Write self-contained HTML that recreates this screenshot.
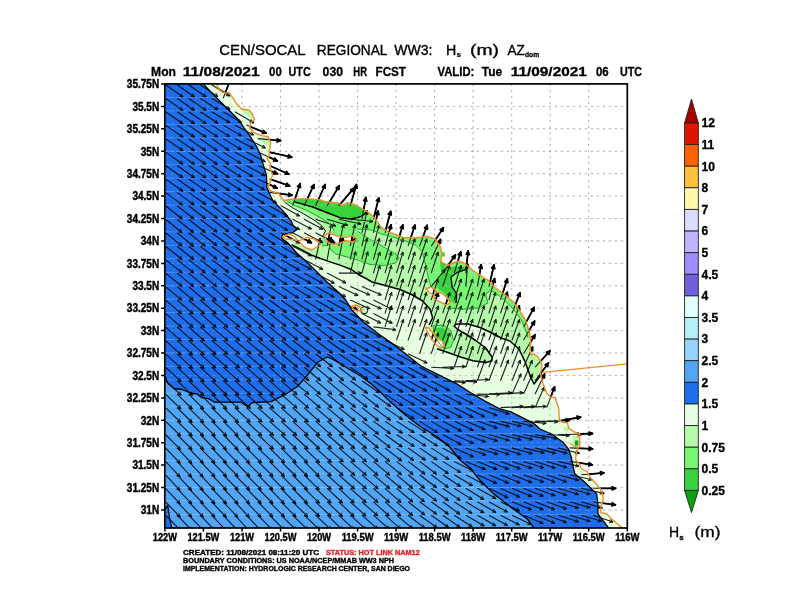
<!DOCTYPE html>
<html><head><meta charset="utf-8"><title>CEN/SOCAL REGIONAL WW3</title>
<style>html,body{margin:0;padding:0;background:#fff}svg{display:block}text{font-family:"Liberation Sans",sans-serif;font-weight:bold;fill:#000}</style></head><body>
<svg width="792" height="612" viewBox="0 0 792 612">
<rect x="0" y="0" width="792" height="612" fill="#fff"/>
<defs><clipPath id="fr"><rect x="164.8" y="83.9" width="462.5" height="444.1"/></clipPath>
<clipPath id="landclip"><path d="M217.0 82.0 L217.0 84.4 L219.0 89.5 L223.4 92.6 L229.0 92.6 L232.8 97.7 L236.6 104.0 L241.7 109.0 L249.2 110.3 L252.4 114.0 L254.3 119.8 L250.5 123.0 L249.9 128.0 L254.3 133.0 L261.9 135.6 L268.2 136.8 L270.7 143.0 L269.4 150.7 L269.0 156.3 L267.0 158.8 L270.8 163.9 L270.2 169.0 L272.7 175.3 L270.2 181.6 L268.3 187.9 L270.8 191.0 L279.0 193.6 L283.5 200.5 L291.7 199.2 L306.8 198.6 L320.7 199.9 L325.8 201.8 L338.4 203.0 L342.2 205.6 L347.6 202.7 L355.0 204.6 L362.7 209.0 L369.0 212.8 L375.4 219.0 L380.4 226.7 L388.0 231.8 L395.6 234.3 L403.0 237.4 L415.8 238.0 L427.6 236.4 L435.0 239.0 L440.2 246.5 L442.0 254.0 L440.8 261.7 L447.8 265.5 L452.8 263.0 L459.0 261.0 L465.5 264.0 L473.0 270.5 L480.6 275.6 L487.6 280.0 L495.0 287.7 L505.3 295.0 L514.0 302.8 L520.4 311.7 L525.5 320.5 L529.0 330.6 L530.5 338.0 L530.3 347.7 L531.0 355.0 L534.0 354.0 L538.0 357.0 L541.0 362.0 L542.0 368.0 L540.4 373.0 L541.7 379.0 L543.6 385.6 L546.7 393.0 L550.5 397.0 L555.0 397.6 L555.9 400.0 L558.8 409.0 L559.3 419.3 L561.6 422.0 L567.3 422.7 L569.0 428.4 L574.0 431.8 L579.8 434.0 L579.8 445.5 L577.5 448.9 L575.8 456.8 L575.8 460.0 L579.5 464.0 L581.3 468.5 L587.5 472.0 L590.5 478.0 L596.7 484.4 L601.6 490.5 L603.4 498.0 L601.6 505.0 L600.3 512.6 L606.5 513.8 L612.6 520.0 L621.0 526.7 L623.0 530.0 L632.0 530.0 L632.0 80.0ZM282.6 237.0 L289.0 233.8 L295.3 237.0 L297.0 240.0 L291.5 239.5 L285.0 239.0ZM299.0 240.8 L306.6 237.6 L314.2 238.9 L320.5 244.0 L316.7 247.0 L311.7 250.0 L305.4 247.7 L301.0 244.0ZM324.3 235.0 L329.3 233.2 L338.2 236.4 L345.8 237.6 L352.0 235.7 L357.0 238.9 L353.3 242.0 L345.8 240.8 L338.2 243.3 L333.0 244.6 L326.8 241.4ZM352.0 306.0 L356.0 305.0 L361.0 307.5 L362.0 310.5 L357.0 311.0 L353.0 309.0ZM426.0 288.5 L431.0 287.3 L435.5 289.5 L434.8 292.3 L441.0 292.7 L446.5 297.0 L450.3 302.5 L446.5 305.0 L440.0 301.8 L434.6 299.0 L433.0 294.5 L428.5 292.0ZM425.5 327.3 L429.0 328.0 L433.0 333.0 L437.5 338.5 L442.0 341.0 L444.5 346.0 L440.0 347.5 L435.5 344.0 L431.0 338.0 L427.5 332.0Z"/></clipPath></defs>
<g clip-path="url(#fr)">
<rect x="164.8" y="83.9" width="462.5" height="444.1" fill="rgb(230,255,225)"/>
<path d="M203.8 82.0 L203.8 84.4 L212.6 93.9 L225.3 106.5 L237.9 119.0 L244.2 128.0 L250.5 136.8 L256.8 147.0 L260.6 155.0 L262.6 162.6 L266.4 175.3 L267.0 187.9 L272.7 200.5 L282.8 210.6 L291.6 221.7 L292.7 225.0 L297.0 229.4 L292.7 232.6 L282.6 234.5 L282.0 238.9 L287.7 242.7 L296.5 252.8 L307.9 262.9 L318.0 273.0 L326.8 281.8 L338.2 292.0 L345.8 300.0 L351.4 309.4 L362.7 321.5 L377.9 333.6 L393.0 344.0 L406.7 354.8 L421.0 366.0 L429.0 370.0 L441.7 376.3 L456.8 383.9 L470.7 392.7 L485.9 401.6 L500.0 409.0 L510.4 411.7 L533.8 423.4 L540.0 429.0 L551.4 434.0 L562.7 442.0 L568.4 448.9 L571.2 456.8 L572.8 464.8 L574.6 473.4 L585.6 483.0 L596.7 494.0 L597.9 504.0 L597.9 513.8 L607.7 526.7 L609.0 530.0 L160.0 530.0 L160.0 82.0Z" fill="rgb(30,110,235)"/>
<path d="M165.0 376.4 L168.0 383.4 L174.0 388.5 L182.0 389.5 L190.3 393.0 L197.4 394.0 L201.4 397.6 L208.5 398.6 L214.5 402.2 L240.8 402.2 L247.9 406.7 L252.0 402.6 L271.0 401.6 L277.0 398.6 L285.3 394.5 L291.3 390.5 L297.4 386.5 L305.5 377.4 L318.0 362.0 L327.3 357.0 L332.3 359.0 L342.4 365.0 L350.5 370.0 L360.6 376.0 L370.7 383.4 L378.8 390.5 L389.0 400.6 L405.0 414.7 L421.0 427.0 L437.4 437.0 L449.5 447.0 L460.0 460.0 L470.0 468.0 L480.6 481.0 L493.4 493.6 L512.5 508.5 L527.4 519.0 L533.8 527.6 L535.0 530.0 L160.0 530.0 L160.0 376.4Z" fill="rgb(80,165,245)"/>
<path d="M164.0 510.5 L167.8 505.4 L169.3 516.5 L171.8 528.5 L160.0 528.5 L160.0 510.5Z" fill="rgb(30,110,235)"/>
<path d="M284.5 202.0 L292.0 207.5 L303.0 213.5 L314.0 220.0 L322.0 226.0 L325.5 231.0 L322.0 237.0 L318.0 241.0 L300.0 240.0 L297.0 240.0 L291.5 244.6 L301.6 249.6 L311.7 255.3 L320.5 258.5 L329.3 261.6 L340.7 265.4 L350.8 269.2 L358.4 274.5 L366.0 278.5 L372.0 282.0 L385.5 285.5 L400.6 289.7 L412.5 295.0 L422.6 301.0 L430.0 309.0 L432.7 317.7 L429.0 325.0 L428.0 332.0 L432.0 339.0 L438.0 346.0 L437.0 348.7 L448.0 352.5 L460.5 357.0 L473.0 360.7 L485.8 362.5 L492.0 360.7 L492.0 357.0 L485.8 348.0 L475.7 340.5 L465.6 334.0 L458.0 329.7 L454.0 326.0 L456.7 324.0 L468.0 324.0 L480.7 327.8 L492.0 333.0 L501.0 338.0 L510.0 341.0 L519.0 349.0 L525.0 361.6 L530.0 375.5 L534.0 384.0 L541.7 374.0 L541.0 362.0 L560.0 350.0 L560.0 190.0 L284.0 190.0Z" fill="rgb(180,250,170)"/>
<path d="M225.0 92.5 L230.0 92.8 L233.0 97.5 L231.0 99.5 L227.0 96.0Z" fill="rgb(180,250,170)"/>
<path d="M241.0 109.0 L249.0 110.5 L252.0 114.0 L253.5 118.5 L249.0 117.0 L244.0 113.0Z" fill="rgb(180,250,170)"/>
<path d="M259.0 137.0 L268.0 137.0 L270.5 143.0 L269.5 147.0 L265.0 144.5 L260.5 140.0Z" fill="rgb(180,250,170)"/>
<path d="M287.0 201.5 L296.0 206.0 L308.0 211.0 L320.0 217.5 L330.0 224.0 L334.0 231.0 L324.0 236.0 L322.0 240.0 L318.0 243.0 L322.0 246.0 L329.0 245.0 L331.0 250.0 L336.0 254.0 L346.0 256.6 L358.4 260.4 L370.0 264.5 L384.0 265.5 L395.6 263.0 L399.3 258.0 L395.6 254.0 L383.0 246.6 L371.6 240.0 L357.7 231.4 L357.7 229.0 L371.6 230.0 L381.7 234.0 L390.5 236.5 L403.0 240.0 L415.8 245.3 L422.0 251.6 L425.9 265.5 L428.4 278.0 L431.0 287.0 L426.0 288.0 L435.0 297.0 L444.0 304.0 L449.0 303.5 L447.7 308.0 L463.0 309.3 L478.0 308.0 L488.0 303.0 L485.6 294.0 L490.7 290.4 L495.7 293.0 L503.3 299.0 L513.4 309.0 L521.0 319.4 L526.7 333.0 L528.0 338.0 L530.0 337.0 L560.0 336.0 L560.0 190.0 L287.0 190.0Z" fill="rgb(120,245,115)"/>
<path d="M433.0 326.0 L444.0 325.0 L451.0 331.0 L453.5 340.0 L451.0 347.0 L444.0 349.0 L439.0 343.0 L434.0 334.0Z" fill="rgb(120,245,115)"/>
<path d="M294.5 201.8 L312.7 207.0 L327.9 213.0 L340.0 217.7 L350.6 219.0 L359.7 217.0 L365.0 214.0 L367.0 211.0 L372.0 195.0 L291.0 195.0Z" fill="rgb(55,210,60)"/>
<path d="M445.0 269.0 L454.0 266.4 L466.7 266.4 L464.0 270.0 L454.0 272.7 L450.0 277.8 L452.0 288.0 L456.6 296.7 L455.3 304.0 L450.0 300.5 L444.0 293.0 L437.6 287.9 L436.4 284.0 L441.4 275.0 L440.0 262.0 L446.0 258.0Z" fill="rgb(55,210,60)"/>
<path d="M436.0 328.0 L443.0 327.5 L448.0 333.0 L449.5 341.0 L446.0 346.0 L441.0 342.0 L437.0 336.0Z" fill="rgb(55,210,60)"/>
<path d="M573.0 436.0 L579.5 436.0 L579.5 447.5 L576.0 448.0 L573.0 444.0Z" fill="rgb(180,250,170)"/>
<path d="M564.0 426.5 L568.5 427.0 L568.0 432.0 L564.5 431.0Z" fill="rgb(180,250,170)"/>
<path d="M338.0 203.0 L342.0 203.0 L342.0 206.0 L338.0 206.0Z" fill="rgb(15,160,15)"/>
<path d="M387.0 225.5 L390.5 225.5 L390.5 229.0 L387.0 229.0Z" fill="rgb(15,160,15)"/>
<path d="M575.0 440.5 L578.3 440.5 L578.3 445.5 L575.0 445.5Z" fill="rgb(15,160,15)"/>
<path d="M164.8 97.5H627.2M164.8 110.9H627.2M164.8 124.3H627.2M164.8 137.8H627.2M164.8 151.2H627.2M164.8 164.7H627.2M164.8 178.1H627.2M164.8 191.6H627.2M164.8 205.0H627.2M164.8 218.5H627.2M164.8 231.9H627.2M164.8 245.4H627.2M164.8 258.8H627.2M164.8 272.3H627.2M164.8 285.8H627.2M164.8 299.2H627.2M164.8 312.6H627.2M164.8 326.1H627.2M164.8 339.5H627.2M164.8 353.0H627.2M164.8 366.4H627.2M164.8 379.9H627.2M164.8 393.3H627.2M164.8 406.8H627.2M164.8 420.2H627.2M164.8 433.7H627.2M164.8 447.1H627.2M164.8 460.6H627.2M164.8 474.0H627.2M164.8 487.5H627.2M164.8 500.9H627.2M164.8 514.4H627.2" stroke="rgba(225,240,255,0.34)" stroke-width="0.8" stroke-dasharray="10 1.5" fill="none"/>
<path d="M217.0 82.0 L217.0 84.4 L219.0 89.5 L223.4 92.6 L229.0 92.6 L232.8 97.7 L236.6 104.0 L241.7 109.0 L249.2 110.3 L252.4 114.0 L254.3 119.8 L250.5 123.0 L249.9 128.0 L254.3 133.0 L261.9 135.6 L268.2 136.8 L270.7 143.0 L269.4 150.7 L269.0 156.3 L267.0 158.8 L270.8 163.9 L270.2 169.0 L272.7 175.3 L270.2 181.6 L268.3 187.9 L270.8 191.0 L279.0 193.6 L283.5 200.5 L291.7 199.2 L306.8 198.6 L320.7 199.9 L325.8 201.8 L338.4 203.0 L342.2 205.6 L347.6 202.7 L355.0 204.6 L362.7 209.0 L369.0 212.8 L375.4 219.0 L380.4 226.7 L388.0 231.8 L395.6 234.3 L403.0 237.4 L415.8 238.0 L427.6 236.4 L435.0 239.0 L440.2 246.5 L442.0 254.0 L440.8 261.7 L447.8 265.5 L452.8 263.0 L459.0 261.0 L465.5 264.0 L473.0 270.5 L480.6 275.6 L487.6 280.0 L495.0 287.7 L505.3 295.0 L514.0 302.8 L520.4 311.7 L525.5 320.5 L529.0 330.6 L530.5 338.0 L530.3 347.7 L531.0 355.0 L534.0 354.0 L538.0 357.0 L541.0 362.0 L542.0 368.0 L540.4 373.0 L541.7 379.0 L543.6 385.6 L546.7 393.0 L550.5 397.0 L555.0 397.6 L555.9 400.0 L558.8 409.0 L559.3 419.3 L561.6 422.0 L567.3 422.7 L569.0 428.4 L574.0 431.8 L579.8 434.0 L579.8 445.5 L577.5 448.9 L575.8 456.8 L575.8 460.0 L579.5 464.0 L581.3 468.5 L587.5 472.0 L590.5 478.0 L596.7 484.4 L601.6 490.5 L603.4 498.0 L601.6 505.0 L600.3 512.6 L606.5 513.8 L612.6 520.0 L621.0 526.7 L623.0 530.0 L632.0 530.0 L632.0 80.0ZM282.6 237.0 L289.0 233.8 L295.3 237.0 L297.0 240.0 L291.5 239.5 L285.0 239.0ZM299.0 240.8 L306.6 237.6 L314.2 238.9 L320.5 244.0 L316.7 247.0 L311.7 250.0 L305.4 247.7 L301.0 244.0ZM324.3 235.0 L329.3 233.2 L338.2 236.4 L345.8 237.6 L352.0 235.7 L357.0 238.9 L353.3 242.0 L345.8 240.8 L338.2 243.3 L333.0 244.6 L326.8 241.4ZM352.0 306.0 L356.0 305.0 L361.0 307.5 L362.0 310.5 L357.0 311.0 L353.0 309.0ZM426.0 288.5 L431.0 287.3 L435.5 289.5 L434.8 292.3 L441.0 292.7 L446.5 297.0 L450.3 302.5 L446.5 305.0 L440.0 301.8 L434.6 299.0 L433.0 294.5 L428.5 292.0ZM425.5 327.3 L429.0 328.0 L433.0 333.0 L437.5 338.5 L442.0 341.0 L444.5 346.0 L440.0 347.5 L435.5 344.0 L431.0 338.0 L427.5 332.0Z" fill="#fff"/>
<path d="M457.5 319.0 L463.5 318.3 L464.0 325.5 L461.0 328.0 L458.0 325.0Z" fill="#fff"/>
<path d="M441.6 252.3 L444.8 252.3 L444.8 256.6 L441.6 256.6Z" fill="rgb(55,210,60)"/>
</g>
<defs><clipPath id="blueclip"><path d="M203.8 82.0 L203.8 84.4 L212.6 93.9 L225.3 106.5 L237.9 119.0 L244.2 128.0 L250.5 136.8 L256.8 147.0 L260.6 155.0 L262.6 162.6 L266.4 175.3 L267.0 187.9 L272.7 200.5 L282.8 210.6 L291.6 221.7 L292.7 225.0 L297.0 229.4 L292.7 232.6 L282.6 234.5 L282.0 238.9 L287.7 242.7 L296.5 252.8 L307.9 262.9 L318.0 273.0 L326.8 281.8 L338.2 292.0 L345.8 300.0 L351.4 309.4 L362.7 321.5 L377.9 333.6 L393.0 344.0 L406.7 354.8 L421.0 366.0 L429.0 370.0 L441.7 376.3 L456.8 383.9 L470.7 392.7 L485.9 401.6 L500.0 409.0 L510.4 411.7 L533.8 423.4 L540.0 429.0 L551.4 434.0 L562.7 442.0 L568.4 448.9 L571.2 456.8 L572.8 464.8 L574.6 473.4 L585.6 483.0 L596.7 494.0 L597.9 504.0 L597.9 513.8 L607.7 526.7 L609.0 530.0 L160.0 530.0 L160.0 82.0Z"/></clipPath>
<clipPath id="nbclip"><path clip-rule="evenodd" d="M0 0H792V612H0ZM203.8 82.0 L203.8 84.4 L212.6 93.9 L225.3 106.5 L237.9 119.0 L244.2 128.0 L250.5 136.8 L256.8 147.0 L260.6 155.0 L262.6 162.6 L266.4 175.3 L267.0 187.9 L272.7 200.5 L282.8 210.6 L291.6 221.7 L292.7 225.0 L297.0 229.4 L292.7 232.6 L282.6 234.5 L282.0 238.9 L287.7 242.7 L296.5 252.8 L307.9 262.9 L318.0 273.0 L326.8 281.8 L338.2 292.0 L345.8 300.0 L351.4 309.4 L362.7 321.5 L377.9 333.6 L393.0 344.0 L406.7 354.8 L421.0 366.0 L429.0 370.0 L441.7 376.3 L456.8 383.9 L470.7 392.7 L485.9 401.6 L500.0 409.0 L510.4 411.7 L533.8 423.4 L540.0 429.0 L551.4 434.0 L562.7 442.0 L568.4 448.9 L571.2 456.8 L572.8 464.8 L574.6 473.4 L585.6 483.0 L596.7 494.0 L597.9 504.0 L597.9 513.8 L607.7 526.7 L609.0 530.0 L160.0 530.0 L160.0 82.0Z"/></clipPath></defs>
<g clip-path="url(#nbclip)"><path d="M203.4 83.9V528.0M242.0 83.9V528.0M280.5 83.9V528.0M319.0 83.9V528.0M357.6 83.9V528.0M396.1 83.9V528.0M434.6 83.9V528.0M473.1 83.9V528.0M511.7 83.9V528.0M550.2 83.9V528.0M588.7 83.9V528.0M164.8 106.4H627.2M164.8 128.8H627.2M164.8 151.3H627.2M164.8 173.7H627.2M164.8 196.1H627.2M164.8 218.5H627.2M164.8 240.9H627.2M164.8 263.4H627.2M164.8 285.8H627.2M164.8 308.2H627.2M164.8 330.6H627.2M164.8 353.0H627.2M164.8 375.5H627.2M164.8 397.9H627.2M164.8 420.3H627.2M164.8 442.7H627.2M164.8 465.1H627.2M164.8 487.6H627.2M164.8 510.0H627.2" stroke="#8a8a8a" stroke-width="0.9" stroke-dasharray="2.3 3.7" fill="none" opacity="0.5"/></g>
<g clip-path="url(#landclip)"><path d="M203.4 83.9V528.0M242.0 83.9V528.0M280.5 83.9V528.0M319.0 83.9V528.0M357.6 83.9V528.0M396.1 83.9V528.0M434.6 83.9V528.0M473.1 83.9V528.0M511.7 83.9V528.0M550.2 83.9V528.0M588.7 83.9V528.0M164.8 106.4H627.2M164.8 128.8H627.2M164.8 151.3H627.2M164.8 173.7H627.2M164.8 196.1H627.2M164.8 218.5H627.2M164.8 240.9H627.2M164.8 263.4H627.2M164.8 285.8H627.2M164.8 308.2H627.2M164.8 330.6H627.2M164.8 353.0H627.2M164.8 375.5H627.2M164.8 397.9H627.2M164.8 420.3H627.2M164.8 442.7H627.2M164.8 465.1H627.2M164.8 487.6H627.2M164.8 510.0H627.2" stroke="#8a8a8a" stroke-width="0.9" stroke-dasharray="2.3 3.7" fill="none" opacity="0.35"/></g>
<g clip-path="url(#blueclip)"><path d="M203.4 83.9V528.0M242.0 83.9V528.0M280.5 83.9V528.0M319.0 83.9V528.0M357.6 83.9V528.0M396.1 83.9V528.0M434.6 83.9V528.0M473.1 83.9V528.0M511.7 83.9V528.0M550.2 83.9V528.0M588.7 83.9V528.0M164.8 106.4H627.2M164.8 128.8H627.2M164.8 151.3H627.2M164.8 173.7H627.2M164.8 196.1H627.2M164.8 218.5H627.2M164.8 240.9H627.2M164.8 263.4H627.2M164.8 285.8H627.2M164.8 308.2H627.2M164.8 330.6H627.2M164.8 353.0H627.2M164.8 375.5H627.2M164.8 397.9H627.2M164.8 420.3H627.2M164.8 442.7H627.2M164.8 465.1H627.2M164.8 487.6H627.2M164.8 510.0H627.2" stroke="#cfe2ff" stroke-width="0.9" stroke-dasharray="2.3 3.7" fill="none" opacity="0.28"/></g>
<g clip-path="url(#fr)">
<g clip-path="url(#landclip)"><path d="M165.5 84.8L183.0 97.0M177.1 84.8L194.5 97.0M188.6 84.8L206.1 97.0M200.2 84.8L217.9 96.6M211.7 84.8L229.8 96.0M165.5 98.2L183.0 110.4M177.1 98.2L194.5 110.5M188.6 98.2L206.1 110.4M200.2 98.2L218.0 109.9M211.7 98.2L229.9 109.3M223.2 98.2L231.2 77.5M165.5 111.7L183.0 123.8M177.1 111.7L194.6 123.8M188.6 111.7L206.2 123.6M200.2 111.7L218.0 123.3M211.7 111.7L229.9 122.8M223.2 111.7L241.5 122.6M234.8 111.7L253.2 122.5M165.5 125.1L183.1 137.2M177.1 125.1L194.6 137.2M188.6 125.1L206.2 137.2M200.2 125.1L217.8 137.1M211.7 125.1L229.6 136.6M223.2 125.1L241.6 135.9M234.8 125.1L253.7 135.0M246.4 125.1L266.1 133.1M165.5 138.6L183.0 150.7M177.1 138.6L194.5 150.8M188.6 138.6L205.9 151.0M200.2 138.6L217.4 151.0M211.7 138.6L229.2 150.8M223.2 138.6L241.4 149.7M234.8 138.6L253.7 148.5M246.4 138.6L265.5 148.0M257.9 138.6L280.6 140.7M165.5 152.1L183.0 164.2M177.1 152.1L194.4 164.4M188.6 152.1L205.9 164.5M200.2 152.1L217.4 164.6M211.7 152.1L229.0 164.4M223.2 152.1L241.1 163.6M234.8 152.1L253.3 162.6M246.4 152.1L265.3 161.7M257.9 152.1L277.3 160.9M269.4 152.1L291.7 157.2M165.5 165.5L182.9 177.7M177.1 165.5L194.5 177.8M188.6 165.5L206.0 177.9M200.2 165.5L217.5 177.9M211.7 165.5L229.3 177.5M223.2 165.5L241.1 177.1M234.8 165.5L252.8 176.8M246.4 165.5L265.0 175.7M257.9 165.5L277.5 173.8M269.4 165.5L288.9 174.2M165.5 178.9L182.9 191.3M177.1 178.9L194.5 191.2M188.6 178.9L206.1 191.1M200.2 178.9L217.8 190.9M211.7 178.9L229.5 190.7M223.2 178.9L241.1 190.5M234.8 178.9L252.7 190.5M246.4 178.9L264.6 190.0M257.9 178.9L277.1 188.1M269.4 178.9L289.6 185.9M165.5 192.4L182.6 205.1M177.1 192.4L194.2 205.0M188.6 192.4L206.0 204.7M200.2 192.4L217.7 204.5M211.7 192.4L229.4 204.2M223.2 192.4L241.1 204.0M234.8 192.4L252.7 204.0M246.4 192.4L264.4 203.7M257.9 192.4L276.5 202.8M269.4 192.4L292.1 195.2M165.5 205.8L182.3 219.0M177.1 205.8L193.9 218.9M188.6 205.8L205.6 218.7M200.2 205.8L217.4 218.3M211.7 205.8L229.1 218.1M223.2 205.8L240.7 218.0M234.8 205.8L252.4 217.9M246.4 205.8L264.1 217.6M257.9 205.8L276.0 217.1M269.4 205.8L287.9 216.5M281.0 205.8L299.7 216.1M292.6 205.8L300.2 183.7M304.1 205.8L314.0 184.6M315.6 205.8L325.2 184.5M327.2 205.8L339.3 185.8M338.8 205.8L353.9 188.1M350.3 205.8L356.5 184.5M165.5 219.3L182.1 232.7M177.1 219.3L193.6 232.7M188.6 219.3L205.3 232.5M200.2 219.3L217.1 232.1M211.7 219.3L228.8 231.9M223.2 219.3L240.3 232.0M234.8 219.3L251.9 232.0M246.4 219.3L263.7 231.7M257.9 219.3L275.6 231.1M269.4 219.3L287.7 230.4M281.0 219.3L299.6 229.6M292.6 219.3L311.5 229.0M304.1 219.3L322.9 229.3M315.6 219.3L335.9 225.9M327.2 219.3L347.7 225.2M338.8 219.3L361.1 224.0M350.3 219.3L373.0 221.5M361.9 219.3L365.9 197.5M373.4 219.3L378.8 197.8M165.5 232.8L182.1 246.1M177.1 232.8L193.6 246.2M188.6 232.8L205.2 246.1M200.2 232.8L217.0 245.7M211.7 232.8L228.8 245.5M223.2 232.8L240.3 245.6M234.8 232.8L251.8 245.6M246.4 232.8L263.5 245.3M257.9 232.8L275.3 245.0M269.4 232.8L287.4 244.2M281.0 232.8L299.6 243.2M292.6 232.8L311.4 242.8M304.1 232.8L322.9 242.7M315.6 232.8L334.5 242.7M361.9 232.8L367.1 211.2M373.4 232.8L378.0 211.0M385.0 232.8L390.7 211.3M165.5 246.2L182.1 259.5M177.1 246.2L193.7 259.5M188.6 246.2L205.3 259.4M200.2 246.2L217.0 259.2M211.7 246.2L228.8 259.0M223.2 246.2L240.3 258.9M234.8 246.2L252.0 258.8M246.4 246.2L263.6 258.7M257.9 246.2L275.2 258.7M269.4 246.2L287.2 258.0M281.0 246.2L299.6 256.6M292.6 246.2L311.5 255.9M327.2 246.2L331.4 224.4M338.8 246.2L343.4 224.5M350.3 246.2L354.9 224.5M361.9 246.2L366.9 224.6M373.4 246.2L379.2 224.8M385.0 246.2L391.1 224.9M396.5 246.2L402.8 224.9M408.1 246.2L414.9 225.1M419.6 246.2L427.2 225.3M431.2 246.2L443.4 227.7M165.5 259.6L182.2 272.9M177.1 259.6L193.7 272.9M188.6 259.6L205.3 272.9M200.2 259.6L217.0 272.7M211.7 259.6L228.7 272.5M223.2 259.6L240.4 272.3M234.8 259.6L252.0 272.2M246.4 259.6L263.6 272.2M257.9 259.6L275.2 272.1M269.4 259.6L287.2 271.5M281.0 259.6L299.5 270.2M292.6 259.6L311.4 269.5M304.1 259.6L323.0 269.4M315.6 259.6L320.2 237.9M327.2 259.6L331.1 237.8M338.8 259.6L343.0 237.9M350.3 259.6L355.0 238.0M361.9 259.6L367.1 238.1M373.4 259.6L379.4 238.3M385.0 259.6L391.3 238.4M396.5 259.6L403.0 238.4M408.1 259.6L414.9 238.5M419.6 259.6L426.8 238.7M431.2 259.6L440.5 239.5M165.5 273.1L182.1 286.5M177.1 273.1L193.6 286.6M188.6 273.1L205.1 286.6M200.2 273.1L216.6 286.6M211.7 273.1L228.3 286.4M223.2 273.1L240.2 286.1M234.8 273.1L251.9 285.8M246.4 273.1L263.6 285.6M257.9 273.1L275.3 285.4M269.4 273.1L287.2 284.9M281.0 273.1L299.2 284.2M292.6 273.1L311.1 283.6M304.1 273.1L322.8 283.4M315.6 273.1L334.3 283.3M327.2 273.1L346.0 283.1M338.8 273.1L361.6 273.1M350.3 273.1L355.6 251.6M361.9 273.1L367.8 251.7M373.4 273.1L379.8 251.9M385.0 273.1L391.4 251.9M396.5 273.1L403.0 251.9M408.1 273.1L414.8 251.9M419.6 273.1L426.5 252.0M431.2 273.1L438.1 252.0M442.7 273.1L455.4 254.9M454.2 273.1L460.7 251.9M465.8 273.1L468.1 251.0M165.5 286.6L181.9 300.1M177.1 286.6L193.3 300.3M188.6 286.6L204.8 300.4M200.2 286.6L216.3 300.5M211.7 286.6L227.9 300.3M223.2 286.6L239.8 300.0M234.8 286.6L251.7 299.6M246.4 286.6L263.4 299.3M257.9 286.6L275.2 299.0M269.4 286.6L287.0 298.7M281.0 286.6L298.8 298.2M292.6 286.6L310.6 297.8M304.1 286.6L322.4 297.4M315.6 286.6L334.1 297.1M327.2 286.6L345.8 296.9M338.8 286.6L358.0 295.6M350.3 286.6L369.9 294.9M361.9 286.6L381.4 295.1M373.4 286.6L379.9 265.3M385.0 286.6L391.4 265.3M396.5 286.6L403.1 265.3M408.1 286.6L414.8 265.4M419.6 286.6L426.4 265.4M431.2 286.6L445.2 269.4M442.7 286.6L449.6 265.4M454.2 286.6L461.2 265.5M465.8 286.6L467.7 264.4M477.4 286.6L481.2 264.7M488.9 286.6L494.0 265.0M165.5 300.0L181.7 313.8M177.1 300.0L193.2 313.9M188.6 300.0L204.7 314.0M200.2 300.0L216.2 314.0M211.7 300.0L227.8 313.9M223.2 300.0L239.6 313.7M234.8 300.0L251.4 313.4M246.4 300.0L263.1 313.2M257.9 300.0L274.8 313.0M269.4 300.0L286.6 312.7M281.0 300.0L298.4 312.3M292.6 300.0L310.2 312.0M304.1 300.0L322.1 311.4M315.6 300.0L334.0 310.8M327.2 300.0L345.6 310.6M338.8 300.0L357.4 310.3M350.3 300.0L369.8 308.7M361.9 300.0L381.2 308.8M373.4 300.0L392.5 309.4M385.0 300.0L391.5 278.8M396.5 300.0L403.2 278.8M408.1 300.0L414.9 278.9M419.6 300.0L426.5 278.9M431.2 300.0L438.0 278.9M454.2 300.0L461.2 278.9M465.8 300.0L472.7 278.9M477.4 300.0L484.0 278.8M488.9 300.0L494.6 278.6M500.5 300.0L507.3 278.9M165.5 313.4L181.6 327.4M177.1 313.4L193.1 327.4M188.6 313.4L204.7 327.4M200.2 313.4L216.2 327.4M211.7 313.4L227.9 327.3M223.2 313.4L239.6 327.1M234.8 313.4L251.2 327.0M246.4 313.4L262.8 327.0M257.9 313.4L274.4 326.9M269.4 313.4L286.2 326.6M281.0 313.4L298.0 326.3M292.6 313.4L309.6 326.2M304.1 313.4L321.3 326.0M315.6 313.4L333.6 325.0M327.2 313.4L345.6 324.2M338.8 313.4L357.3 323.9M350.3 313.4L369.2 323.3M361.9 313.4L380.8 323.1M373.4 313.4L392.3 323.2M385.0 313.4L391.6 292.3M396.5 313.4L403.3 292.3M408.1 313.4L414.9 292.3M419.6 313.4L426.5 292.3M431.2 313.4L438.2 292.4M442.7 313.4L449.8 292.4M454.2 313.4L461.3 292.4M465.8 313.4L472.7 292.4M477.4 313.4L484.2 292.3M488.9 313.4L495.5 292.3M500.5 313.4L507.3 292.3M512.0 313.4L520.0 292.7M165.5 326.9L181.3 341.2M177.1 326.9L192.9 341.2M188.6 326.9L204.5 341.0M200.2 326.9L216.2 340.9M211.7 326.9L227.9 340.7M223.2 326.9L239.6 340.6M234.8 326.9L251.1 340.6M246.4 326.9L262.7 340.6M257.9 326.9L274.2 340.6M269.4 326.9L286.0 340.3M281.0 326.9L297.8 340.0M292.6 326.9L309.4 340.0M304.1 326.9L320.9 340.0M315.6 326.9L332.8 339.6M327.2 326.9L345.1 338.5M338.8 326.9L357.0 337.8M350.3 326.9L368.8 337.4M361.9 326.9L380.6 336.9M373.4 326.9L396.0 329.7M385.0 326.9L391.7 305.7M396.5 326.9L403.3 305.8M408.1 326.9L415.0 305.8M419.6 326.9L426.7 305.9M431.2 326.9L438.4 305.9M442.7 326.9L449.9 305.9M454.2 326.9L461.4 305.9M465.8 326.9L472.7 305.8M477.4 326.9L484.2 305.8M488.9 326.9L495.8 305.8M500.5 326.9L507.4 305.8M512.0 326.9L519.3 305.9M523.5 326.9L534.2 307.4M165.5 340.3L181.1 354.8M177.1 340.3L192.6 354.9M188.6 340.3L204.3 354.8M200.2 340.3L216.0 354.5M211.7 340.3L227.8 354.3M223.2 340.3L239.5 354.1M234.8 340.3L251.1 354.0M246.4 340.3L262.7 354.0M257.9 340.3L274.2 354.0M269.4 340.3L286.0 353.8M281.0 340.3L297.8 353.5M292.6 340.3L309.4 353.4M304.1 340.3L320.9 353.4M315.6 340.3L332.7 353.1M327.2 340.3L344.7 352.5M338.8 340.3L356.7 351.9M350.3 340.3L368.6 351.2M361.9 340.3L380.6 350.5M373.4 340.3L392.4 349.9M385.0 340.3L404.3 349.4M396.5 340.3L403.4 319.3M408.1 340.3L415.1 319.3M419.6 340.3L426.7 319.3M431.2 340.3L438.3 319.3M442.7 340.3L449.9 319.4M454.2 340.3L461.3 319.3M465.8 340.3L472.7 319.2M477.4 340.3L484.2 319.2M488.9 340.3L496.0 319.3M500.5 340.3L507.8 319.4M512.0 340.3L519.5 319.4M523.5 340.3L534.6 321.1M165.5 353.8L181.1 368.3M177.1 353.8L192.6 368.3M188.6 353.8L204.2 368.3M200.2 353.8L215.9 368.1M211.7 353.8L227.7 367.9M223.2 353.8L239.4 367.7M234.8 353.8L251.0 367.6M246.4 353.8L262.6 367.6M257.9 353.8L274.1 367.6M269.4 353.8L285.8 367.5M281.0 353.8L297.6 367.2M292.6 353.8L309.3 367.0M304.1 353.8L320.9 366.9M315.6 353.8L332.5 366.8M327.2 353.8L344.3 366.5M338.8 353.8L356.3 365.9M350.3 353.8L368.3 365.1M361.9 353.8L380.3 364.4M373.4 353.8L392.1 364.0M385.0 353.8L403.6 364.1M396.5 353.8L415.4 363.6M408.1 353.8L427.2 363.1M419.6 353.8L426.7 332.8M431.2 353.8L438.3 332.8M442.7 353.8L449.8 332.8M454.2 353.8L461.3 332.7M465.8 353.8L472.7 332.7M477.4 353.8L484.4 332.7M488.9 353.8L496.3 332.9M500.5 353.8L508.0 332.9M512.0 353.8L519.6 332.9M523.5 353.8L535.0 334.8M165.5 367.2L181.1 381.7M177.1 367.2L192.6 381.8M188.6 367.2L204.2 381.8M200.2 367.2L215.8 381.7M211.7 367.2L227.4 381.6M223.2 367.2L239.2 381.4M234.8 367.2L250.8 381.3M246.4 367.2L262.3 381.4M257.9 367.2L273.8 381.4M269.4 367.2L285.4 381.3M281.0 367.2L297.2 381.0M292.6 367.2L309.0 380.7M304.1 367.2L320.6 380.7M315.6 367.2L332.1 380.8M327.2 367.2L343.7 380.7M338.8 367.2L355.7 380.1M350.3 367.2L367.9 379.2M361.9 367.2L379.9 378.6M373.4 367.2L391.5 378.4M385.0 367.2L403.2 378.2M396.5 367.2L415.2 377.5M408.1 367.2L426.8 377.4M419.6 367.2L438.3 377.4M431.2 367.2L453.9 368.4M442.7 367.2L465.5 366.5M454.2 367.2L461.4 346.2M465.8 367.2L473.0 346.2M477.4 367.2L484.7 346.3M488.9 367.2L496.5 346.4M500.5 367.2L508.1 346.4M512.0 367.2L519.6 346.4M523.5 367.2L532.6 347.0M535.1 367.2L550.0 350.8M165.5 380.7L181.1 395.2M177.1 380.7L192.5 395.4M188.6 380.7L203.9 395.5M200.2 380.7L215.4 395.6M211.7 380.7L227.1 395.5M223.2 380.7L238.9 395.2M234.8 380.7L250.6 394.9M246.4 380.7L262.2 394.9M257.9 380.7L273.7 395.0M269.4 380.7L285.3 394.9M281.0 380.7L297.1 394.7M292.6 380.7L308.9 394.4M304.1 380.7L320.5 394.3M315.6 380.7L332.0 394.4M327.2 380.7L343.5 394.4M338.8 380.7L355.5 393.9M350.3 380.7L367.5 393.3M361.9 380.7L379.4 392.8M373.4 380.7L391.3 392.3M385.0 380.7L402.8 392.3M396.5 380.7L414.9 391.5M408.1 380.7L426.7 391.0M419.6 380.7L438.2 391.0M431.2 380.7L449.9 390.8M442.7 380.7L465.4 382.7M454.2 380.7L477.0 381.9M465.8 380.7L488.6 379.5M477.4 380.7L485.0 359.8M488.9 380.7L496.7 359.9M500.5 380.7L508.4 360.0M512.0 380.7L520.3 360.1M523.5 380.7L532.2 360.3M535.1 380.7L548.5 363.0M165.5 394.1L180.9 408.8M177.1 394.1L192.3 409.0M188.6 394.1L203.7 409.2M200.2 394.1L215.2 409.2M211.7 394.1L226.8 409.2M223.2 394.1L238.6 408.9M234.8 394.1L250.5 408.5M246.4 394.1L262.2 408.4M257.9 394.1L273.8 408.4M269.4 394.1L285.3 408.3M281.0 394.1L297.0 408.2M292.6 394.1L308.6 408.1M304.1 394.1L320.3 408.0M315.6 394.1L332.0 407.8M327.2 394.1L343.6 407.7M338.8 394.1L355.5 407.3M350.3 394.1L367.1 407.2M361.9 394.1L378.7 407.2M373.4 394.1L390.8 406.5M385.0 394.1L402.8 405.8M396.5 394.1L414.7 405.3M408.1 394.1L426.5 404.8M419.6 394.1L438.2 404.5M431.2 394.1L449.9 404.2M442.7 394.1L461.5 404.1M454.2 394.1L473.2 403.9M465.8 394.1L488.5 396.5M477.4 394.1L500.1 394.5M488.9 394.1L511.6 392.6M500.5 394.1L523.2 392.6M512.0 394.1L521.0 373.8M523.5 394.1L532.6 373.9M535.1 394.1L544.6 374.1M165.5 407.6L180.8 422.4M177.1 407.6L192.2 422.5M188.6 407.6L203.7 422.6M200.2 407.6L215.2 422.7M211.7 407.6L226.8 422.6M223.2 407.6L238.5 422.5M234.8 407.6L250.3 422.2M246.4 407.6L262.1 422.0M257.9 407.6L273.7 421.9M269.4 407.6L285.3 421.8M281.0 407.6L296.8 421.9M292.6 407.6L308.3 422.0M304.1 407.6L319.8 422.0M315.6 407.6L331.7 421.6M327.2 407.6L343.5 421.3M338.8 407.6L355.3 421.0M350.3 407.6L367.1 420.7M361.9 407.6L378.7 420.7M373.4 407.6L390.5 420.3M385.0 407.6L402.6 419.6M396.5 407.6L414.4 419.1M408.1 407.6L426.1 418.9M419.6 407.6L437.8 418.6M431.2 407.6L449.8 417.9M442.7 407.6L461.6 417.4M454.2 407.6L473.2 417.3M465.8 407.6L484.9 416.9M477.4 407.6L497.1 415.6M488.9 407.6L509.2 414.1M500.5 407.6L523.2 406.4M512.0 407.6L534.8 406.4M523.5 407.6L546.3 406.4M535.1 407.6L544.1 387.3M546.7 407.6L554.6 386.9M165.5 421.1L180.7 435.9M177.1 421.1L192.2 436.0M188.6 421.1L203.7 436.1M200.2 421.1L215.2 436.1M211.7 421.1L226.7 436.2M223.2 421.1L238.2 436.2M234.8 421.1L250.0 436.0M246.4 421.1L261.8 435.7M257.9 421.1L273.6 435.5M269.4 421.1L285.2 435.4M281.0 421.1L296.7 435.5M292.6 421.1L308.1 435.6M304.1 421.1L319.7 435.6M315.6 421.1L331.5 435.3M327.2 421.1L343.3 435.0M338.8 421.1L354.9 435.0M350.3 421.1L366.6 434.8M361.9 421.1L378.6 434.2M373.4 421.1L390.5 433.8M385.0 421.1L402.4 433.2M396.5 421.1L414.3 432.7M408.1 421.1L425.9 432.6M419.6 421.1L437.5 432.6M431.2 421.1L449.4 432.1M442.7 421.1L461.4 431.2M454.2 421.1L473.3 430.5M465.8 421.1L485.3 429.6M477.4 421.1L497.4 428.1M488.9 421.1L509.5 426.6M500.5 421.1L521.1 426.2M512.0 421.1L532.7 426.3M523.5 421.1L546.2 423.4M535.1 421.1L557.9 421.8M546.7 421.1L569.4 420.3M558.2 421.1L580.7 417.1M165.5 434.5L180.5 449.6M177.1 434.5L192.1 449.6M188.6 434.5L203.6 449.6M200.2 434.5L215.1 449.7M211.7 434.5L226.5 449.8M223.2 434.5L238.1 449.8M234.8 434.5L249.7 449.7M246.4 434.5L261.6 449.4M257.9 434.5L273.4 449.2M269.4 434.5L285.0 449.1M281.0 434.5L296.5 449.1M292.6 434.5L308.1 449.0M304.1 434.5L319.7 449.0M315.6 434.5L331.5 448.7M327.2 434.5L343.3 448.5M338.8 434.5L354.8 448.5M350.3 434.5L366.5 448.4M361.9 434.5L378.3 448.0M373.4 434.5L390.2 447.6M385.0 434.5L402.2 447.0M396.5 434.5L414.2 446.4M408.1 434.5L425.9 446.1M419.6 434.5L437.5 446.1M431.2 434.5L449.2 445.7M442.7 434.5L461.4 444.8M454.2 434.5L473.6 443.5M465.8 434.5L485.7 442.0M477.4 434.5L497.6 441.1M488.9 434.5L509.3 440.5M500.5 434.5L521.1 439.9M512.0 434.5L532.7 439.6M523.5 434.5L546.0 438.6M535.1 434.5L557.5 438.6M546.7 434.5L569.4 435.7M558.2 434.5L581.0 434.5M569.8 434.5L592.5 433.5M165.5 447.9L180.2 463.3M177.1 447.9L191.8 463.4M188.6 447.9L203.4 463.3M200.2 447.9L215.0 463.2M211.7 447.9L226.5 463.2M223.2 447.9L238.1 463.3M234.8 447.9L249.7 463.2M246.4 447.9L261.5 462.9M257.9 447.9L273.2 462.8M269.4 447.9L284.7 462.8M281.0 447.9L296.2 462.9M292.6 447.9L307.7 462.9M304.1 447.9L319.5 462.7M315.6 447.9L331.4 462.3M327.2 447.9L343.3 461.9M338.8 447.9L354.9 461.8M350.3 447.9L366.5 461.8M361.9 447.9L378.0 461.8M373.4 447.9L389.8 461.5M385.0 447.9L401.8 461.0M396.5 447.9L413.7 460.5M408.1 447.9L425.5 460.2M419.6 447.9L437.2 460.0M431.2 447.9L449.0 459.6M442.7 447.9L461.2 458.5M454.2 447.9L473.6 456.8M465.8 447.9L485.9 455.1M477.4 447.9L497.7 454.2M488.9 447.9L509.2 454.5M500.5 447.9L520.7 454.5M512.0 447.9L532.5 453.7M523.5 447.9L544.3 452.9M535.1 447.9L555.7 453.4M546.7 447.9L567.2 453.4M558.2 447.9L578.8 453.2M569.8 447.9L592.5 448.9M165.5 461.4L180.1 476.9M177.1 461.4L191.6 477.0M188.6 461.4L203.2 476.9M200.2 461.4L215.0 476.7M211.7 461.4L226.6 476.6M223.2 461.4L238.2 476.6M234.8 461.4L249.8 476.5M246.4 461.4L261.5 476.4M257.9 461.4L273.0 476.4M269.4 461.4L284.5 476.5M281.0 461.4L296.1 476.5M292.6 461.4L307.6 476.5M304.1 461.4L319.3 476.3M315.6 461.4L331.2 475.9M327.2 461.4L343.1 475.5M338.8 461.4L354.9 475.3M350.3 461.4L366.4 475.3M361.9 461.4L377.9 475.4M373.4 461.4L389.6 475.2M385.0 461.4L401.5 474.8M396.5 461.4L413.2 474.6M408.1 461.4L425.0 474.3M419.6 461.4L436.6 474.2M431.2 461.4L448.4 473.8M442.7 461.4L460.8 472.6M454.2 461.4L473.3 471.0M465.8 461.4L485.5 469.5M477.4 461.4L497.1 469.4M488.9 461.4L508.7 469.2M500.5 461.4L520.4 468.8M512.0 461.4L532.2 468.2M523.5 461.4L543.9 467.8M535.1 461.4L555.3 468.1M546.7 461.4L567.0 467.6M558.2 461.4L579.0 466.2M569.8 461.4L592.3 464.8M165.5 474.8L180.0 490.4M177.1 474.8L191.6 490.4M188.6 474.8L203.2 490.4M200.2 474.8L214.9 490.2M211.7 474.8L226.6 490.1M223.2 474.8L238.2 490.0M234.8 474.8L249.8 490.0M246.4 474.8L261.4 489.9M257.9 474.8L272.9 490.0M269.4 474.8L284.3 490.1M281.0 474.8L295.8 490.2M292.6 474.8L307.5 490.0M304.1 474.8L319.3 489.8M315.6 474.8L331.2 489.4M327.2 474.8L342.9 489.2M338.8 474.8L354.7 489.0M350.3 474.8L366.4 488.8M361.9 474.8L378.0 488.7M373.4 474.8L389.7 488.6M385.0 474.8L401.3 488.5M396.5 474.8L412.8 488.5M408.1 474.8L424.6 488.2M419.6 474.8L436.6 487.7M431.2 474.8L448.3 487.4M442.7 474.8L460.5 486.5M454.2 474.8L472.6 485.7M465.8 474.8L484.6 484.8M477.4 474.8L496.9 483.4M488.9 474.8L508.5 483.1M500.5 474.8L520.2 482.9M512.0 474.8L531.9 482.4M523.5 474.8L543.6 482.0M535.1 474.8L555.1 482.1M546.7 474.8L566.7 481.9M558.2 474.8L578.8 480.4M569.8 474.8L592.0 479.8M581.3 474.8L604.0 472.9M165.5 488.3L180.1 503.8M177.1 488.3L191.7 503.8M188.6 488.3L203.3 503.7M200.2 488.3L214.9 503.6M211.7 488.3L226.5 503.6M223.2 488.3L238.0 503.7M234.8 488.3L249.5 503.7M246.4 488.3L261.2 503.5M257.9 488.3L272.9 503.5M269.4 488.3L284.3 503.6M281.0 488.3L295.8 503.6M292.6 488.3L307.5 503.5M304.1 488.3L319.4 503.2M315.6 488.3L331.1 503.0M327.2 488.3L342.6 503.0M338.8 488.3L354.2 502.9M350.3 488.3L366.2 502.5M361.9 488.3L377.9 502.3M373.4 488.3L389.4 502.4M385.0 488.3L401.0 502.3M396.5 488.3L412.8 502.0M408.1 488.3L424.5 501.8M419.6 488.3L436.6 501.1M431.2 488.3L448.5 500.7M442.7 488.3L460.2 500.4M454.2 488.3L472.3 499.6M465.8 488.3L483.9 499.5M477.4 488.3L496.0 498.6M488.9 488.3L508.0 497.8M500.5 488.3L519.9 497.0M512.0 488.3L531.7 496.4M523.5 488.3L543.3 496.2M535.1 488.3L555.1 495.7M546.7 488.3L566.8 495.2M558.2 488.3L578.6 494.5M569.8 488.3L590.2 494.2M581.3 488.3L603.5 493.4M592.9 488.3L615.6 488.3M165.5 501.8L180.3 517.1M177.1 501.8L191.8 517.1M188.6 501.8L203.4 517.1M200.2 501.8L214.9 517.1M211.7 501.8L226.3 517.2M223.2 501.8L237.8 517.3M234.8 501.8L249.3 517.3M246.4 501.8L261.0 517.2M257.9 501.8L272.8 516.9M269.4 501.8L284.5 516.9M281.0 501.8L296.0 516.8M292.6 501.8L307.7 516.7M304.1 501.8L319.5 516.5M315.6 501.8L331.0 516.5M327.2 501.8L342.5 516.5M338.8 501.8L354.1 516.5M350.3 501.8L366.0 516.1M361.9 501.8L377.8 515.9M373.4 501.8L389.2 516.0M385.0 501.8L400.8 516.0M396.5 501.8L412.7 515.6M408.1 501.8L424.8 514.9M419.6 501.8L436.8 514.3M431.2 501.8L448.4 514.2M442.7 501.8L459.9 514.3M454.2 501.8L472.1 513.4M465.8 501.8L484.0 512.8M477.4 501.8L495.8 512.4M488.9 501.8L507.5 512.1M500.5 501.8L519.6 511.0M512.0 501.8L531.7 509.8M523.5 501.8L543.3 509.7M535.1 501.8L554.9 509.6M546.7 501.8L566.7 508.9M558.2 501.8L578.6 508.0M569.8 501.8L590.2 507.6M581.3 501.8L601.7 507.9M592.9 501.8L615.4 504.9M165.5 515.2L180.5 530.3M177.1 515.2L192.0 530.4M188.6 515.2L203.5 530.4M200.2 515.2L214.9 530.5M211.7 515.2L226.3 530.7M223.2 515.2L237.8 530.8M234.8 515.2L249.3 530.8M246.4 515.2L261.0 530.7M257.9 515.2L272.8 530.4M269.4 515.2L284.6 530.2M281.0 515.2L296.3 530.0M292.6 515.2L308.0 529.9M304.1 515.2L319.6 529.8M315.6 515.2L331.1 529.8M327.2 515.2L342.6 529.9M338.8 515.2L354.3 529.8M350.3 515.2L366.1 529.5M361.9 515.2L377.9 529.2M373.4 515.2L389.4 529.3M385.0 515.2L401.0 529.2M396.5 515.2L412.9 528.8M408.1 515.2L424.9 528.2M419.6 515.2L436.9 527.6M431.2 515.2L448.6 527.5M442.7 515.2L460.2 527.4M454.2 515.2L472.2 526.7M465.8 515.2L484.2 526.0M477.4 515.2L495.8 525.8M488.9 515.2L507.6 525.4M500.5 515.2L519.4 524.9M512.0 515.2L531.2 524.4M523.5 515.2L543.1 523.5M535.1 515.2L554.8 523.3M546.7 515.2L566.6 522.6M558.2 515.2L578.5 521.8M569.8 515.2L590.2 521.3M581.3 515.2L601.7 521.2M592.9 515.2L613.0 522.1" stroke="#000" stroke-width="1.8" fill="none" stroke-linecap="round"/><path d="M183.0 97.0L179.1 96.4L181.1 93.6ZM194.5 97.0L190.6 96.4L192.6 93.6ZM206.1 97.0L202.2 96.4L204.2 93.5ZM217.9 96.6L214.0 96.0L215.9 93.2ZM229.8 96.0L225.9 95.6L227.7 92.7ZM183.0 110.4L179.1 109.8L181.1 107.0ZM194.5 110.5L190.7 109.9L192.6 107.0ZM206.1 110.4L202.3 109.8L204.2 107.0ZM218.0 109.9L214.1 109.4L216.0 106.5ZM229.9 109.3L226.0 109.0L227.8 106.0ZM231.2 77.5L231.5 81.4L228.4 80.2ZM183.0 123.8L179.2 123.2L181.1 120.4ZM194.6 123.8L190.7 123.2L192.7 120.4ZM206.2 123.6L202.4 123.1L204.3 120.3ZM218.0 123.3L214.2 122.8L216.0 119.9ZM229.9 122.8L226.0 122.4L227.8 119.5ZM241.5 122.6L237.7 122.3L239.4 119.4ZM253.2 122.5L249.3 122.2L251.0 119.2ZM183.1 137.2L179.2 136.6L181.1 133.8ZM194.6 137.2L190.7 136.6L192.7 133.8ZM206.2 137.2L202.3 136.6L204.2 133.8ZM217.8 137.1L213.9 136.5L215.8 133.7ZM229.6 136.6L225.8 136.2L227.6 133.3ZM241.6 135.9L237.8 135.6L239.5 132.6ZM253.7 135.0L249.8 134.9L251.4 131.8ZM266.1 133.1L262.2 133.4L263.5 130.2ZM183.0 150.7L179.2 150.1L181.1 147.3ZM194.5 150.8L190.6 150.2L192.6 147.4ZM205.9 151.0L202.1 150.3L204.1 147.6ZM217.4 151.0L213.6 150.4L215.6 147.6ZM229.2 150.8L225.3 150.2L227.3 147.4ZM241.4 149.7L237.5 149.3L239.3 146.4ZM253.7 148.5L249.8 148.4L251.4 145.3ZM265.5 148.0L261.6 148.0L263.1 144.9ZM280.6 140.7L276.9 142.1L277.3 138.7ZM183.0 164.2L179.1 163.6L181.1 160.8ZM194.4 164.4L190.6 163.7L192.6 161.0ZM205.9 164.5L202.0 163.9L204.0 161.1ZM217.4 164.6L213.5 163.9L215.6 161.1ZM229.0 164.4L225.2 163.8L227.2 161.0ZM241.1 163.6L237.3 163.1L239.1 160.3ZM253.3 162.6L249.4 162.4L251.1 159.4ZM265.3 161.7L261.4 161.7L263.0 158.6ZM277.3 160.9L273.4 161.0L274.8 157.9ZM291.7 157.2L287.9 158.1L288.6 154.7ZM182.9 177.7L179.1 177.1L181.1 174.3ZM194.5 177.8L190.6 177.2L192.6 174.4ZM206.0 177.9L202.1 177.2L204.1 174.4ZM217.5 177.9L213.7 177.2L215.6 174.4ZM229.3 177.5L225.4 177.0L227.4 174.1ZM241.1 177.1L237.3 176.6L239.1 173.7ZM252.8 176.8L249.0 176.4L250.8 173.5ZM265.0 175.7L261.1 175.5L262.8 172.5ZM277.5 173.8L273.6 174.0L274.9 170.9ZM288.9 174.2L285.0 174.3L286.4 171.2ZM182.9 191.3L179.0 190.7L181.0 187.9ZM194.5 191.2L190.6 190.6L192.6 187.8ZM206.1 191.1L202.2 190.5L204.2 187.7ZM217.8 190.9L213.9 190.4L215.8 187.6ZM229.5 190.7L225.6 190.2L227.5 187.3ZM241.1 190.5L237.2 190.1L239.1 187.2ZM252.7 190.5L248.8 190.1L250.7 187.2ZM264.6 190.0L260.7 189.6L262.5 186.7ZM277.1 188.1L273.2 188.1L274.7 185.1ZM289.6 185.9L285.7 186.4L286.8 183.1ZM182.6 205.1L178.8 204.4L180.8 201.6ZM194.2 205.0L190.4 204.3L192.4 201.5ZM206.0 204.7L202.1 204.1L204.1 201.3ZM217.7 204.5L213.9 203.9L215.8 201.1ZM229.4 204.2L225.6 203.7L227.5 200.8ZM241.1 204.0L237.2 203.5L239.1 200.7ZM252.7 204.0L248.8 203.5L250.7 200.6ZM264.4 203.7L260.5 203.3L262.4 200.4ZM276.5 202.8L272.6 202.6L274.3 199.6ZM292.1 195.2L288.4 196.4L288.8 193.1ZM182.3 219.0L178.5 218.1L180.6 215.5ZM193.9 218.9L190.0 218.1L192.1 215.4ZM205.6 218.7L201.8 217.9L203.8 215.2ZM217.4 218.3L213.6 217.7L215.6 214.9ZM229.1 218.1L225.3 217.5L227.2 214.7ZM240.7 218.0L236.9 217.4L238.8 214.6ZM252.4 217.9L248.5 217.3L250.4 214.5ZM264.1 217.6L260.2 217.1L262.1 214.3ZM276.0 217.1L272.1 216.7L273.9 213.8ZM287.9 216.5L284.0 216.2L285.7 213.3ZM299.7 216.1L295.8 215.9L297.4 212.9ZM300.2 183.7L300.6 187.6L297.4 186.5ZM314.0 184.6L314.1 188.5L311.0 187.1ZM325.2 184.5L325.3 188.4L322.2 187.0ZM339.3 185.8L338.9 189.7L336.0 187.9ZM353.9 188.1L353.0 191.8L350.4 189.6ZM356.5 184.5L357.2 188.4L353.9 187.4ZM182.1 232.7L178.3 231.8L180.4 229.1ZM193.6 232.7L189.8 231.8L192.0 229.1ZM205.3 232.5L201.5 231.7L203.6 229.0ZM217.1 232.1L213.3 231.4L215.4 228.7ZM228.8 231.9L225.0 231.2L227.0 228.5ZM240.3 232.0L236.5 231.3L238.5 228.6ZM251.9 232.0L248.0 231.3L250.1 228.6ZM263.7 231.7L259.8 231.1L261.8 228.3ZM275.6 231.1L271.7 230.6L273.6 227.8ZM287.7 230.4L283.8 230.0L285.5 227.1ZM299.6 229.6L295.8 229.4L297.4 226.4ZM311.5 229.0L307.6 228.9L309.2 225.9ZM322.9 229.3L319.0 229.2L320.6 226.1ZM335.9 225.9L332.0 226.4L333.1 223.2ZM347.7 225.2L343.8 225.8L344.8 222.6ZM361.1 224.0L357.3 225.0L358.0 221.6ZM373.0 221.5L369.3 222.9L369.7 219.5ZM365.9 197.5L366.9 201.2L363.6 200.6ZM378.8 197.8L379.6 201.6L376.3 200.7ZM182.1 246.1L178.3 245.3L180.4 242.6ZM193.6 246.2L189.8 245.3L192.0 242.6ZM205.2 246.1L201.4 245.2L203.5 242.6ZM217.0 245.7L213.2 244.9L215.3 242.2ZM228.8 245.5L224.9 244.8L227.0 242.0ZM240.3 245.6L236.4 244.8L238.5 242.1ZM251.8 245.6L248.0 244.8L250.0 242.1ZM263.5 245.3L259.7 244.6L261.7 241.9ZM275.3 245.0L271.5 244.4L273.4 241.6ZM287.4 244.2L283.5 243.8L285.4 240.9ZM299.6 243.2L295.7 242.9L297.4 240.0ZM311.4 242.8L307.5 242.6L309.1 239.6ZM322.9 242.7L319.0 242.6L320.6 239.6ZM334.5 242.7L330.6 242.6L332.2 239.6ZM367.1 211.2L367.9 215.0L364.6 214.2ZM378.0 211.0L379.0 214.8L375.6 214.1ZM390.7 211.3L391.4 215.1L388.1 214.2ZM182.1 259.5L178.3 258.7L180.4 256.0ZM193.7 259.5L189.9 258.7L192.0 256.0ZM205.3 259.4L201.5 258.6L203.6 255.9ZM217.0 259.2L213.2 258.4L215.3 255.7ZM228.8 259.0L224.9 258.2L227.0 255.5ZM240.3 258.9L236.5 258.2L238.5 255.4ZM252.0 258.8L248.1 258.1L250.2 255.4ZM263.6 258.7L259.7 258.0L261.8 255.3ZM275.2 258.7L271.3 258.0L273.3 255.2ZM287.2 258.0L283.3 257.5L285.2 254.7ZM299.6 256.6L295.7 256.4L297.4 253.4ZM311.5 255.9L307.6 255.8L309.2 252.8ZM331.4 224.4L332.4 228.2L329.1 227.5ZM343.4 224.5L344.3 228.3L341.0 227.6ZM354.9 224.5L355.9 228.3L352.5 227.6ZM366.9 224.6L367.8 228.4L364.5 227.6ZM379.2 224.8L380.0 228.6L376.7 227.7ZM391.1 224.9L391.8 228.7L388.5 227.8ZM402.8 224.9L403.4 228.8L400.2 227.8ZM414.9 225.1L415.5 228.9L412.2 227.9ZM427.2 225.3L427.6 229.2L424.4 228.0ZM443.4 227.7L442.9 231.5L440.0 229.7ZM182.2 272.9L178.4 272.1L180.5 269.4ZM193.7 272.9L189.9 272.1L192.0 269.4ZM205.3 272.9L201.5 272.0L203.6 269.3ZM217.0 272.7L213.1 271.9L215.2 269.2ZM228.7 272.5L224.8 271.8L226.9 269.0ZM240.4 272.3L236.5 271.6L238.6 268.9ZM252.0 272.2L248.2 271.5L250.2 268.7ZM263.6 272.2L259.8 271.5L261.8 268.7ZM275.2 272.1L271.3 271.4L273.3 268.7ZM287.2 271.5L283.3 271.0L285.2 268.1ZM299.5 270.2L295.6 270.0L297.3 267.0ZM311.4 269.5L307.5 269.4L309.1 266.3ZM323.0 269.4L319.1 269.3L320.7 266.3ZM320.2 237.9L321.1 241.7L317.8 241.0ZM331.1 237.8L332.2 241.5L328.8 240.9ZM343.0 237.9L344.0 241.6L340.6 241.0ZM355.0 238.0L356.0 241.7L352.6 241.0ZM367.1 238.1L367.9 241.9L364.6 241.1ZM379.4 238.3L380.1 242.1L376.8 241.2ZM391.3 238.4L391.9 242.2L388.6 241.2ZM403.0 238.4L403.6 242.3L400.3 241.3ZM414.9 238.5L415.4 242.4L412.2 241.3ZM426.8 238.7L427.3 242.5L424.1 241.4ZM440.5 239.5L440.6 243.4L437.5 242.0ZM182.1 286.5L178.3 285.6L180.4 282.9ZM193.6 286.6L189.8 285.7L191.9 283.0ZM205.1 286.6L201.3 285.7L203.4 283.1ZM216.6 286.6L212.8 285.7L215.0 283.1ZM228.3 286.4L224.5 285.5L226.7 282.9ZM240.2 286.1L236.3 285.3L238.4 282.6ZM251.9 285.8L248.1 285.0L250.1 282.3ZM263.6 285.6L259.8 284.9L261.8 282.1ZM275.3 285.4L271.5 284.8L273.4 282.0ZM287.2 284.9L283.3 284.4L285.2 281.5ZM299.2 284.2L295.3 283.8L297.1 280.9ZM311.1 283.6L307.2 283.3L308.9 280.4ZM322.8 283.4L318.9 283.2L320.5 280.2ZM334.3 283.3L330.4 283.2L332.1 280.2ZM346.0 283.1L342.1 282.9L343.7 279.9ZM361.6 273.1L358.0 274.8L358.0 271.4ZM355.6 251.6L356.5 255.4L353.1 254.5ZM367.8 251.7L368.5 255.6L365.3 254.6ZM379.8 251.9L380.5 255.7L377.2 254.7ZM391.4 251.9L392.0 255.7L388.8 254.7ZM403.0 251.9L403.6 255.7L400.4 254.7ZM414.8 251.9L415.4 255.8L412.1 254.8ZM426.5 252.0L427.0 255.9L423.8 254.8ZM438.1 252.0L438.6 255.9L435.4 254.8ZM455.4 254.9L454.8 258.8L452.0 256.8ZM460.7 251.9L461.4 255.7L458.1 254.7ZM468.1 251.0L469.5 254.7L466.1 254.3ZM181.9 300.1L178.1 299.2L180.3 296.6ZM193.3 300.3L189.5 299.3L191.8 296.7ZM204.8 300.4L201.0 299.4L203.2 296.8ZM216.3 300.5L212.5 299.5L214.7 296.9ZM227.9 300.3L224.2 299.4L226.4 296.8ZM239.8 300.0L236.0 299.1L238.1 296.4ZM251.7 299.6L247.8 298.8L249.9 296.1ZM263.4 299.3L259.6 298.6L261.6 295.8ZM275.2 299.0L271.3 298.3L273.3 295.6ZM287.0 298.7L283.1 298.1L285.1 295.3ZM298.8 298.2L295.0 297.7L296.8 294.9ZM310.6 297.8L306.8 297.4L308.6 294.5ZM322.4 297.4L318.5 297.1L320.3 294.2ZM334.1 297.1L330.3 296.9L331.9 293.9ZM345.8 296.9L341.9 296.7L343.6 293.7ZM358.0 295.6L354.1 295.7L355.6 292.6ZM369.9 294.9L366.0 295.1L367.3 291.9ZM381.4 295.1L377.5 295.3L378.8 292.1ZM379.9 265.3L380.5 269.2L377.2 268.2ZM391.4 265.3L392.1 269.2L388.8 268.2ZM403.1 265.3L403.7 269.2L400.4 268.2ZM414.8 265.4L415.4 269.3L412.1 268.2ZM426.4 265.4L427.0 269.3L423.7 268.2ZM445.2 269.4L444.3 273.2L441.7 271.0ZM449.6 265.4L450.1 269.3L446.9 268.2ZM461.2 265.5L461.7 269.3L458.4 268.3ZM467.7 264.4L469.1 268.1L465.7 267.8ZM481.2 264.7L482.3 268.4L478.9 267.8ZM494.0 265.0L494.9 268.8L491.6 268.0ZM181.7 313.8L178.0 312.8L180.2 310.2ZM193.2 313.9L189.4 312.9L191.7 310.3ZM204.7 314.0L200.9 312.9L203.2 310.4ZM216.2 314.0L212.5 313.0L214.7 310.4ZM227.8 313.9L224.0 312.9L226.3 310.3ZM239.6 313.7L235.8 312.7L238.0 310.1ZM251.4 313.4L247.6 312.5L249.7 309.8ZM263.1 313.2L259.3 312.4L261.4 309.7ZM274.8 313.0L271.0 312.2L273.1 309.5ZM286.6 312.7L282.7 311.9L284.8 309.2ZM298.4 312.3L294.5 311.7L296.5 308.9ZM310.2 312.0L306.3 311.4L308.2 308.6ZM322.1 311.4L318.2 311.0L320.0 308.1ZM334.0 310.8L330.1 310.5L331.9 307.5ZM345.6 310.6L341.8 310.4L343.5 307.4ZM357.4 310.3L353.5 310.1L355.2 307.1ZM369.8 308.7L365.9 308.8L367.3 305.7ZM381.2 308.8L377.3 308.9L378.8 305.8ZM392.5 309.4L388.6 309.4L390.1 306.3ZM391.5 278.8L392.1 282.6L388.8 281.6ZM403.2 278.8L403.8 282.7L400.5 281.7ZM414.9 278.9L415.4 282.7L412.2 281.7ZM426.5 278.9L427.0 282.7L423.8 281.7ZM438.0 278.9L438.6 282.8L435.3 281.7ZM461.2 278.9L461.7 282.8L458.5 281.7ZM472.7 278.9L473.2 282.8L470.0 281.7ZM484.0 278.8L484.6 282.7L481.3 281.7ZM494.6 278.6L495.4 282.4L492.1 281.5ZM507.3 278.9L507.9 282.7L504.6 281.7ZM181.6 327.4L177.8 326.4L180.0 323.8ZM193.1 327.4L189.4 326.4L191.6 323.8ZM204.7 327.4L200.9 326.4L203.2 323.8ZM216.2 327.4L212.5 326.4L214.7 323.8ZM227.9 327.3L224.1 326.3L226.3 323.7ZM239.6 327.1L235.8 326.2L238.0 323.6ZM251.2 327.0L247.4 326.1L249.6 323.5ZM262.8 327.0L259.0 326.1L261.2 323.5ZM274.4 326.9L270.6 326.0L272.8 323.4ZM286.2 326.6L282.4 325.8L284.5 323.1ZM298.0 326.3L294.2 325.5L296.2 322.8ZM309.6 326.2L305.8 325.5L307.8 322.8ZM321.3 326.0L317.5 325.3L319.5 322.6ZM333.6 325.0L329.7 324.5L331.5 321.6ZM345.6 324.2L341.7 323.9L343.4 321.0ZM357.3 323.9L353.4 323.7L355.1 320.7ZM369.2 323.3L365.3 323.2L366.9 320.2ZM380.8 323.1L376.9 323.1L378.5 320.0ZM392.3 323.2L388.4 323.1L390.0 320.1ZM391.6 292.3L392.2 296.1L388.9 295.1ZM403.3 292.3L403.8 296.2L400.6 295.1ZM414.9 292.3L415.5 296.2L412.2 295.1ZM426.5 292.3L427.0 296.2L423.8 295.1ZM438.2 292.4L438.7 296.3L435.4 295.2ZM449.8 292.4L450.3 296.3L447.1 295.2ZM461.3 292.4L461.8 296.3L458.6 295.2ZM472.7 292.4L473.3 296.2L470.0 295.2ZM484.2 292.3L484.7 296.2L481.5 295.1ZM495.5 292.3L496.1 296.1L492.9 295.1ZM507.3 292.3L507.9 296.2L504.6 295.1ZM520.0 292.7L520.3 296.6L517.1 295.4ZM181.3 341.2L177.5 340.1L179.8 337.6ZM192.9 341.2L189.1 340.1L191.4 337.6ZM204.5 341.0L200.8 340.0L203.0 337.4ZM216.2 340.9L212.5 339.9L214.7 337.3ZM227.9 340.7L224.1 339.7L226.3 337.1ZM239.6 340.6L235.8 339.6L238.0 337.0ZM251.1 340.6L247.4 339.6L249.6 337.0ZM262.7 340.6L258.9 339.6L261.1 337.0ZM274.2 340.6L270.4 339.6L272.6 337.0ZM286.0 340.3L282.2 339.4L284.3 336.8ZM297.8 340.0L294.0 339.2L296.1 336.5ZM309.4 340.0L305.5 339.2L307.6 336.5ZM320.9 340.0L317.1 339.2L319.2 336.5ZM332.8 339.6L328.9 338.9L331.0 336.1ZM345.1 338.5L341.2 338.0L343.0 335.2ZM357.0 337.8L353.1 337.5L354.9 334.6ZM368.8 337.4L365.0 337.1L366.6 334.2ZM380.6 336.9L376.7 336.8L378.4 333.8ZM396.0 329.7L392.3 330.9L392.8 327.6ZM391.7 305.7L392.3 309.6L389.0 308.6ZM403.3 305.8L403.9 309.6L400.6 308.6ZM415.0 305.8L415.5 309.7L412.3 308.6ZM426.7 305.9L427.2 309.7L423.9 308.6ZM438.4 305.9L438.8 309.8L435.6 308.7ZM449.9 305.9L450.4 309.8L447.2 308.7ZM461.4 305.9L461.9 309.7L458.6 308.6ZM472.7 305.8L473.2 309.7L470.0 308.6ZM484.2 305.8L484.8 309.7L481.5 308.6ZM495.8 305.8L496.4 309.7L493.1 308.6ZM507.4 305.8L507.9 309.7L504.7 308.6ZM519.3 305.9L519.8 309.8L516.6 308.7ZM534.2 307.4L534.0 311.3L531.0 309.7ZM181.1 354.8L177.4 353.7L179.7 351.2ZM192.6 354.9L188.9 353.7L191.2 351.2ZM204.3 354.8L200.5 353.7L202.8 351.1ZM216.0 354.5L212.3 353.5L214.6 350.9ZM227.8 354.3L224.0 353.3L226.3 350.7ZM239.5 354.1L235.7 353.1L237.9 350.5ZM251.1 354.0L247.3 353.1L249.5 350.5ZM262.7 354.0L258.9 353.1L261.1 350.5ZM274.2 354.0L270.5 353.1L272.7 350.4ZM286.0 353.8L282.2 352.9L284.3 350.3ZM297.8 353.5L293.9 352.7L296.1 350.0ZM309.4 353.4L305.5 352.6L307.6 349.9ZM320.9 353.4L317.1 352.6L319.2 349.9ZM332.7 353.1L328.9 352.4L330.9 349.7ZM344.7 352.5L340.8 351.9L342.8 349.1ZM356.7 351.9L352.8 351.4L354.6 348.5ZM368.6 351.2L364.8 350.9L366.5 347.9ZM380.6 350.5L376.7 350.3L378.3 347.3ZM392.4 349.9L388.5 349.8L390.1 346.8ZM404.3 349.4L400.4 349.4L401.8 346.3ZM403.4 319.3L403.9 323.1L400.7 322.1ZM415.1 319.3L415.6 323.2L412.3 322.1ZM426.7 319.3L427.2 323.2L424.0 322.1ZM438.3 319.3L438.8 323.2L435.6 322.1ZM449.9 319.4L450.4 323.2L447.1 322.1ZM461.3 319.3L461.8 323.2L458.5 322.1ZM472.7 319.2L473.2 323.1L470.0 322.0ZM484.2 319.2L484.8 323.1L481.5 322.0ZM496.0 319.3L496.5 323.2L493.2 322.1ZM507.8 319.4L508.3 323.3L505.1 322.2ZM519.5 319.4L519.9 323.3L516.7 322.2ZM534.6 321.1L534.4 325.0L531.4 323.3ZM181.1 368.3L177.4 367.2L179.7 364.7ZM192.6 368.3L188.9 367.2L191.2 364.7ZM204.2 368.3L200.5 367.2L202.8 364.7ZM215.9 368.1L212.2 367.0L214.5 364.5ZM227.7 367.9L223.9 366.9L226.2 364.3ZM239.4 367.7L235.6 366.7L237.8 364.1ZM251.0 367.6L247.2 366.6L249.5 364.0ZM262.6 367.6L258.8 366.6L261.0 364.0ZM274.1 367.6L270.4 366.6L272.6 364.0ZM285.8 367.5L282.0 366.5L284.2 363.9ZM297.6 367.2L293.8 366.3L295.9 363.7ZM309.3 367.0L305.5 366.1L307.6 363.5ZM320.9 366.9L317.1 366.1L319.2 363.4ZM332.5 366.8L328.7 366.0L330.8 363.3ZM344.3 366.5L340.5 365.8L342.5 363.1ZM356.3 365.9L352.4 365.3L354.4 362.5ZM368.3 365.1L364.5 364.7L366.3 361.8ZM380.3 364.4L376.4 364.1L378.1 361.2ZM392.1 364.0L388.2 363.8L389.8 360.8ZM403.6 364.1L399.7 363.9L401.4 360.9ZM415.4 363.6L411.5 363.5L413.1 360.5ZM427.2 363.1L423.3 363.1L424.8 360.1ZM426.7 332.8L427.2 336.6L424.0 335.5ZM438.3 332.8L438.8 336.6L435.5 335.5ZM449.8 332.8L450.3 336.6L447.1 335.5ZM461.3 332.7L461.8 336.6L458.5 335.5ZM472.7 332.7L473.3 336.6L470.0 335.5ZM484.4 332.7L484.9 336.6L481.6 335.5ZM496.3 332.9L496.7 336.7L493.5 335.6ZM508.0 332.9L508.4 336.8L505.2 335.6ZM519.6 332.9L520.0 336.8L516.8 335.6ZM535.0 334.8L534.6 338.7L531.7 336.9ZM181.1 381.7L177.4 380.6L179.7 378.1ZM192.6 381.8L188.9 380.6L191.2 378.1ZM204.2 381.8L200.5 380.6L202.8 378.1ZM215.8 381.7L212.0 380.6L214.4 378.1ZM227.4 381.6L223.7 380.5L226.0 378.0ZM239.2 381.4L235.4 380.4L237.7 377.8ZM250.8 381.3L247.0 380.3L249.3 377.7ZM262.3 381.4L258.5 380.3L260.8 377.8ZM273.8 381.4L270.0 380.4L272.3 377.8ZM285.4 381.3L281.7 380.3L283.9 377.7ZM297.2 381.0L293.5 380.1L295.7 377.5ZM309.0 380.7L305.3 379.8L307.4 377.2ZM320.6 380.7L316.8 379.8L319.0 377.2ZM332.1 380.8L328.3 379.9L330.5 377.3ZM343.7 380.7L339.9 379.8L342.1 377.2ZM355.7 380.1L351.9 379.3L354.0 376.6ZM367.9 379.2L364.0 378.7L366.0 375.8ZM379.9 378.6L376.0 378.2L377.8 375.3ZM391.5 378.4L387.7 378.0L389.4 375.1ZM403.2 378.2L399.3 377.8L401.1 374.9ZM415.2 377.5L411.3 377.3L412.9 374.3ZM426.8 377.4L422.9 377.3L424.5 374.3ZM438.3 377.4L434.4 377.2L436.1 374.2ZM453.9 368.4L450.3 370.0L450.5 366.6ZM465.5 366.5L462.0 368.3L461.9 364.9ZM461.4 346.2L461.9 350.1L458.6 349.0ZM473.0 346.2L473.4 350.1L470.2 349.0ZM484.7 346.3L485.1 350.2L481.9 349.0ZM496.5 346.4L496.9 350.3L493.7 349.1ZM508.1 346.4L508.5 350.3L505.2 349.1ZM519.6 346.4L520.0 350.3L516.8 349.1ZM532.6 347.0L532.7 350.9L529.6 349.5ZM550.0 350.8L548.9 354.5L546.3 352.2ZM181.1 395.2L177.3 394.1L179.7 391.6ZM192.5 395.4L188.8 394.2L191.1 391.7ZM203.9 395.5L200.2 394.3L202.6 391.8ZM215.4 395.6L211.7 394.3L214.1 391.9ZM227.1 395.5L223.3 394.3L225.7 391.8ZM238.9 395.2L235.1 394.0L237.5 391.5ZM250.6 394.9L246.9 393.9L249.2 391.3ZM262.2 394.9L258.5 393.9L260.7 391.3ZM273.7 395.0L270.0 393.9L272.3 391.3ZM285.3 394.9L281.6 393.9L283.8 391.3ZM297.1 394.7L293.3 393.7L295.5 391.1ZM308.9 394.4L305.1 393.5L307.3 390.8ZM320.5 394.3L316.7 393.4L318.9 390.8ZM332.0 394.4L328.2 393.4L330.4 390.8ZM343.5 394.4L339.8 393.4L341.9 390.8ZM355.5 393.9L351.7 393.1L353.8 390.4ZM367.5 393.3L363.6 392.6L365.7 389.8ZM379.4 392.8L375.5 392.2L377.5 389.4ZM391.3 392.3L387.4 391.8L389.3 389.0ZM402.8 392.3L399.0 391.8L400.8 388.9ZM414.9 391.5L411.0 391.2L412.7 388.2ZM426.7 391.0L422.8 390.8L424.4 387.8ZM438.2 391.0L434.4 390.8L436.0 387.8ZM449.9 390.8L446.0 390.6L447.6 387.6ZM465.4 382.7L461.8 384.1L462.1 380.7ZM477.0 381.9L473.4 383.4L473.6 380.0ZM488.6 379.5L485.2 381.4L485.0 378.0ZM485.0 359.8L485.4 363.7L482.2 362.6ZM496.7 359.9L497.1 363.8L493.9 362.6ZM508.4 360.0L508.8 363.9L505.6 362.6ZM520.3 360.1L520.6 364.0L517.4 362.7ZM532.2 360.3L532.4 364.1L529.3 362.8ZM548.5 363.0L547.7 366.8L545.0 364.7ZM180.9 408.8L177.2 407.7L179.6 405.2ZM192.3 409.0L188.6 407.8L191.0 405.3ZM203.7 409.2L200.0 407.9L202.4 405.5ZM215.2 409.2L211.5 407.9L213.9 405.5ZM226.8 409.2L223.1 407.9L225.5 405.5ZM238.6 408.9L234.9 407.7L237.3 405.2ZM250.5 408.5L246.8 407.4L249.1 404.9ZM262.2 408.4L258.4 407.3L260.7 404.8ZM273.8 408.4L270.0 407.3L272.3 404.8ZM285.3 408.3L281.6 407.3L283.9 404.7ZM297.0 408.2L293.2 407.2L295.5 404.6ZM308.6 408.1L304.9 407.1L307.1 404.5ZM320.3 408.0L316.5 407.0L318.8 404.4ZM332.0 407.8L328.2 406.9L330.4 404.3ZM343.6 407.7L339.8 406.8L342.0 404.1ZM355.5 407.3L351.7 406.5L353.8 403.8ZM367.1 407.2L363.3 406.4L365.4 403.7ZM378.7 407.2L374.9 406.4L377.0 403.7ZM390.8 406.5L386.9 405.8L388.9 403.0ZM402.8 405.8L398.9 405.3L400.8 402.4ZM414.7 405.3L410.8 404.9L412.6 402.0ZM426.5 404.8L422.6 404.5L424.3 401.6ZM438.2 404.5L434.3 404.3L436.0 401.3ZM449.9 404.2L446.0 404.0L447.7 401.0ZM461.5 404.1L457.6 404.0L459.2 401.0ZM473.2 403.9L469.3 403.8L470.9 400.7ZM488.5 396.5L484.8 397.9L485.2 394.5ZM500.1 394.5L496.6 396.2L496.7 392.8ZM511.6 392.6L508.3 394.5L508.0 391.1ZM523.2 392.6L519.8 394.5L519.6 391.1ZM521.0 373.8L521.1 377.7L518.0 376.4ZM532.6 373.9L532.7 377.8L529.6 376.4ZM544.6 374.1L544.6 378.0L541.5 376.5ZM180.8 422.4L177.1 421.2L179.5 418.7ZM192.2 422.5L188.5 421.3L190.9 418.8ZM203.7 422.6L200.0 421.4L202.4 418.9ZM215.2 422.7L211.5 421.4L213.9 419.0ZM226.8 422.6L223.1 421.4L225.5 418.9ZM238.5 422.5L234.8 421.3L237.2 418.8ZM250.3 422.2L246.6 421.1L248.9 418.6ZM262.1 422.0L258.3 420.9L260.6 418.4ZM273.7 421.9L270.0 420.8L272.3 418.2ZM285.3 421.8L281.6 420.7L283.9 418.2ZM296.8 421.9L293.1 420.8L295.4 418.2ZM308.3 422.0L304.5 420.9L306.8 418.4ZM319.8 422.0L316.1 420.9L318.4 418.3ZM331.7 421.6L327.9 420.6L330.2 418.0ZM343.5 421.3L339.8 420.3L342.0 417.7ZM355.3 421.0L351.5 420.1L353.7 417.5ZM367.1 420.7L363.3 419.9L365.4 417.2ZM378.7 420.7L374.8 419.9L376.9 417.2ZM390.5 420.3L386.6 419.6L388.7 416.9ZM402.6 419.6L398.7 419.0L400.6 416.2ZM414.4 419.1L410.6 418.6L412.4 415.7ZM426.1 418.9L422.3 418.5L424.1 415.6ZM437.8 418.6L434.0 418.3L435.7 415.3ZM449.8 417.9L445.9 417.7L447.6 414.7ZM461.6 417.4L457.7 417.3L459.3 414.3ZM473.2 417.3L469.3 417.2L470.9 414.2ZM484.9 416.9L481.0 416.9L482.5 413.9ZM497.1 415.6L493.2 415.9L494.5 412.7ZM509.2 414.1L505.3 414.6L506.4 411.4ZM523.2 406.4L519.8 408.3L519.6 404.9ZM534.8 406.4L531.4 408.3L531.2 404.9ZM546.3 406.4L542.9 408.3L542.7 404.9ZM544.1 387.3L544.2 391.2L541.1 389.8ZM554.6 386.9L554.9 390.8L551.8 389.5ZM180.7 435.9L177.0 434.7L179.4 432.3ZM192.2 436.0L188.5 434.8L190.9 432.3ZM203.7 436.1L200.0 434.8L202.4 432.4ZM215.2 436.1L211.5 434.8L214.0 432.4ZM226.7 436.2L223.0 434.9L225.5 432.5ZM238.2 436.2L234.6 434.9L237.0 432.5ZM250.0 436.0L246.3 434.8L248.7 432.3ZM261.8 435.7L258.1 434.5L260.4 432.1ZM273.6 435.5L269.8 434.4L272.1 431.9ZM285.2 435.4L281.4 434.3L283.7 431.8ZM296.7 435.5L292.9 434.4L295.3 431.8ZM308.1 435.6L304.4 434.4L306.7 431.9ZM319.7 435.6L316.0 434.4L318.3 431.9ZM331.5 435.3L327.7 434.2L330.0 431.7ZM343.3 435.0L339.6 434.0L341.8 431.4ZM354.9 435.0L351.1 434.0L353.3 431.4ZM366.6 434.8L362.8 433.8L365.0 431.2ZM378.6 434.2L374.8 433.4L376.9 430.7ZM390.5 433.8L386.6 433.1L388.7 430.3ZM402.4 433.2L398.6 432.6L400.5 429.8ZM414.3 432.7L410.4 432.2L412.3 429.4ZM425.9 432.6L422.1 432.2L423.9 429.3ZM437.5 432.6L433.6 432.2L435.5 429.3ZM449.4 432.1L445.5 431.7L447.2 428.8ZM461.4 431.2L457.5 431.0L459.2 428.0ZM473.3 430.5L469.4 430.5L470.9 427.4ZM485.3 429.6L481.4 429.7L482.8 426.6ZM497.4 428.1L493.6 428.6L494.7 425.3ZM509.5 426.6L505.6 427.3L506.5 424.0ZM521.1 426.2L517.3 427.0L518.1 423.7ZM532.7 426.3L528.8 427.1L529.7 423.8ZM546.2 423.4L542.6 424.8L542.9 421.4ZM557.9 421.8L554.3 423.4L554.4 420.0ZM569.4 420.3L566.0 422.1L565.9 418.7ZM580.7 417.1L577.5 419.4L576.9 416.0ZM180.5 449.6L176.8 448.3L179.3 445.9ZM192.1 449.6L188.4 448.3L190.8 445.9ZM203.6 449.6L199.9 448.3L202.4 445.9ZM215.1 449.7L211.4 448.4L213.8 446.0ZM226.5 449.8L222.9 448.5L225.3 446.1ZM238.1 449.8L234.4 448.5L236.8 446.1ZM249.7 449.7L246.0 448.4L248.5 446.0ZM261.6 449.4L257.9 448.2L260.3 445.7ZM273.4 449.2L269.6 448.0L272.0 445.5ZM285.0 449.1L281.3 447.9L283.6 445.4ZM296.5 449.1L292.8 447.9L295.1 445.4ZM308.1 449.0L304.4 447.9L306.7 445.4ZM319.7 449.0L316.0 447.8L318.3 445.3ZM331.5 448.7L327.8 447.6L330.1 445.1ZM343.3 448.5L339.5 447.5L341.8 444.9ZM354.8 448.5L351.1 447.5L353.3 444.9ZM366.5 448.4L362.7 447.4L364.9 444.8ZM378.3 448.0L374.5 447.1L376.7 444.5ZM390.2 447.6L386.4 446.8L388.5 444.1ZM402.2 447.0L398.4 446.3L400.4 443.6ZM414.2 446.4L410.3 445.9L412.2 443.0ZM425.9 446.1L422.0 445.7L423.9 442.8ZM437.5 446.1L433.6 445.6L435.5 442.7ZM449.2 445.7L445.4 445.3L447.2 442.4ZM461.4 444.8L457.5 444.6L459.1 441.6ZM473.6 443.5L469.7 443.6L471.1 440.5ZM485.7 442.0L481.8 442.4L483.1 439.2ZM497.6 441.1L493.7 441.7L494.8 438.4ZM509.3 440.5L505.5 441.2L506.5 437.9ZM521.1 439.9L517.2 440.6L518.1 437.3ZM532.7 439.6L528.9 440.4L529.7 437.1ZM546.0 438.6L542.2 439.7L542.8 436.3ZM557.5 438.6L553.8 439.6L554.4 436.3ZM569.4 435.7L565.8 437.2L566.0 433.8ZM581.0 434.5L577.5 436.2L577.5 432.8ZM592.5 433.5L589.1 435.4L589.0 432.0ZM180.2 463.3L176.6 462.0L179.0 459.6ZM191.8 463.4L188.1 462.0L190.6 459.6ZM203.4 463.3L199.7 461.9L202.2 459.6ZM215.0 463.2L211.4 461.9L213.8 459.5ZM226.5 463.2L222.9 461.9L225.3 459.5ZM238.1 463.3L234.4 461.9L236.9 459.6ZM249.7 463.2L246.0 461.9L248.5 459.5ZM261.5 462.9L257.8 461.7L260.2 459.2ZM273.2 462.8L269.5 461.6L271.9 459.1ZM284.7 462.8L281.0 461.6L283.4 459.1ZM296.2 462.9L292.5 461.7L294.9 459.2ZM307.7 462.9L304.0 461.7L306.4 459.2ZM319.5 462.7L315.8 461.5L318.1 459.0ZM331.4 462.3L327.7 461.2L330.0 458.6ZM343.3 461.9L339.5 460.9L341.7 458.3ZM354.9 461.8L351.1 460.9L353.4 458.3ZM366.5 461.8L362.7 460.8L364.9 458.2ZM378.0 461.8L374.2 460.8L376.5 458.2ZM389.8 461.5L386.0 460.6L388.2 458.0ZM401.8 461.0L398.0 460.2L400.1 457.5ZM413.7 460.5L409.9 459.8L411.9 457.0ZM425.5 460.2L421.6 459.6L423.6 456.8ZM437.2 460.0L433.3 459.4L435.2 456.6ZM449.0 459.6L445.1 459.1L447.0 456.2ZM461.2 458.5L457.3 458.2L459.0 455.2ZM473.6 456.8L469.7 456.9L471.1 453.8ZM485.9 455.1L482.0 455.6L483.1 452.3ZM497.7 454.2L493.9 454.8L494.9 451.5ZM509.2 454.5L505.3 455.0L506.4 451.8ZM520.7 454.5L516.9 455.0L517.9 451.8ZM532.5 453.7L528.7 454.4L529.6 451.1ZM544.3 452.9L540.5 453.8L541.3 450.4ZM555.7 453.4L551.9 454.2L552.7 450.9ZM567.2 453.4L563.4 454.2L564.3 450.9ZM578.8 453.2L575.0 454.0L575.9 450.7ZM592.5 448.9L589.0 450.5L589.1 447.0ZM180.1 476.9L176.4 475.6L178.9 473.2ZM191.6 477.0L187.9 475.6L190.4 473.2ZM203.2 476.9L199.6 475.5L202.1 473.2ZM215.0 476.7L211.3 475.4L213.7 473.0ZM226.6 476.6L222.9 475.3L225.4 472.9ZM238.2 476.6L234.5 475.3L236.9 472.9ZM249.8 476.5L246.1 475.2L248.6 472.8ZM261.5 476.4L257.8 475.1L260.2 472.7ZM273.0 476.4L269.4 475.1L271.8 472.7ZM284.5 476.5L280.8 475.2L283.2 472.8ZM296.1 476.5L292.4 475.2L294.8 472.8ZM307.6 476.5L303.9 475.2L306.3 472.8ZM319.3 476.3L315.6 475.1L318.0 472.7ZM331.2 475.9L327.5 474.8L329.8 472.3ZM343.1 475.5L339.4 474.5L341.7 471.9ZM354.9 475.3L351.1 474.3L353.3 471.8ZM366.4 475.3L362.6 474.3L364.9 471.8ZM377.9 475.4L374.2 474.4L376.4 471.8ZM389.6 475.2L385.8 474.2L388.1 471.6ZM401.5 474.8L397.7 473.9L399.9 471.3ZM413.2 474.6L409.4 473.8L411.5 471.1ZM425.0 474.3L421.2 473.5L423.3 470.8ZM436.6 474.2L432.8 473.4L434.9 470.7ZM448.4 473.8L444.6 473.2L446.6 470.4ZM460.8 472.6L456.9 472.2L458.7 469.3ZM473.3 471.0L469.4 470.9L470.9 467.9ZM485.5 469.5L481.6 469.7L482.9 466.6ZM497.1 469.4L493.2 469.6L494.5 466.5ZM508.7 469.2L504.8 469.5L506.1 466.3ZM520.4 468.8L516.6 469.2L517.7 465.9ZM532.2 468.2L528.3 468.7L529.4 465.4ZM543.9 467.8L540.0 468.4L541.0 465.1ZM555.3 468.1L551.5 468.6L552.5 465.4ZM567.0 467.6L563.2 468.2L564.2 465.0ZM579.0 466.2L575.2 467.1L575.9 463.7ZM592.3 464.8L588.6 466.0L589.1 462.6ZM180.0 490.4L176.4 489.0L178.9 486.7ZM191.6 490.4L187.9 489.0L190.4 486.7ZM203.2 490.4L199.5 489.0L202.0 486.7ZM214.9 490.2L211.2 488.9L213.7 486.5ZM226.6 490.1L222.9 488.8L225.4 486.4ZM238.2 490.0L234.5 488.7L237.0 486.3ZM249.8 490.0L246.1 488.7L248.5 486.3ZM261.4 489.9L257.7 488.6L260.1 486.2ZM272.9 490.0L269.2 488.7L271.7 486.3ZM284.3 490.1L280.6 488.8L283.1 486.4ZM295.8 490.2L292.1 488.8L294.6 486.5ZM307.5 490.0L303.8 488.7L306.3 486.3ZM319.3 489.8L315.6 488.5L318.0 486.1ZM331.2 489.4L327.4 488.3L329.8 485.8ZM342.9 489.2L339.2 488.1L341.5 485.6ZM354.7 489.0L350.9 487.9L353.2 485.4ZM366.4 488.8L362.6 487.8L364.9 485.2ZM378.0 488.7L374.2 487.8L376.5 485.2ZM389.7 488.6L385.9 487.7L388.1 485.0ZM401.3 488.5L397.5 487.5L399.7 484.9ZM412.8 488.5L409.1 487.6L411.2 485.0ZM424.6 488.2L420.8 487.4L423.0 484.7ZM436.6 487.7L432.8 486.9L434.8 484.2ZM448.3 487.4L444.5 486.8L446.5 484.0ZM460.5 486.5L456.7 486.0L458.5 483.1ZM472.6 485.7L468.7 485.4L470.4 482.4ZM484.6 484.8L480.7 484.7L482.3 481.6ZM496.9 483.4L493.0 483.5L494.3 480.4ZM508.5 483.1L504.6 483.3L506.0 480.2ZM520.2 482.9L516.3 483.1L517.6 480.0ZM531.9 482.4L528.0 482.8L529.2 479.6ZM543.6 482.0L539.7 482.5L540.9 479.2ZM555.1 482.1L551.3 482.5L552.4 479.3ZM566.7 481.9L562.9 482.4L564.0 479.1ZM578.8 480.4L574.9 481.1L575.8 477.8ZM592.0 479.8L588.2 480.7L589.0 477.4ZM604.0 472.9L600.7 474.9L600.4 471.5ZM180.1 503.8L176.5 502.4L179.0 500.1ZM191.7 503.8L188.0 502.4L190.5 500.1ZM203.3 503.7L199.6 502.4L202.1 500.0ZM214.9 503.6L211.3 502.3L213.7 499.9ZM226.5 503.6L222.8 502.3L225.3 499.9ZM238.0 503.7L234.3 502.3L236.8 500.0ZM249.5 503.7L245.9 502.3L248.4 500.0ZM261.2 503.5L257.6 502.2L260.0 499.8ZM272.9 503.5L269.2 502.2L271.6 499.8ZM284.3 503.6L280.6 502.2L283.1 499.9ZM295.8 503.6L292.2 502.3L294.6 499.9ZM307.5 503.5L303.8 502.2L306.3 499.8ZM319.4 503.2L315.7 501.9L318.0 499.5ZM331.1 503.0L327.4 501.8L329.7 499.3ZM342.6 503.0L338.9 501.8L341.2 499.4ZM354.2 502.9L350.5 501.8L352.9 499.3ZM366.2 502.5L362.4 501.4L364.7 498.9ZM377.9 502.3L374.1 501.3L376.4 498.7ZM389.4 502.4L385.6 501.3L387.9 498.8ZM401.0 502.3L397.3 501.3L399.5 498.7ZM412.8 502.0L409.1 501.0L411.2 498.4ZM424.5 501.8L420.7 500.9L422.9 498.2ZM436.6 501.1L432.8 500.4L434.8 497.6ZM448.5 500.7L444.6 500.0L446.6 497.3ZM460.2 500.4L456.4 499.8L458.3 497.0ZM472.3 499.6L468.4 499.2L470.2 496.3ZM483.9 499.5L480.0 499.1L481.8 496.2ZM496.0 498.6L492.1 498.4L493.7 495.4ZM508.0 497.8L504.1 497.8L505.6 494.7ZM519.9 497.0L516.0 497.1L517.4 494.0ZM531.7 496.4L527.8 496.6L529.1 493.5ZM543.3 496.2L539.4 496.5L540.7 493.3ZM555.1 495.7L551.2 496.1L552.4 492.9ZM566.8 495.2L562.9 495.7L564.0 492.4ZM578.6 494.5L574.7 495.1L575.7 491.9ZM590.2 494.2L586.4 494.9L587.3 491.6ZM603.5 493.4L599.7 494.2L600.5 490.9ZM615.6 488.3L612.1 490.0L612.1 486.6ZM180.3 517.1L176.6 515.7L179.1 513.4ZM191.8 517.1L188.2 515.7L190.6 513.4ZM203.4 517.1L199.7 515.7L202.2 513.4ZM214.9 517.1L211.3 515.8L213.7 513.4ZM226.3 517.2L222.7 515.8L225.2 513.5ZM237.8 517.3L234.2 515.9L236.7 513.6ZM249.3 517.3L245.7 515.9L248.2 513.6ZM261.0 517.2L257.4 515.8L259.8 513.5ZM272.8 516.9L269.1 515.6L271.6 513.2ZM284.5 516.9L280.8 515.6L283.2 513.2ZM296.0 516.8L292.3 515.6L294.8 513.2ZM307.7 516.7L304.0 515.5L306.4 513.0ZM319.5 516.5L315.8 515.3L318.1 512.8ZM331.0 516.5L327.3 515.3L329.7 512.8ZM342.5 516.5L338.8 515.3L341.2 512.9ZM354.1 516.5L350.4 515.3L352.8 512.8ZM366.0 516.1L362.3 515.0L364.6 512.5ZM377.8 515.9L374.0 514.8L376.3 512.3ZM389.2 516.0L385.5 514.9L387.8 512.4ZM400.8 516.0L397.0 514.9L399.3 512.4ZM412.7 515.6L408.9 514.6L411.2 512.0ZM424.8 514.9L421.0 514.1L423.1 511.4ZM436.8 514.3L432.9 513.6L435.0 510.9ZM448.4 514.2L444.6 513.6L446.6 510.8ZM459.9 514.3L456.1 513.6L458.1 510.8ZM472.1 513.4L468.2 512.9L470.1 510.1ZM484.0 512.8L480.1 512.4L481.9 509.5ZM495.8 512.4L491.9 512.1L493.6 509.1ZM507.5 512.1L503.6 511.9L505.3 508.9ZM519.6 511.0L515.7 511.0L517.2 508.0ZM531.7 509.8L527.8 510.1L529.1 506.9ZM543.3 509.7L539.4 510.0L540.7 506.8ZM554.9 509.6L551.0 509.9L552.3 506.7ZM566.7 508.9L562.8 509.3L564.0 506.1ZM578.6 508.0L574.7 508.6L575.7 505.3ZM590.2 507.6L586.4 508.3L587.3 505.0ZM601.7 507.9L597.8 508.5L598.8 505.3ZM615.4 504.9L611.7 506.1L612.2 502.7ZM180.5 530.3L176.8 529.0L179.2 526.6ZM192.0 530.4L188.3 529.1L190.8 526.7ZM203.5 530.4L199.8 529.1L202.3 526.7ZM214.9 530.5L211.3 529.2L213.7 526.8ZM226.3 530.7L222.7 529.3L225.2 527.0ZM237.8 530.8L234.1 529.4L236.6 527.0ZM249.3 530.8L245.7 529.4L248.2 527.0ZM261.0 530.7L257.3 529.3L259.8 527.0ZM272.8 530.4L269.1 529.1L271.6 526.7ZM284.6 530.2L280.9 528.9L283.3 526.5ZM296.3 530.0L292.6 528.8L295.0 526.4ZM308.0 529.9L304.2 528.7L306.6 526.3ZM319.6 529.8L315.9 528.6L318.2 526.2ZM331.1 529.8L327.4 528.7L329.8 526.2ZM342.6 529.9L338.9 528.7L341.3 526.2ZM354.3 529.8L350.5 528.6L352.9 526.2ZM366.1 529.5L362.4 528.4L364.6 525.9ZM377.9 529.2L374.1 528.2L376.4 525.6ZM389.4 529.3L385.6 528.2L387.9 525.7ZM401.0 529.2L397.2 528.2L399.5 525.6ZM412.9 528.8L409.1 527.9L411.3 525.3ZM424.9 528.2L421.1 527.4L423.2 524.7ZM436.9 527.6L433.0 527.0L435.0 524.2ZM448.6 527.5L444.7 526.9L446.7 524.1ZM460.2 527.4L456.3 526.8L458.3 523.9ZM472.2 526.7L468.3 526.2L470.2 523.4ZM484.2 526.0L480.3 525.7L482.0 522.7ZM495.8 525.8L491.9 525.6L493.6 522.6ZM507.6 525.4L503.7 525.2L505.3 522.3ZM519.4 524.9L515.5 524.8L517.1 521.8ZM531.2 524.4L527.3 524.4L528.8 521.3ZM543.1 523.5L539.3 523.7L540.6 520.6ZM554.8 523.3L550.9 523.5L552.2 520.4ZM566.6 522.6L562.7 523.0L563.9 519.8ZM578.5 521.8L574.6 522.3L575.7 519.1ZM590.2 521.3L586.3 521.9L587.3 518.6ZM601.7 521.2L597.9 521.9L598.9 518.6ZM613.0 522.1L609.1 522.6L610.2 519.4Z" fill="#000" stroke="#000" stroke-width="1.5" stroke-linejoin="round"/></g>
<path d="M165.5 84.8L183.0 97.0M177.1 84.8L194.5 97.0M188.6 84.8L206.1 97.0M200.2 84.8L217.9 96.6M211.7 84.8L229.8 96.0M165.5 98.2L183.0 110.4M177.1 98.2L194.5 110.5M188.6 98.2L206.1 110.4M200.2 98.2L218.0 109.9M211.7 98.2L229.9 109.3M223.2 98.2L231.2 77.5M165.5 111.7L183.0 123.8M177.1 111.7L194.6 123.8M188.6 111.7L206.2 123.6M200.2 111.7L218.0 123.3M211.7 111.7L229.9 122.8M223.2 111.7L241.5 122.6M234.8 111.7L253.2 122.5M165.5 125.1L183.1 137.2M177.1 125.1L194.6 137.2M188.6 125.1L206.2 137.2M200.2 125.1L217.8 137.1M211.7 125.1L229.6 136.6M223.2 125.1L241.6 135.9M234.8 125.1L253.7 135.0M246.4 125.1L266.1 133.1M165.5 138.6L183.0 150.7M177.1 138.6L194.5 150.8M188.6 138.6L205.9 151.0M200.2 138.6L217.4 151.0M211.7 138.6L229.2 150.8M223.2 138.6L241.4 149.7M234.8 138.6L253.7 148.5M246.4 138.6L265.5 148.0M257.9 138.6L280.6 140.7M165.5 152.1L183.0 164.2M177.1 152.1L194.4 164.4M188.6 152.1L205.9 164.5M200.2 152.1L217.4 164.6M211.7 152.1L229.0 164.4M223.2 152.1L241.1 163.6M234.8 152.1L253.3 162.6M246.4 152.1L265.3 161.7M257.9 152.1L277.3 160.9M269.4 152.1L291.7 157.2M165.5 165.5L182.9 177.7M177.1 165.5L194.5 177.8M188.6 165.5L206.0 177.9M200.2 165.5L217.5 177.9M211.7 165.5L229.3 177.5M223.2 165.5L241.1 177.1M234.8 165.5L252.8 176.8M246.4 165.5L265.0 175.7M257.9 165.5L277.5 173.8M269.4 165.5L288.9 174.2M165.5 178.9L182.9 191.3M177.1 178.9L194.5 191.2M188.6 178.9L206.1 191.1M200.2 178.9L217.8 190.9M211.7 178.9L229.5 190.7M223.2 178.9L241.1 190.5M234.8 178.9L252.7 190.5M246.4 178.9L264.6 190.0M257.9 178.9L277.1 188.1M269.4 178.9L289.6 185.9M165.5 192.4L182.6 205.1M177.1 192.4L194.2 205.0M188.6 192.4L206.0 204.7M200.2 192.4L217.7 204.5M211.7 192.4L229.4 204.2M223.2 192.4L241.1 204.0M234.8 192.4L252.7 204.0M246.4 192.4L264.4 203.7M257.9 192.4L276.5 202.8M269.4 192.4L292.1 195.2M165.5 205.8L182.3 219.0M177.1 205.8L193.9 218.9M188.6 205.8L205.6 218.7M200.2 205.8L217.4 218.3M211.7 205.8L229.1 218.1M223.2 205.8L240.7 218.0M234.8 205.8L252.4 217.9M246.4 205.8L264.1 217.6M257.9 205.8L276.0 217.1M269.4 205.8L287.9 216.5M281.0 205.8L299.7 216.1M292.6 205.8L300.2 183.7M304.1 205.8L314.0 184.6M315.6 205.8L325.2 184.5M327.2 205.8L339.3 185.8M338.8 205.8L353.9 188.1M350.3 205.8L356.5 184.5M165.5 219.3L182.1 232.7M177.1 219.3L193.6 232.7M188.6 219.3L205.3 232.5M200.2 219.3L217.1 232.1M211.7 219.3L228.8 231.9M223.2 219.3L240.3 232.0M234.8 219.3L251.9 232.0M246.4 219.3L263.7 231.7M257.9 219.3L275.6 231.1M269.4 219.3L287.7 230.4M281.0 219.3L299.6 229.6M292.6 219.3L311.5 229.0M304.1 219.3L322.9 229.3M315.6 219.3L335.9 225.9M327.2 219.3L347.7 225.2M338.8 219.3L361.1 224.0M350.3 219.3L373.0 221.5M361.9 219.3L365.9 197.5M373.4 219.3L378.8 197.8M165.5 232.8L182.1 246.1M177.1 232.8L193.6 246.2M188.6 232.8L205.2 246.1M200.2 232.8L217.0 245.7M211.7 232.8L228.8 245.5M223.2 232.8L240.3 245.6M234.8 232.8L251.8 245.6M246.4 232.8L263.5 245.3M257.9 232.8L275.3 245.0M269.4 232.8L287.4 244.2M281.0 232.8L299.6 243.2M292.6 232.8L311.4 242.8M304.1 232.8L322.9 242.7M315.6 232.8L334.5 242.7M361.9 232.8L367.1 211.2M373.4 232.8L378.0 211.0M385.0 232.8L390.7 211.3M165.5 246.2L182.1 259.5M177.1 246.2L193.7 259.5M188.6 246.2L205.3 259.4M200.2 246.2L217.0 259.2M211.7 246.2L228.8 259.0M223.2 246.2L240.3 258.9M234.8 246.2L252.0 258.8M246.4 246.2L263.6 258.7M257.9 246.2L275.2 258.7M269.4 246.2L287.2 258.0M281.0 246.2L299.6 256.6M292.6 246.2L311.5 255.9M327.2 246.2L331.4 224.4M338.8 246.2L343.4 224.5M350.3 246.2L354.9 224.5M361.9 246.2L366.9 224.6M373.4 246.2L379.2 224.8M385.0 246.2L391.1 224.9M396.5 246.2L402.8 224.9M408.1 246.2L414.9 225.1M419.6 246.2L427.2 225.3M431.2 246.2L443.4 227.7M165.5 259.6L182.2 272.9M177.1 259.6L193.7 272.9M188.6 259.6L205.3 272.9M200.2 259.6L217.0 272.7M211.7 259.6L228.7 272.5M223.2 259.6L240.4 272.3M234.8 259.6L252.0 272.2M246.4 259.6L263.6 272.2M257.9 259.6L275.2 272.1M269.4 259.6L287.2 271.5M281.0 259.6L299.5 270.2M292.6 259.6L311.4 269.5M304.1 259.6L323.0 269.4M315.6 259.6L320.2 237.9M327.2 259.6L331.1 237.8M338.8 259.6L343.0 237.9M350.3 259.6L355.0 238.0M361.9 259.6L367.1 238.1M373.4 259.6L379.4 238.3M385.0 259.6L391.3 238.4M396.5 259.6L403.0 238.4M408.1 259.6L414.9 238.5M419.6 259.6L426.8 238.7M431.2 259.6L440.5 239.5M165.5 273.1L182.1 286.5M177.1 273.1L193.6 286.6M188.6 273.1L205.1 286.6M200.2 273.1L216.6 286.6M211.7 273.1L228.3 286.4M223.2 273.1L240.2 286.1M234.8 273.1L251.9 285.8M246.4 273.1L263.6 285.6M257.9 273.1L275.3 285.4M269.4 273.1L287.2 284.9M281.0 273.1L299.2 284.2M292.6 273.1L311.1 283.6M304.1 273.1L322.8 283.4M315.6 273.1L334.3 283.3M327.2 273.1L346.0 283.1M338.8 273.1L361.6 273.1M350.3 273.1L355.6 251.6M361.9 273.1L367.8 251.7M373.4 273.1L379.8 251.9M385.0 273.1L391.4 251.9M396.5 273.1L403.0 251.9M408.1 273.1L414.8 251.9M419.6 273.1L426.5 252.0M431.2 273.1L438.1 252.0M442.7 273.1L455.4 254.9M454.2 273.1L460.7 251.9M465.8 273.1L468.1 251.0M165.5 286.6L181.9 300.1M177.1 286.6L193.3 300.3M188.6 286.6L204.8 300.4M200.2 286.6L216.3 300.5M211.7 286.6L227.9 300.3M223.2 286.6L239.8 300.0M234.8 286.6L251.7 299.6M246.4 286.6L263.4 299.3M257.9 286.6L275.2 299.0M269.4 286.6L287.0 298.7M281.0 286.6L298.8 298.2M292.6 286.6L310.6 297.8M304.1 286.6L322.4 297.4M315.6 286.6L334.1 297.1M327.2 286.6L345.8 296.9M338.8 286.6L358.0 295.6M350.3 286.6L369.9 294.9M361.9 286.6L381.4 295.1M373.4 286.6L379.9 265.3M385.0 286.6L391.4 265.3M396.5 286.6L403.1 265.3M408.1 286.6L414.8 265.4M419.6 286.6L426.4 265.4M431.2 286.6L445.2 269.4M442.7 286.6L449.6 265.4M454.2 286.6L461.2 265.5M465.8 286.6L467.7 264.4M477.4 286.6L481.2 264.7M488.9 286.6L494.0 265.0M165.5 300.0L181.7 313.8M177.1 300.0L193.2 313.9M188.6 300.0L204.7 314.0M200.2 300.0L216.2 314.0M211.7 300.0L227.8 313.9M223.2 300.0L239.6 313.7M234.8 300.0L251.4 313.4M246.4 300.0L263.1 313.2M257.9 300.0L274.8 313.0M269.4 300.0L286.6 312.7M281.0 300.0L298.4 312.3M292.6 300.0L310.2 312.0M304.1 300.0L322.1 311.4M315.6 300.0L334.0 310.8M327.2 300.0L345.6 310.6M338.8 300.0L357.4 310.3M350.3 300.0L369.8 308.7M361.9 300.0L381.2 308.8M373.4 300.0L392.5 309.4M385.0 300.0L391.5 278.8M396.5 300.0L403.2 278.8M408.1 300.0L414.9 278.9M419.6 300.0L426.5 278.9M431.2 300.0L438.0 278.9M454.2 300.0L461.2 278.9M465.8 300.0L472.7 278.9M477.4 300.0L484.0 278.8M488.9 300.0L494.6 278.6M500.5 300.0L507.3 278.9M165.5 313.4L181.6 327.4M177.1 313.4L193.1 327.4M188.6 313.4L204.7 327.4M200.2 313.4L216.2 327.4M211.7 313.4L227.9 327.3M223.2 313.4L239.6 327.1M234.8 313.4L251.2 327.0M246.4 313.4L262.8 327.0M257.9 313.4L274.4 326.9M269.4 313.4L286.2 326.6M281.0 313.4L298.0 326.3M292.6 313.4L309.6 326.2M304.1 313.4L321.3 326.0M315.6 313.4L333.6 325.0M327.2 313.4L345.6 324.2M338.8 313.4L357.3 323.9M350.3 313.4L369.2 323.3M361.9 313.4L380.8 323.1M373.4 313.4L392.3 323.2M385.0 313.4L391.6 292.3M396.5 313.4L403.3 292.3M408.1 313.4L414.9 292.3M419.6 313.4L426.5 292.3M431.2 313.4L438.2 292.4M442.7 313.4L449.8 292.4M454.2 313.4L461.3 292.4M465.8 313.4L472.7 292.4M477.4 313.4L484.2 292.3M488.9 313.4L495.5 292.3M500.5 313.4L507.3 292.3M512.0 313.4L520.0 292.7M165.5 326.9L181.3 341.2M177.1 326.9L192.9 341.2M188.6 326.9L204.5 341.0M200.2 326.9L216.2 340.9M211.7 326.9L227.9 340.7M223.2 326.9L239.6 340.6M234.8 326.9L251.1 340.6M246.4 326.9L262.7 340.6M257.9 326.9L274.2 340.6M269.4 326.9L286.0 340.3M281.0 326.9L297.8 340.0M292.6 326.9L309.4 340.0M304.1 326.9L320.9 340.0M315.6 326.9L332.8 339.6M327.2 326.9L345.1 338.5M338.8 326.9L357.0 337.8M350.3 326.9L368.8 337.4M361.9 326.9L380.6 336.9M373.4 326.9L396.0 329.7M385.0 326.9L391.7 305.7M396.5 326.9L403.3 305.8M408.1 326.9L415.0 305.8M419.6 326.9L426.7 305.9M431.2 326.9L438.4 305.9M442.7 326.9L449.9 305.9M454.2 326.9L461.4 305.9M465.8 326.9L472.7 305.8M477.4 326.9L484.2 305.8M488.9 326.9L495.8 305.8M500.5 326.9L507.4 305.8M512.0 326.9L519.3 305.9M523.5 326.9L534.2 307.4M165.5 340.3L181.1 354.8M177.1 340.3L192.6 354.9M188.6 340.3L204.3 354.8M200.2 340.3L216.0 354.5M211.7 340.3L227.8 354.3M223.2 340.3L239.5 354.1M234.8 340.3L251.1 354.0M246.4 340.3L262.7 354.0M257.9 340.3L274.2 354.0M269.4 340.3L286.0 353.8M281.0 340.3L297.8 353.5M292.6 340.3L309.4 353.4M304.1 340.3L320.9 353.4M315.6 340.3L332.7 353.1M327.2 340.3L344.7 352.5M338.8 340.3L356.7 351.9M350.3 340.3L368.6 351.2M361.9 340.3L380.6 350.5M373.4 340.3L392.4 349.9M385.0 340.3L404.3 349.4M396.5 340.3L403.4 319.3M408.1 340.3L415.1 319.3M419.6 340.3L426.7 319.3M431.2 340.3L438.3 319.3M442.7 340.3L449.9 319.4M454.2 340.3L461.3 319.3M465.8 340.3L472.7 319.2M477.4 340.3L484.2 319.2M488.9 340.3L496.0 319.3M500.5 340.3L507.8 319.4M512.0 340.3L519.5 319.4M523.5 340.3L534.6 321.1M165.5 353.8L181.1 368.3M177.1 353.8L192.6 368.3M188.6 353.8L204.2 368.3M200.2 353.8L215.9 368.1M211.7 353.8L227.7 367.9M223.2 353.8L239.4 367.7M234.8 353.8L251.0 367.6M246.4 353.8L262.6 367.6M257.9 353.8L274.1 367.6M269.4 353.8L285.8 367.5M281.0 353.8L297.6 367.2M292.6 353.8L309.3 367.0M304.1 353.8L320.9 366.9M315.6 353.8L332.5 366.8M327.2 353.8L344.3 366.5M338.8 353.8L356.3 365.9M350.3 353.8L368.3 365.1M361.9 353.8L380.3 364.4M373.4 353.8L392.1 364.0M385.0 353.8L403.6 364.1M396.5 353.8L415.4 363.6M408.1 353.8L427.2 363.1M419.6 353.8L426.7 332.8M431.2 353.8L438.3 332.8M442.7 353.8L449.8 332.8M454.2 353.8L461.3 332.7M465.8 353.8L472.7 332.7M477.4 353.8L484.4 332.7M488.9 353.8L496.3 332.9M500.5 353.8L508.0 332.9M512.0 353.8L519.6 332.9M523.5 353.8L535.0 334.8M165.5 367.2L181.1 381.7M177.1 367.2L192.6 381.8M188.6 367.2L204.2 381.8M200.2 367.2L215.8 381.7M211.7 367.2L227.4 381.6M223.2 367.2L239.2 381.4M234.8 367.2L250.8 381.3M246.4 367.2L262.3 381.4M257.9 367.2L273.8 381.4M269.4 367.2L285.4 381.3M281.0 367.2L297.2 381.0M292.6 367.2L309.0 380.7M304.1 367.2L320.6 380.7M315.6 367.2L332.1 380.8M327.2 367.2L343.7 380.7M338.8 367.2L355.7 380.1M350.3 367.2L367.9 379.2M361.9 367.2L379.9 378.6M373.4 367.2L391.5 378.4M385.0 367.2L403.2 378.2M396.5 367.2L415.2 377.5M408.1 367.2L426.8 377.4M419.6 367.2L438.3 377.4M431.2 367.2L453.9 368.4M442.7 367.2L465.5 366.5M454.2 367.2L461.4 346.2M465.8 367.2L473.0 346.2M477.4 367.2L484.7 346.3M488.9 367.2L496.5 346.4M500.5 367.2L508.1 346.4M512.0 367.2L519.6 346.4M523.5 367.2L532.6 347.0M535.1 367.2L550.0 350.8M165.5 380.7L181.1 395.2M177.1 380.7L192.5 395.4M188.6 380.7L203.9 395.5M200.2 380.7L215.4 395.6M211.7 380.7L227.1 395.5M223.2 380.7L238.9 395.2M234.8 380.7L250.6 394.9M246.4 380.7L262.2 394.9M257.9 380.7L273.7 395.0M269.4 380.7L285.3 394.9M281.0 380.7L297.1 394.7M292.6 380.7L308.9 394.4M304.1 380.7L320.5 394.3M315.6 380.7L332.0 394.4M327.2 380.7L343.5 394.4M338.8 380.7L355.5 393.9M350.3 380.7L367.5 393.3M361.9 380.7L379.4 392.8M373.4 380.7L391.3 392.3M385.0 380.7L402.8 392.3M396.5 380.7L414.9 391.5M408.1 380.7L426.7 391.0M419.6 380.7L438.2 391.0M431.2 380.7L449.9 390.8M442.7 380.7L465.4 382.7M454.2 380.7L477.0 381.9M465.8 380.7L488.6 379.5M477.4 380.7L485.0 359.8M488.9 380.7L496.7 359.9M500.5 380.7L508.4 360.0M512.0 380.7L520.3 360.1M523.5 380.7L532.2 360.3M535.1 380.7L548.5 363.0M165.5 394.1L180.9 408.8M177.1 394.1L192.3 409.0M188.6 394.1L203.7 409.2M200.2 394.1L215.2 409.2M211.7 394.1L226.8 409.2M223.2 394.1L238.6 408.9M234.8 394.1L250.5 408.5M246.4 394.1L262.2 408.4M257.9 394.1L273.8 408.4M269.4 394.1L285.3 408.3M281.0 394.1L297.0 408.2M292.6 394.1L308.6 408.1M304.1 394.1L320.3 408.0M315.6 394.1L332.0 407.8M327.2 394.1L343.6 407.7M338.8 394.1L355.5 407.3M350.3 394.1L367.1 407.2M361.9 394.1L378.7 407.2M373.4 394.1L390.8 406.5M385.0 394.1L402.8 405.8M396.5 394.1L414.7 405.3M408.1 394.1L426.5 404.8M419.6 394.1L438.2 404.5M431.2 394.1L449.9 404.2M442.7 394.1L461.5 404.1M454.2 394.1L473.2 403.9M465.8 394.1L488.5 396.5M477.4 394.1L500.1 394.5M488.9 394.1L511.6 392.6M500.5 394.1L523.2 392.6M512.0 394.1L521.0 373.8M523.5 394.1L532.6 373.9M535.1 394.1L544.6 374.1M165.5 407.6L180.8 422.4M177.1 407.6L192.2 422.5M188.6 407.6L203.7 422.6M200.2 407.6L215.2 422.7M211.7 407.6L226.8 422.6M223.2 407.6L238.5 422.5M234.8 407.6L250.3 422.2M246.4 407.6L262.1 422.0M257.9 407.6L273.7 421.9M269.4 407.6L285.3 421.8M281.0 407.6L296.8 421.9M292.6 407.6L308.3 422.0M304.1 407.6L319.8 422.0M315.6 407.6L331.7 421.6M327.2 407.6L343.5 421.3M338.8 407.6L355.3 421.0M350.3 407.6L367.1 420.7M361.9 407.6L378.7 420.7M373.4 407.6L390.5 420.3M385.0 407.6L402.6 419.6M396.5 407.6L414.4 419.1M408.1 407.6L426.1 418.9M419.6 407.6L437.8 418.6M431.2 407.6L449.8 417.9M442.7 407.6L461.6 417.4M454.2 407.6L473.2 417.3M465.8 407.6L484.9 416.9M477.4 407.6L497.1 415.6M488.9 407.6L509.2 414.1M500.5 407.6L523.2 406.4M512.0 407.6L534.8 406.4M523.5 407.6L546.3 406.4M535.1 407.6L544.1 387.3M546.7 407.6L554.6 386.9M165.5 421.1L180.7 435.9M177.1 421.1L192.2 436.0M188.6 421.1L203.7 436.1M200.2 421.1L215.2 436.1M211.7 421.1L226.7 436.2M223.2 421.1L238.2 436.2M234.8 421.1L250.0 436.0M246.4 421.1L261.8 435.7M257.9 421.1L273.6 435.5M269.4 421.1L285.2 435.4M281.0 421.1L296.7 435.5M292.6 421.1L308.1 435.6M304.1 421.1L319.7 435.6M315.6 421.1L331.5 435.3M327.2 421.1L343.3 435.0M338.8 421.1L354.9 435.0M350.3 421.1L366.6 434.8M361.9 421.1L378.6 434.2M373.4 421.1L390.5 433.8M385.0 421.1L402.4 433.2M396.5 421.1L414.3 432.7M408.1 421.1L425.9 432.6M419.6 421.1L437.5 432.6M431.2 421.1L449.4 432.1M442.7 421.1L461.4 431.2M454.2 421.1L473.3 430.5M465.8 421.1L485.3 429.6M477.4 421.1L497.4 428.1M488.9 421.1L509.5 426.6M500.5 421.1L521.1 426.2M512.0 421.1L532.7 426.3M523.5 421.1L546.2 423.4M535.1 421.1L557.9 421.8M546.7 421.1L569.4 420.3M558.2 421.1L580.7 417.1M165.5 434.5L180.5 449.6M177.1 434.5L192.1 449.6M188.6 434.5L203.6 449.6M200.2 434.5L215.1 449.7M211.7 434.5L226.5 449.8M223.2 434.5L238.1 449.8M234.8 434.5L249.7 449.7M246.4 434.5L261.6 449.4M257.9 434.5L273.4 449.2M269.4 434.5L285.0 449.1M281.0 434.5L296.5 449.1M292.6 434.5L308.1 449.0M304.1 434.5L319.7 449.0M315.6 434.5L331.5 448.7M327.2 434.5L343.3 448.5M338.8 434.5L354.8 448.5M350.3 434.5L366.5 448.4M361.9 434.5L378.3 448.0M373.4 434.5L390.2 447.6M385.0 434.5L402.2 447.0M396.5 434.5L414.2 446.4M408.1 434.5L425.9 446.1M419.6 434.5L437.5 446.1M431.2 434.5L449.2 445.7M442.7 434.5L461.4 444.8M454.2 434.5L473.6 443.5M465.8 434.5L485.7 442.0M477.4 434.5L497.6 441.1M488.9 434.5L509.3 440.5M500.5 434.5L521.1 439.9M512.0 434.5L532.7 439.6M523.5 434.5L546.0 438.6M535.1 434.5L557.5 438.6M546.7 434.5L569.4 435.7M558.2 434.5L581.0 434.5M569.8 434.5L592.5 433.5M165.5 447.9L180.2 463.3M177.1 447.9L191.8 463.4M188.6 447.9L203.4 463.3M200.2 447.9L215.0 463.2M211.7 447.9L226.5 463.2M223.2 447.9L238.1 463.3M234.8 447.9L249.7 463.2M246.4 447.9L261.5 462.9M257.9 447.9L273.2 462.8M269.4 447.9L284.7 462.8M281.0 447.9L296.2 462.9M292.6 447.9L307.7 462.9M304.1 447.9L319.5 462.7M315.6 447.9L331.4 462.3M327.2 447.9L343.3 461.9M338.8 447.9L354.9 461.8M350.3 447.9L366.5 461.8M361.9 447.9L378.0 461.8M373.4 447.9L389.8 461.5M385.0 447.9L401.8 461.0M396.5 447.9L413.7 460.5M408.1 447.9L425.5 460.2M419.6 447.9L437.2 460.0M431.2 447.9L449.0 459.6M442.7 447.9L461.2 458.5M454.2 447.9L473.6 456.8M465.8 447.9L485.9 455.1M477.4 447.9L497.7 454.2M488.9 447.9L509.2 454.5M500.5 447.9L520.7 454.5M512.0 447.9L532.5 453.7M523.5 447.9L544.3 452.9M535.1 447.9L555.7 453.4M546.7 447.9L567.2 453.4M558.2 447.9L578.8 453.2M569.8 447.9L592.5 448.9M165.5 461.4L180.1 476.9M177.1 461.4L191.6 477.0M188.6 461.4L203.2 476.9M200.2 461.4L215.0 476.7M211.7 461.4L226.6 476.6M223.2 461.4L238.2 476.6M234.8 461.4L249.8 476.5M246.4 461.4L261.5 476.4M257.9 461.4L273.0 476.4M269.4 461.4L284.5 476.5M281.0 461.4L296.1 476.5M292.6 461.4L307.6 476.5M304.1 461.4L319.3 476.3M315.6 461.4L331.2 475.9M327.2 461.4L343.1 475.5M338.8 461.4L354.9 475.3M350.3 461.4L366.4 475.3M361.9 461.4L377.9 475.4M373.4 461.4L389.6 475.2M385.0 461.4L401.5 474.8M396.5 461.4L413.2 474.6M408.1 461.4L425.0 474.3M419.6 461.4L436.6 474.2M431.2 461.4L448.4 473.8M442.7 461.4L460.8 472.6M454.2 461.4L473.3 471.0M465.8 461.4L485.5 469.5M477.4 461.4L497.1 469.4M488.9 461.4L508.7 469.2M500.5 461.4L520.4 468.8M512.0 461.4L532.2 468.2M523.5 461.4L543.9 467.8M535.1 461.4L555.3 468.1M546.7 461.4L567.0 467.6M558.2 461.4L579.0 466.2M569.8 461.4L592.3 464.8M165.5 474.8L180.0 490.4M177.1 474.8L191.6 490.4M188.6 474.8L203.2 490.4M200.2 474.8L214.9 490.2M211.7 474.8L226.6 490.1M223.2 474.8L238.2 490.0M234.8 474.8L249.8 490.0M246.4 474.8L261.4 489.9M257.9 474.8L272.9 490.0M269.4 474.8L284.3 490.1M281.0 474.8L295.8 490.2M292.6 474.8L307.5 490.0M304.1 474.8L319.3 489.8M315.6 474.8L331.2 489.4M327.2 474.8L342.9 489.2M338.8 474.8L354.7 489.0M350.3 474.8L366.4 488.8M361.9 474.8L378.0 488.7M373.4 474.8L389.7 488.6M385.0 474.8L401.3 488.5M396.5 474.8L412.8 488.5M408.1 474.8L424.6 488.2M419.6 474.8L436.6 487.7M431.2 474.8L448.3 487.4M442.7 474.8L460.5 486.5M454.2 474.8L472.6 485.7M465.8 474.8L484.6 484.8M477.4 474.8L496.9 483.4M488.9 474.8L508.5 483.1M500.5 474.8L520.2 482.9M512.0 474.8L531.9 482.4M523.5 474.8L543.6 482.0M535.1 474.8L555.1 482.1M546.7 474.8L566.7 481.9M558.2 474.8L578.8 480.4M569.8 474.8L592.0 479.8M581.3 474.8L604.0 472.9M165.5 488.3L180.1 503.8M177.1 488.3L191.7 503.8M188.6 488.3L203.3 503.7M200.2 488.3L214.9 503.6M211.7 488.3L226.5 503.6M223.2 488.3L238.0 503.7M234.8 488.3L249.5 503.7M246.4 488.3L261.2 503.5M257.9 488.3L272.9 503.5M269.4 488.3L284.3 503.6M281.0 488.3L295.8 503.6M292.6 488.3L307.5 503.5M304.1 488.3L319.4 503.2M315.6 488.3L331.1 503.0M327.2 488.3L342.6 503.0M338.8 488.3L354.2 502.9M350.3 488.3L366.2 502.5M361.9 488.3L377.9 502.3M373.4 488.3L389.4 502.4M385.0 488.3L401.0 502.3M396.5 488.3L412.8 502.0M408.1 488.3L424.5 501.8M419.6 488.3L436.6 501.1M431.2 488.3L448.5 500.7M442.7 488.3L460.2 500.4M454.2 488.3L472.3 499.6M465.8 488.3L483.9 499.5M477.4 488.3L496.0 498.6M488.9 488.3L508.0 497.8M500.5 488.3L519.9 497.0M512.0 488.3L531.7 496.4M523.5 488.3L543.3 496.2M535.1 488.3L555.1 495.7M546.7 488.3L566.8 495.2M558.2 488.3L578.6 494.5M569.8 488.3L590.2 494.2M581.3 488.3L603.5 493.4M592.9 488.3L615.6 488.3M165.5 501.8L180.3 517.1M177.1 501.8L191.8 517.1M188.6 501.8L203.4 517.1M200.2 501.8L214.9 517.1M211.7 501.8L226.3 517.2M223.2 501.8L237.8 517.3M234.8 501.8L249.3 517.3M246.4 501.8L261.0 517.2M257.9 501.8L272.8 516.9M269.4 501.8L284.5 516.9M281.0 501.8L296.0 516.8M292.6 501.8L307.7 516.7M304.1 501.8L319.5 516.5M315.6 501.8L331.0 516.5M327.2 501.8L342.5 516.5M338.8 501.8L354.1 516.5M350.3 501.8L366.0 516.1M361.9 501.8L377.8 515.9M373.4 501.8L389.2 516.0M385.0 501.8L400.8 516.0M396.5 501.8L412.7 515.6M408.1 501.8L424.8 514.9M419.6 501.8L436.8 514.3M431.2 501.8L448.4 514.2M442.7 501.8L459.9 514.3M454.2 501.8L472.1 513.4M465.8 501.8L484.0 512.8M477.4 501.8L495.8 512.4M488.9 501.8L507.5 512.1M500.5 501.8L519.6 511.0M512.0 501.8L531.7 509.8M523.5 501.8L543.3 509.7M535.1 501.8L554.9 509.6M546.7 501.8L566.7 508.9M558.2 501.8L578.6 508.0M569.8 501.8L590.2 507.6M581.3 501.8L601.7 507.9M592.9 501.8L615.4 504.9M165.5 515.2L180.5 530.3M177.1 515.2L192.0 530.4M188.6 515.2L203.5 530.4M200.2 515.2L214.9 530.5M211.7 515.2L226.3 530.7M223.2 515.2L237.8 530.8M234.8 515.2L249.3 530.8M246.4 515.2L261.0 530.7M257.9 515.2L272.8 530.4M269.4 515.2L284.6 530.2M281.0 515.2L296.3 530.0M292.6 515.2L308.0 529.9M304.1 515.2L319.6 529.8M315.6 515.2L331.1 529.8M327.2 515.2L342.6 529.9M338.8 515.2L354.3 529.8M350.3 515.2L366.1 529.5M361.9 515.2L377.9 529.2M373.4 515.2L389.4 529.3M385.0 515.2L401.0 529.2M396.5 515.2L412.9 528.8M408.1 515.2L424.9 528.2M419.6 515.2L436.9 527.6M431.2 515.2L448.6 527.5M442.7 515.2L460.2 527.4M454.2 515.2L472.2 526.7M465.8 515.2L484.2 526.0M477.4 515.2L495.8 525.8M488.9 515.2L507.6 525.4M500.5 515.2L519.4 524.9M512.0 515.2L531.2 524.4M523.5 515.2L543.1 523.5M535.1 515.2L554.8 523.3M546.7 515.2L566.6 522.6M558.2 515.2L578.5 521.8M569.8 515.2L590.2 521.3M581.3 515.2L601.7 521.2M592.9 515.2L613.0 522.1" stroke="#000" stroke-width="1.1" fill="none" opacity="0.88"/>
<path d="M179.1 96.4L183.0 97.0L181.1 93.6M190.6 96.4L194.5 97.0L192.6 93.6M202.2 96.4L206.1 97.0L204.2 93.5M214.0 96.0L217.9 96.6L215.9 93.2M225.9 95.6L229.8 96.0L227.7 92.7M179.1 109.8L183.0 110.4L181.1 107.0M190.7 109.9L194.5 110.5L192.6 107.0M202.3 109.8L206.1 110.4L204.2 107.0M214.1 109.4L218.0 109.9L216.0 106.5M226.0 109.0L229.9 109.3L227.8 106.0M231.5 81.4L231.2 77.5L228.4 80.2M179.2 123.2L183.0 123.8L181.1 120.4M190.7 123.2L194.6 123.8L192.7 120.4M202.4 123.1L206.2 123.6L204.3 120.3M214.2 122.8L218.0 123.3L216.0 119.9M226.0 122.4L229.9 122.8L227.8 119.5M237.7 122.3L241.5 122.6L239.4 119.4M249.3 122.2L253.2 122.5L251.0 119.2M179.2 136.6L183.1 137.2L181.1 133.8M190.7 136.6L194.6 137.2L192.7 133.8M202.3 136.6L206.2 137.2L204.2 133.8M213.9 136.5L217.8 137.1L215.8 133.7M225.8 136.2L229.6 136.6L227.6 133.3M237.8 135.6L241.6 135.9L239.5 132.6M249.8 134.9L253.7 135.0L251.4 131.8M262.2 133.4L266.1 133.1L263.5 130.2M179.2 150.1L183.0 150.7L181.1 147.3M190.6 150.2L194.5 150.8L192.6 147.4M202.1 150.3L205.9 151.0L204.1 147.6M213.6 150.4L217.4 151.0L215.6 147.6M225.3 150.2L229.2 150.8L227.3 147.4M237.5 149.3L241.4 149.7L239.3 146.4M249.8 148.4L253.7 148.5L251.4 145.3M261.6 148.0L265.5 148.0L263.1 144.9M276.9 142.1L280.6 140.7L277.3 138.7M179.1 163.6L183.0 164.2L181.1 160.8M190.6 163.7L194.4 164.4L192.6 161.0M202.0 163.9L205.9 164.5L204.0 161.1M213.5 163.9L217.4 164.6L215.6 161.1M225.2 163.8L229.0 164.4L227.2 161.0M237.3 163.1L241.1 163.6L239.1 160.3M249.4 162.4L253.3 162.6L251.1 159.4M261.4 161.7L265.3 161.7L263.0 158.6M273.4 161.0L277.3 160.9L274.8 157.9M287.9 158.1L291.7 157.2L288.6 154.7M179.1 177.1L182.9 177.7L181.1 174.3M190.6 177.2L194.5 177.8L192.6 174.4M202.1 177.2L206.0 177.9L204.1 174.4M213.7 177.2L217.5 177.9L215.6 174.4M225.4 177.0L229.3 177.5L227.4 174.1M237.3 176.6L241.1 177.1L239.1 173.7M249.0 176.4L252.8 176.8L250.8 173.5M261.1 175.5L265.0 175.7L262.8 172.5M273.6 174.0L277.5 173.8L274.9 170.9M285.0 174.3L288.9 174.2L286.4 171.2M179.0 190.7L182.9 191.3L181.0 187.9M190.6 190.6L194.5 191.2L192.6 187.8M202.2 190.5L206.1 191.1L204.2 187.7M213.9 190.4L217.8 190.9L215.8 187.6M225.6 190.2L229.5 190.7L227.5 187.3M237.2 190.1L241.1 190.5L239.1 187.2M248.8 190.1L252.7 190.5L250.7 187.2M260.7 189.6L264.6 190.0L262.5 186.7M273.2 188.1L277.1 188.1L274.7 185.1M285.7 186.4L289.6 185.9L286.8 183.1M178.8 204.4L182.6 205.1L180.8 201.6M190.4 204.3L194.2 205.0L192.4 201.5M202.1 204.1L206.0 204.7L204.1 201.3M213.9 203.9L217.7 204.5L215.8 201.1M225.6 203.7L229.4 204.2L227.5 200.8M237.2 203.5L241.1 204.0L239.1 200.7M248.8 203.5L252.7 204.0L250.7 200.6M260.5 203.3L264.4 203.7L262.4 200.4M272.6 202.6L276.5 202.8L274.3 199.6M288.4 196.4L292.1 195.2L288.8 193.1M178.5 218.1L182.3 219.0L180.6 215.5M190.0 218.1L193.9 218.9L192.1 215.4M201.8 217.9L205.6 218.7L203.8 215.2M213.6 217.7L217.4 218.3L215.6 214.9M225.3 217.5L229.1 218.1L227.2 214.7M236.9 217.4L240.7 218.0L238.8 214.6M248.5 217.3L252.4 217.9L250.4 214.5M260.2 217.1L264.1 217.6L262.1 214.3M272.1 216.7L276.0 217.1L273.9 213.8M284.0 216.2L287.9 216.5L285.7 213.3M295.8 215.9L299.7 216.1L297.4 212.9M300.6 187.6L300.2 183.7L297.4 186.5M314.1 188.5L314.0 184.6L311.0 187.1M325.3 188.4L325.2 184.5L322.2 187.0M338.9 189.7L339.3 185.8L336.0 187.9M353.0 191.8L353.9 188.1L350.4 189.6M357.2 188.4L356.5 184.5L353.9 187.4M178.3 231.8L182.1 232.7L180.4 229.1M189.8 231.8L193.6 232.7L192.0 229.1M201.5 231.7L205.3 232.5L203.6 229.0M213.3 231.4L217.1 232.1L215.4 228.7M225.0 231.2L228.8 231.9L227.0 228.5M236.5 231.3L240.3 232.0L238.5 228.6M248.0 231.3L251.9 232.0L250.1 228.6M259.8 231.1L263.7 231.7L261.8 228.3M271.7 230.6L275.6 231.1L273.6 227.8M283.8 230.0L287.7 230.4L285.5 227.1M295.8 229.4L299.6 229.6L297.4 226.4M307.6 228.9L311.5 229.0L309.2 225.9M319.0 229.2L322.9 229.3L320.6 226.1M332.0 226.4L335.9 225.9L333.1 223.2M343.8 225.8L347.7 225.2L344.8 222.6M357.3 225.0L361.1 224.0L358.0 221.6M369.3 222.9L373.0 221.5L369.7 219.5M366.9 201.2L365.9 197.5L363.6 200.6M379.6 201.6L378.8 197.8L376.3 200.7M178.3 245.3L182.1 246.1L180.4 242.6M189.8 245.3L193.6 246.2L192.0 242.6M201.4 245.2L205.2 246.1L203.5 242.6M213.2 244.9L217.0 245.7L215.3 242.2M224.9 244.8L228.8 245.5L227.0 242.0M236.4 244.8L240.3 245.6L238.5 242.1M248.0 244.8L251.8 245.6L250.0 242.1M259.7 244.6L263.5 245.3L261.7 241.9M271.5 244.4L275.3 245.0L273.4 241.6M283.5 243.8L287.4 244.2L285.4 240.9M295.7 242.9L299.6 243.2L297.4 240.0M307.5 242.6L311.4 242.8L309.1 239.6M319.0 242.6L322.9 242.7L320.6 239.6M330.6 242.6L334.5 242.7L332.2 239.6M367.9 215.0L367.1 211.2L364.6 214.2M379.0 214.8L378.0 211.0L375.6 214.1M391.4 215.1L390.7 211.3L388.1 214.2M178.3 258.7L182.1 259.5L180.4 256.0M189.9 258.7L193.7 259.5L192.0 256.0M201.5 258.6L205.3 259.4L203.6 255.9M213.2 258.4L217.0 259.2L215.3 255.7M224.9 258.2L228.8 259.0L227.0 255.5M236.5 258.2L240.3 258.9L238.5 255.4M248.1 258.1L252.0 258.8L250.2 255.4M259.7 258.0L263.6 258.7L261.8 255.3M271.3 258.0L275.2 258.7L273.3 255.2M283.3 257.5L287.2 258.0L285.2 254.7M295.7 256.4L299.6 256.6L297.4 253.4M307.6 255.8L311.5 255.9L309.2 252.8M332.4 228.2L331.4 224.4L329.1 227.5M344.3 228.3L343.4 224.5L341.0 227.6M355.9 228.3L354.9 224.5L352.5 227.6M367.8 228.4L366.9 224.6L364.5 227.6M380.0 228.6L379.2 224.8L376.7 227.7M391.8 228.7L391.1 224.9L388.5 227.8M403.4 228.8L402.8 224.9L400.2 227.8M415.5 228.9L414.9 225.1L412.2 227.9M427.6 229.2L427.2 225.3L424.4 228.0M442.9 231.5L443.4 227.7L440.0 229.7M178.4 272.1L182.2 272.9L180.5 269.4M189.9 272.1L193.7 272.9L192.0 269.4M201.5 272.0L205.3 272.9L203.6 269.3M213.1 271.9L217.0 272.7L215.2 269.2M224.8 271.8L228.7 272.5L226.9 269.0M236.5 271.6L240.4 272.3L238.6 268.9M248.2 271.5L252.0 272.2L250.2 268.7M259.8 271.5L263.6 272.2L261.8 268.7M271.3 271.4L275.2 272.1L273.3 268.7M283.3 271.0L287.2 271.5L285.2 268.1M295.6 270.0L299.5 270.2L297.3 267.0M307.5 269.4L311.4 269.5L309.1 266.3M319.1 269.3L323.0 269.4L320.7 266.3M321.1 241.7L320.2 237.9L317.8 241.0M332.2 241.5L331.1 237.8L328.8 240.9M344.0 241.6L343.0 237.9L340.6 241.0M356.0 241.7L355.0 238.0L352.6 241.0M367.9 241.9L367.1 238.1L364.6 241.1M380.1 242.1L379.4 238.3L376.8 241.2M391.9 242.2L391.3 238.4L388.6 241.2M403.6 242.3L403.0 238.4L400.3 241.3M415.4 242.4L414.9 238.5L412.2 241.3M427.3 242.5L426.8 238.7L424.1 241.4M440.6 243.4L440.5 239.5L437.5 242.0M178.3 285.6L182.1 286.5L180.4 282.9M189.8 285.7L193.6 286.6L191.9 283.0M201.3 285.7L205.1 286.6L203.4 283.1M212.8 285.7L216.6 286.6L215.0 283.1M224.5 285.5L228.3 286.4L226.7 282.9M236.3 285.3L240.2 286.1L238.4 282.6M248.1 285.0L251.9 285.8L250.1 282.3M259.8 284.9L263.6 285.6L261.8 282.1M271.5 284.8L275.3 285.4L273.4 282.0M283.3 284.4L287.2 284.9L285.2 281.5M295.3 283.8L299.2 284.2L297.1 280.9M307.2 283.3L311.1 283.6L308.9 280.4M318.9 283.2L322.8 283.4L320.5 280.2M330.4 283.2L334.3 283.3L332.1 280.2M342.1 282.9L346.0 283.1L343.7 279.9M358.0 274.8L361.6 273.1L358.0 271.4M356.5 255.4L355.6 251.6L353.1 254.5M368.5 255.6L367.8 251.7L365.3 254.6M380.5 255.7L379.8 251.9L377.2 254.7M392.0 255.7L391.4 251.9L388.8 254.7M403.6 255.7L403.0 251.9L400.4 254.7M415.4 255.8L414.8 251.9L412.1 254.8M427.0 255.9L426.5 252.0L423.8 254.8M438.6 255.9L438.1 252.0L435.4 254.8M454.8 258.8L455.4 254.9L452.0 256.8M461.4 255.7L460.7 251.9L458.1 254.7M469.5 254.7L468.1 251.0L466.1 254.3M178.1 299.2L181.9 300.1L180.3 296.6M189.5 299.3L193.3 300.3L191.8 296.7M201.0 299.4L204.8 300.4L203.2 296.8M212.5 299.5L216.3 300.5L214.7 296.9M224.2 299.4L227.9 300.3L226.4 296.8M236.0 299.1L239.8 300.0L238.1 296.4M247.8 298.8L251.7 299.6L249.9 296.1M259.6 298.6L263.4 299.3L261.6 295.8M271.3 298.3L275.2 299.0L273.3 295.6M283.1 298.1L287.0 298.7L285.1 295.3M295.0 297.7L298.8 298.2L296.8 294.9M306.8 297.4L310.6 297.8L308.6 294.5M318.5 297.1L322.4 297.4L320.3 294.2M330.3 296.9L334.1 297.1L331.9 293.9M341.9 296.7L345.8 296.9L343.6 293.7M354.1 295.7L358.0 295.6L355.6 292.6M366.0 295.1L369.9 294.9L367.3 291.9M377.5 295.3L381.4 295.1L378.8 292.1M380.5 269.2L379.9 265.3L377.2 268.2M392.1 269.2L391.4 265.3L388.8 268.2M403.7 269.2L403.1 265.3L400.4 268.2M415.4 269.3L414.8 265.4L412.1 268.2M427.0 269.3L426.4 265.4L423.7 268.2M444.3 273.2L445.2 269.4L441.7 271.0M450.1 269.3L449.6 265.4L446.9 268.2M461.7 269.3L461.2 265.5L458.4 268.3M469.1 268.1L467.7 264.4L465.7 267.8M482.3 268.4L481.2 264.7L478.9 267.8M494.9 268.8L494.0 265.0L491.6 268.0M178.0 312.8L181.7 313.8L180.2 310.2M189.4 312.9L193.2 313.9L191.7 310.3M200.9 312.9L204.7 314.0L203.2 310.4M212.5 313.0L216.2 314.0L214.7 310.4M224.0 312.9L227.8 313.9L226.3 310.3M235.8 312.7L239.6 313.7L238.0 310.1M247.6 312.5L251.4 313.4L249.7 309.8M259.3 312.4L263.1 313.2L261.4 309.7M271.0 312.2L274.8 313.0L273.1 309.5M282.7 311.9L286.6 312.7L284.8 309.2M294.5 311.7L298.4 312.3L296.5 308.9M306.3 311.4L310.2 312.0L308.2 308.6M318.2 311.0L322.1 311.4L320.0 308.1M330.1 310.5L334.0 310.8L331.9 307.5M341.8 310.4L345.6 310.6L343.5 307.4M353.5 310.1L357.4 310.3L355.2 307.1M365.9 308.8L369.8 308.7L367.3 305.7M377.3 308.9L381.2 308.8L378.8 305.8M388.6 309.4L392.5 309.4L390.1 306.3M392.1 282.6L391.5 278.8L388.8 281.6M403.8 282.7L403.2 278.8L400.5 281.7M415.4 282.7L414.9 278.9L412.2 281.7M427.0 282.7L426.5 278.9L423.8 281.7M438.6 282.8L438.0 278.9L435.3 281.7M461.7 282.8L461.2 278.9L458.5 281.7M473.2 282.8L472.7 278.9L470.0 281.7M484.6 282.7L484.0 278.8L481.3 281.7M495.4 282.4L494.6 278.6L492.1 281.5M507.9 282.7L507.3 278.9L504.6 281.7M177.8 326.4L181.6 327.4L180.0 323.8M189.4 326.4L193.1 327.4L191.6 323.8M200.9 326.4L204.7 327.4L203.2 323.8M212.5 326.4L216.2 327.4L214.7 323.8M224.1 326.3L227.9 327.3L226.3 323.7M235.8 326.2L239.6 327.1L238.0 323.6M247.4 326.1L251.2 327.0L249.6 323.5M259.0 326.1L262.8 327.0L261.2 323.5M270.6 326.0L274.4 326.9L272.8 323.4M282.4 325.8L286.2 326.6L284.5 323.1M294.2 325.5L298.0 326.3L296.2 322.8M305.8 325.5L309.6 326.2L307.8 322.8M317.5 325.3L321.3 326.0L319.5 322.6M329.7 324.5L333.6 325.0L331.5 321.6M341.7 323.9L345.6 324.2L343.4 321.0M353.4 323.7L357.3 323.9L355.1 320.7M365.3 323.2L369.2 323.3L366.9 320.2M376.9 323.1L380.8 323.1L378.5 320.0M388.4 323.1L392.3 323.2L390.0 320.1M392.2 296.1L391.6 292.3L388.9 295.1M403.8 296.2L403.3 292.3L400.6 295.1M415.5 296.2L414.9 292.3L412.2 295.1M427.0 296.2L426.5 292.3L423.8 295.1M438.7 296.3L438.2 292.4L435.4 295.2M450.3 296.3L449.8 292.4L447.1 295.2M461.8 296.3L461.3 292.4L458.6 295.2M473.3 296.2L472.7 292.4L470.0 295.2M484.7 296.2L484.2 292.3L481.5 295.1M496.1 296.1L495.5 292.3L492.9 295.1M507.9 296.2L507.3 292.3L504.6 295.1M520.3 296.6L520.0 292.7L517.1 295.4M177.5 340.1L181.3 341.2L179.8 337.6M189.1 340.1L192.9 341.2L191.4 337.6M200.8 340.0L204.5 341.0L203.0 337.4M212.5 339.9L216.2 340.9L214.7 337.3M224.1 339.7L227.9 340.7L226.3 337.1M235.8 339.6L239.6 340.6L238.0 337.0M247.4 339.6L251.1 340.6L249.6 337.0M258.9 339.6L262.7 340.6L261.1 337.0M270.4 339.6L274.2 340.6L272.6 337.0M282.2 339.4L286.0 340.3L284.3 336.8M294.0 339.2L297.8 340.0L296.1 336.5M305.5 339.2L309.4 340.0L307.6 336.5M317.1 339.2L320.9 340.0L319.2 336.5M328.9 338.9L332.8 339.6L331.0 336.1M341.2 338.0L345.1 338.5L343.0 335.2M353.1 337.5L357.0 337.8L354.9 334.6M365.0 337.1L368.8 337.4L366.6 334.2M376.7 336.8L380.6 336.9L378.4 333.8M392.3 330.9L396.0 329.7L392.8 327.6M392.3 309.6L391.7 305.7L389.0 308.6M403.9 309.6L403.3 305.8L400.6 308.6M415.5 309.7L415.0 305.8L412.3 308.6M427.2 309.7L426.7 305.9L423.9 308.6M438.8 309.8L438.4 305.9L435.6 308.7M450.4 309.8L449.9 305.9L447.2 308.7M461.9 309.7L461.4 305.9L458.6 308.6M473.2 309.7L472.7 305.8L470.0 308.6M484.8 309.7L484.2 305.8L481.5 308.6M496.4 309.7L495.8 305.8L493.1 308.6M507.9 309.7L507.4 305.8L504.7 308.6M519.8 309.8L519.3 305.9L516.6 308.7M534.0 311.3L534.2 307.4L531.0 309.7M177.4 353.7L181.1 354.8L179.7 351.2M188.9 353.7L192.6 354.9L191.2 351.2M200.5 353.7L204.3 354.8L202.8 351.1M212.3 353.5L216.0 354.5L214.6 350.9M224.0 353.3L227.8 354.3L226.3 350.7M235.7 353.1L239.5 354.1L237.9 350.5M247.3 353.1L251.1 354.0L249.5 350.5M258.9 353.1L262.7 354.0L261.1 350.5M270.5 353.1L274.2 354.0L272.7 350.4M282.2 352.9L286.0 353.8L284.3 350.3M293.9 352.7L297.8 353.5L296.1 350.0M305.5 352.6L309.4 353.4L307.6 349.9M317.1 352.6L320.9 353.4L319.2 349.9M328.9 352.4L332.7 353.1L330.9 349.7M340.8 351.9L344.7 352.5L342.8 349.1M352.8 351.4L356.7 351.9L354.6 348.5M364.8 350.9L368.6 351.2L366.5 347.9M376.7 350.3L380.6 350.5L378.3 347.3M388.5 349.8L392.4 349.9L390.1 346.8M400.4 349.4L404.3 349.4L401.8 346.3M403.9 323.1L403.4 319.3L400.7 322.1M415.6 323.2L415.1 319.3L412.3 322.1M427.2 323.2L426.7 319.3L424.0 322.1M438.8 323.2L438.3 319.3L435.6 322.1M450.4 323.2L449.9 319.4L447.1 322.1M461.8 323.2L461.3 319.3L458.5 322.1M473.2 323.1L472.7 319.2L470.0 322.0M484.8 323.1L484.2 319.2L481.5 322.0M496.5 323.2L496.0 319.3L493.2 322.1M508.3 323.3L507.8 319.4L505.1 322.2M519.9 323.3L519.5 319.4L516.7 322.2M534.4 325.0L534.6 321.1L531.4 323.3M177.4 367.2L181.1 368.3L179.7 364.7M188.9 367.2L192.6 368.3L191.2 364.7M200.5 367.2L204.2 368.3L202.8 364.7M212.2 367.0L215.9 368.1L214.5 364.5M223.9 366.9L227.7 367.9L226.2 364.3M235.6 366.7L239.4 367.7L237.8 364.1M247.2 366.6L251.0 367.6L249.5 364.0M258.8 366.6L262.6 367.6L261.0 364.0M270.4 366.6L274.1 367.6L272.6 364.0M282.0 366.5L285.8 367.5L284.2 363.9M293.8 366.3L297.6 367.2L295.9 363.7M305.5 366.1L309.3 367.0L307.6 363.5M317.1 366.1L320.9 366.9L319.2 363.4M328.7 366.0L332.5 366.8L330.8 363.3M340.5 365.8L344.3 366.5L342.5 363.1M352.4 365.3L356.3 365.9L354.4 362.5M364.5 364.7L368.3 365.1L366.3 361.8M376.4 364.1L380.3 364.4L378.1 361.2M388.2 363.8L392.1 364.0L389.8 360.8M399.7 363.9L403.6 364.1L401.4 360.9M411.5 363.5L415.4 363.6L413.1 360.5M423.3 363.1L427.2 363.1L424.8 360.1M427.2 336.6L426.7 332.8L424.0 335.5M438.8 336.6L438.3 332.8L435.5 335.5M450.3 336.6L449.8 332.8L447.1 335.5M461.8 336.6L461.3 332.7L458.5 335.5M473.3 336.6L472.7 332.7L470.0 335.5M484.9 336.6L484.4 332.7L481.6 335.5M496.7 336.7L496.3 332.9L493.5 335.6M508.4 336.8L508.0 332.9L505.2 335.6M520.0 336.8L519.6 332.9L516.8 335.6M534.6 338.7L535.0 334.8L531.7 336.9M177.4 380.6L181.1 381.7L179.7 378.1M188.9 380.6L192.6 381.8L191.2 378.1M200.5 380.6L204.2 381.8L202.8 378.1M212.0 380.6L215.8 381.7L214.4 378.1M223.7 380.5L227.4 381.6L226.0 378.0M235.4 380.4L239.2 381.4L237.7 377.8M247.0 380.3L250.8 381.3L249.3 377.7M258.5 380.3L262.3 381.4L260.8 377.8M270.0 380.4L273.8 381.4L272.3 377.8M281.7 380.3L285.4 381.3L283.9 377.7M293.5 380.1L297.2 381.0L295.7 377.5M305.3 379.8L309.0 380.7L307.4 377.2M316.8 379.8L320.6 380.7L319.0 377.2M328.3 379.9L332.1 380.8L330.5 377.3M339.9 379.8L343.7 380.7L342.1 377.2M351.9 379.3L355.7 380.1L354.0 376.6M364.0 378.7L367.9 379.2L366.0 375.8M376.0 378.2L379.9 378.6L377.8 375.3M387.7 378.0L391.5 378.4L389.4 375.1M399.3 377.8L403.2 378.2L401.1 374.9M411.3 377.3L415.2 377.5L412.9 374.3M422.9 377.3L426.8 377.4L424.5 374.3M434.4 377.2L438.3 377.4L436.1 374.2M450.3 370.0L453.9 368.4L450.5 366.6M462.0 368.3L465.5 366.5L461.9 364.9M461.9 350.1L461.4 346.2L458.6 349.0M473.4 350.1L473.0 346.2L470.2 349.0M485.1 350.2L484.7 346.3L481.9 349.0M496.9 350.3L496.5 346.4L493.7 349.1M508.5 350.3L508.1 346.4L505.2 349.1M520.0 350.3L519.6 346.4L516.8 349.1M532.7 350.9L532.6 347.0L529.6 349.5M548.9 354.5L550.0 350.8L546.3 352.2M177.3 394.1L181.1 395.2L179.7 391.6M188.8 394.2L192.5 395.4L191.1 391.7M200.2 394.3L203.9 395.5L202.6 391.8M211.7 394.3L215.4 395.6L214.1 391.9M223.3 394.3L227.1 395.5L225.7 391.8M235.1 394.0L238.9 395.2L237.5 391.5M246.9 393.9L250.6 394.9L249.2 391.3M258.5 393.9L262.2 394.9L260.7 391.3M270.0 393.9L273.7 395.0L272.3 391.3M281.6 393.9L285.3 394.9L283.8 391.3M293.3 393.7L297.1 394.7L295.5 391.1M305.1 393.5L308.9 394.4L307.3 390.8M316.7 393.4L320.5 394.3L318.9 390.8M328.2 393.4L332.0 394.4L330.4 390.8M339.8 393.4L343.5 394.4L341.9 390.8M351.7 393.1L355.5 393.9L353.8 390.4M363.6 392.6L367.5 393.3L365.7 389.8M375.5 392.2L379.4 392.8L377.5 389.4M387.4 391.8L391.3 392.3L389.3 389.0M399.0 391.8L402.8 392.3L400.8 388.9M411.0 391.2L414.9 391.5L412.7 388.2M422.8 390.8L426.7 391.0L424.4 387.8M434.4 390.8L438.2 391.0L436.0 387.8M446.0 390.6L449.9 390.8L447.6 387.6M461.8 384.1L465.4 382.7L462.1 380.7M473.4 383.4L477.0 381.9L473.6 380.0M485.2 381.4L488.6 379.5L485.0 378.0M485.4 363.7L485.0 359.8L482.2 362.6M497.1 363.8L496.7 359.9L493.9 362.6M508.8 363.9L508.4 360.0L505.6 362.6M520.6 364.0L520.3 360.1L517.4 362.7M532.4 364.1L532.2 360.3L529.3 362.8M547.7 366.8L548.5 363.0L545.0 364.7M177.2 407.7L180.9 408.8L179.6 405.2M188.6 407.8L192.3 409.0L191.0 405.3M200.0 407.9L203.7 409.2L202.4 405.5M211.5 407.9L215.2 409.2L213.9 405.5M223.1 407.9L226.8 409.2L225.5 405.5M234.9 407.7L238.6 408.9L237.3 405.2M246.8 407.4L250.5 408.5L249.1 404.9M258.4 407.3L262.2 408.4L260.7 404.8M270.0 407.3L273.8 408.4L272.3 404.8M281.6 407.3L285.3 408.3L283.9 404.7M293.2 407.2L297.0 408.2L295.5 404.6M304.9 407.1L308.6 408.1L307.1 404.5M316.5 407.0L320.3 408.0L318.8 404.4M328.2 406.9L332.0 407.8L330.4 404.3M339.8 406.8L343.6 407.7L342.0 404.1M351.7 406.5L355.5 407.3L353.8 403.8M363.3 406.4L367.1 407.2L365.4 403.7M374.9 406.4L378.7 407.2L377.0 403.7M386.9 405.8L390.8 406.5L388.9 403.0M398.9 405.3L402.8 405.8L400.8 402.4M410.8 404.9L414.7 405.3L412.6 402.0M422.6 404.5L426.5 404.8L424.3 401.6M434.3 404.3L438.2 404.5L436.0 401.3M446.0 404.0L449.9 404.2L447.7 401.0M457.6 404.0L461.5 404.1L459.2 401.0M469.3 403.8L473.2 403.9L470.9 400.7M484.8 397.9L488.5 396.5L485.2 394.5M496.6 396.2L500.1 394.5L496.7 392.8M508.3 394.5L511.6 392.6L508.0 391.1M519.8 394.5L523.2 392.6L519.6 391.1M521.1 377.7L521.0 373.8L518.0 376.4M532.7 377.8L532.6 373.9L529.6 376.4M544.6 378.0L544.6 374.1L541.5 376.5M177.1 421.2L180.8 422.4L179.5 418.7M188.5 421.3L192.2 422.5L190.9 418.8M200.0 421.4L203.7 422.6L202.4 418.9M211.5 421.4L215.2 422.7L213.9 419.0M223.1 421.4L226.8 422.6L225.5 418.9M234.8 421.3L238.5 422.5L237.2 418.8M246.6 421.1L250.3 422.2L248.9 418.6M258.3 420.9L262.1 422.0L260.6 418.4M270.0 420.8L273.7 421.9L272.3 418.2M281.6 420.7L285.3 421.8L283.9 418.2M293.1 420.8L296.8 421.9L295.4 418.2M304.5 420.9L308.3 422.0L306.8 418.4M316.1 420.9L319.8 422.0L318.4 418.3M327.9 420.6L331.7 421.6L330.2 418.0M339.8 420.3L343.5 421.3L342.0 417.7M351.5 420.1L355.3 421.0L353.7 417.5M363.3 419.9L367.1 420.7L365.4 417.2M374.8 419.9L378.7 420.7L376.9 417.2M386.6 419.6L390.5 420.3L388.7 416.9M398.7 419.0L402.6 419.6L400.6 416.2M410.6 418.6L414.4 419.1L412.4 415.7M422.3 418.5L426.1 418.9L424.1 415.6M434.0 418.3L437.8 418.6L435.7 415.3M445.9 417.7L449.8 417.9L447.6 414.7M457.7 417.3L461.6 417.4L459.3 414.3M469.3 417.2L473.2 417.3L470.9 414.2M481.0 416.9L484.9 416.9L482.5 413.9M493.2 415.9L497.1 415.6L494.5 412.7M505.3 414.6L509.2 414.1L506.4 411.4M519.8 408.3L523.2 406.4L519.6 404.9M531.4 408.3L534.8 406.4L531.2 404.9M542.9 408.3L546.3 406.4L542.7 404.9M544.2 391.2L544.1 387.3L541.1 389.8M554.9 390.8L554.6 386.9L551.8 389.5M177.0 434.7L180.7 435.9L179.4 432.3M188.5 434.8L192.2 436.0L190.9 432.3M200.0 434.8L203.7 436.1L202.4 432.4M211.5 434.8L215.2 436.1L214.0 432.4M223.0 434.9L226.7 436.2L225.5 432.5M234.6 434.9L238.2 436.2L237.0 432.5M246.3 434.8L250.0 436.0L248.7 432.3M258.1 434.5L261.8 435.7L260.4 432.1M269.8 434.4L273.6 435.5L272.1 431.9M281.4 434.3L285.2 435.4L283.7 431.8M292.9 434.4L296.7 435.5L295.3 431.8M304.4 434.4L308.1 435.6L306.7 431.9M316.0 434.4L319.7 435.6L318.3 431.9M327.7 434.2L331.5 435.3L330.0 431.7M339.6 434.0L343.3 435.0L341.8 431.4M351.1 434.0L354.9 435.0L353.3 431.4M362.8 433.8L366.6 434.8L365.0 431.2M374.8 433.4L378.6 434.2L376.9 430.7M386.6 433.1L390.5 433.8L388.7 430.3M398.6 432.6L402.4 433.2L400.5 429.8M410.4 432.2L414.3 432.7L412.3 429.4M422.1 432.2L425.9 432.6L423.9 429.3M433.6 432.2L437.5 432.6L435.5 429.3M445.5 431.7L449.4 432.1L447.2 428.8M457.5 431.0L461.4 431.2L459.2 428.0M469.4 430.5L473.3 430.5L470.9 427.4M481.4 429.7L485.3 429.6L482.8 426.6M493.6 428.6L497.4 428.1L494.7 425.3M505.6 427.3L509.5 426.6L506.5 424.0M517.3 427.0L521.1 426.2L518.1 423.7M528.8 427.1L532.7 426.3L529.7 423.8M542.6 424.8L546.2 423.4L542.9 421.4M554.3 423.4L557.9 421.8L554.4 420.0M566.0 422.1L569.4 420.3L565.9 418.7M577.5 419.4L580.7 417.1L576.9 416.0M176.8 448.3L180.5 449.6L179.3 445.9M188.4 448.3L192.1 449.6L190.8 445.9M199.9 448.3L203.6 449.6L202.4 445.9M211.4 448.4L215.1 449.7L213.8 446.0M222.9 448.5L226.5 449.8L225.3 446.1M234.4 448.5L238.1 449.8L236.8 446.1M246.0 448.4L249.7 449.7L248.5 446.0M257.9 448.2L261.6 449.4L260.3 445.7M269.6 448.0L273.4 449.2L272.0 445.5M281.3 447.9L285.0 449.1L283.6 445.4M292.8 447.9L296.5 449.1L295.1 445.4M304.4 447.9L308.1 449.0L306.7 445.4M316.0 447.8L319.7 449.0L318.3 445.3M327.8 447.6L331.5 448.7L330.1 445.1M339.5 447.5L343.3 448.5L341.8 444.9M351.1 447.5L354.8 448.5L353.3 444.9M362.7 447.4L366.5 448.4L364.9 444.8M374.5 447.1L378.3 448.0L376.7 444.5M386.4 446.8L390.2 447.6L388.5 444.1M398.4 446.3L402.2 447.0L400.4 443.6M410.3 445.9L414.2 446.4L412.2 443.0M422.0 445.7L425.9 446.1L423.9 442.8M433.6 445.6L437.5 446.1L435.5 442.7M445.4 445.3L449.2 445.7L447.2 442.4M457.5 444.6L461.4 444.8L459.1 441.6M469.7 443.6L473.6 443.5L471.1 440.5M481.8 442.4L485.7 442.0L483.1 439.2M493.7 441.7L497.6 441.1L494.8 438.4M505.5 441.2L509.3 440.5L506.5 437.9M517.2 440.6L521.1 439.9L518.1 437.3M528.9 440.4L532.7 439.6L529.7 437.1M542.2 439.7L546.0 438.6L542.8 436.3M553.8 439.6L557.5 438.6L554.4 436.3M565.8 437.2L569.4 435.7L566.0 433.8M577.5 436.2L581.0 434.5L577.5 432.8M589.1 435.4L592.5 433.5L589.0 432.0M176.6 462.0L180.2 463.3L179.0 459.6M188.1 462.0L191.8 463.4L190.6 459.6M199.7 461.9L203.4 463.3L202.2 459.6M211.4 461.9L215.0 463.2L213.8 459.5M222.9 461.9L226.5 463.2L225.3 459.5M234.4 461.9L238.1 463.3L236.9 459.6M246.0 461.9L249.7 463.2L248.5 459.5M257.8 461.7L261.5 462.9L260.2 459.2M269.5 461.6L273.2 462.8L271.9 459.1M281.0 461.6L284.7 462.8L283.4 459.1M292.5 461.7L296.2 462.9L294.9 459.2M304.0 461.7L307.7 462.9L306.4 459.2M315.8 461.5L319.5 462.7L318.1 459.0M327.7 461.2L331.4 462.3L330.0 458.6M339.5 460.9L343.3 461.9L341.7 458.3M351.1 460.9L354.9 461.8L353.4 458.3M362.7 460.8L366.5 461.8L364.9 458.2M374.2 460.8L378.0 461.8L376.5 458.2M386.0 460.6L389.8 461.5L388.2 458.0M398.0 460.2L401.8 461.0L400.1 457.5M409.9 459.8L413.7 460.5L411.9 457.0M421.6 459.6L425.5 460.2L423.6 456.8M433.3 459.4L437.2 460.0L435.2 456.6M445.1 459.1L449.0 459.6L447.0 456.2M457.3 458.2L461.2 458.5L459.0 455.2M469.7 456.9L473.6 456.8L471.1 453.8M482.0 455.6L485.9 455.1L483.1 452.3M493.9 454.8L497.7 454.2L494.9 451.5M505.3 455.0L509.2 454.5L506.4 451.8M516.9 455.0L520.7 454.5L517.9 451.8M528.7 454.4L532.5 453.7L529.6 451.1M540.5 453.8L544.3 452.9L541.3 450.4M551.9 454.2L555.7 453.4L552.7 450.9M563.4 454.2L567.2 453.4L564.3 450.9M575.0 454.0L578.8 453.2L575.9 450.7M589.0 450.5L592.5 448.9L589.1 447.0M176.4 475.6L180.1 476.9L178.9 473.2M187.9 475.6L191.6 477.0L190.4 473.2M199.6 475.5L203.2 476.9L202.1 473.2M211.3 475.4L215.0 476.7L213.7 473.0M222.9 475.3L226.6 476.6L225.4 472.9M234.5 475.3L238.2 476.6L236.9 472.9M246.1 475.2L249.8 476.5L248.6 472.8M257.8 475.1L261.5 476.4L260.2 472.7M269.4 475.1L273.0 476.4L271.8 472.7M280.8 475.2L284.5 476.5L283.2 472.8M292.4 475.2L296.1 476.5L294.8 472.8M303.9 475.2L307.6 476.5L306.3 472.8M315.6 475.1L319.3 476.3L318.0 472.7M327.5 474.8L331.2 475.9L329.8 472.3M339.4 474.5L343.1 475.5L341.7 471.9M351.1 474.3L354.9 475.3L353.3 471.8M362.6 474.3L366.4 475.3L364.9 471.8M374.2 474.4L377.9 475.4L376.4 471.8M385.8 474.2L389.6 475.2L388.1 471.6M397.7 473.9L401.5 474.8L399.9 471.3M409.4 473.8L413.2 474.6L411.5 471.1M421.2 473.5L425.0 474.3L423.3 470.8M432.8 473.4L436.6 474.2L434.9 470.7M444.6 473.2L448.4 473.8L446.6 470.4M456.9 472.2L460.8 472.6L458.7 469.3M469.4 470.9L473.3 471.0L470.9 467.9M481.6 469.7L485.5 469.5L482.9 466.6M493.2 469.6L497.1 469.4L494.5 466.5M504.8 469.5L508.7 469.2L506.1 466.3M516.6 469.2L520.4 468.8L517.7 465.9M528.3 468.7L532.2 468.2L529.4 465.4M540.0 468.4L543.9 467.8L541.0 465.1M551.5 468.6L555.3 468.1L552.5 465.4M563.2 468.2L567.0 467.6L564.2 465.0M575.2 467.1L579.0 466.2L575.9 463.7M588.6 466.0L592.3 464.8L589.1 462.6M176.4 489.0L180.0 490.4L178.9 486.7M187.9 489.0L191.6 490.4L190.4 486.7M199.5 489.0L203.2 490.4L202.0 486.7M211.2 488.9L214.9 490.2L213.7 486.5M222.9 488.8L226.6 490.1L225.4 486.4M234.5 488.7L238.2 490.0L237.0 486.3M246.1 488.7L249.8 490.0L248.5 486.3M257.7 488.6L261.4 489.9L260.1 486.2M269.2 488.7L272.9 490.0L271.7 486.3M280.6 488.8L284.3 490.1L283.1 486.4M292.1 488.8L295.8 490.2L294.6 486.5M303.8 488.7L307.5 490.0L306.3 486.3M315.6 488.5L319.3 489.8L318.0 486.1M327.4 488.3L331.2 489.4L329.8 485.8M339.2 488.1L342.9 489.2L341.5 485.6M350.9 487.9L354.7 489.0L353.2 485.4M362.6 487.8L366.4 488.8L364.9 485.2M374.2 487.8L378.0 488.7L376.5 485.2M385.9 487.7L389.7 488.6L388.1 485.0M397.5 487.5L401.3 488.5L399.7 484.9M409.1 487.6L412.8 488.5L411.2 485.0M420.8 487.4L424.6 488.2L423.0 484.7M432.8 486.9L436.6 487.7L434.8 484.2M444.5 486.8L448.3 487.4L446.5 484.0M456.7 486.0L460.5 486.5L458.5 483.1M468.7 485.4L472.6 485.7L470.4 482.4M480.7 484.7L484.6 484.8L482.3 481.6M493.0 483.5L496.9 483.4L494.3 480.4M504.6 483.3L508.5 483.1L506.0 480.2M516.3 483.1L520.2 482.9L517.6 480.0M528.0 482.8L531.9 482.4L529.2 479.6M539.7 482.5L543.6 482.0L540.9 479.2M551.3 482.5L555.1 482.1L552.4 479.3M562.9 482.4L566.7 481.9L564.0 479.1M574.9 481.1L578.8 480.4L575.8 477.8M588.2 480.7L592.0 479.8L589.0 477.4M600.7 474.9L604.0 472.9L600.4 471.5M176.5 502.4L180.1 503.8L179.0 500.1M188.0 502.4L191.7 503.8L190.5 500.1M199.6 502.4L203.3 503.7L202.1 500.0M211.3 502.3L214.9 503.6L213.7 499.9M222.8 502.3L226.5 503.6L225.3 499.9M234.3 502.3L238.0 503.7L236.8 500.0M245.9 502.3L249.5 503.7L248.4 500.0M257.6 502.2L261.2 503.5L260.0 499.8M269.2 502.2L272.9 503.5L271.6 499.8M280.6 502.2L284.3 503.6L283.1 499.9M292.2 502.3L295.8 503.6L294.6 499.9M303.8 502.2L307.5 503.5L306.3 499.8M315.7 501.9L319.4 503.2L318.0 499.5M327.4 501.8L331.1 503.0L329.7 499.3M338.9 501.8L342.6 503.0L341.2 499.4M350.5 501.8L354.2 502.9L352.9 499.3M362.4 501.4L366.2 502.5L364.7 498.9M374.1 501.3L377.9 502.3L376.4 498.7M385.6 501.3L389.4 502.4L387.9 498.8M397.3 501.3L401.0 502.3L399.5 498.7M409.1 501.0L412.8 502.0L411.2 498.4M420.7 500.9L424.5 501.8L422.9 498.2M432.8 500.4L436.6 501.1L434.8 497.6M444.6 500.0L448.5 500.7L446.6 497.3M456.4 499.8L460.2 500.4L458.3 497.0M468.4 499.2L472.3 499.6L470.2 496.3M480.0 499.1L483.9 499.5L481.8 496.2M492.1 498.4L496.0 498.6L493.7 495.4M504.1 497.8L508.0 497.8L505.6 494.7M516.0 497.1L519.9 497.0L517.4 494.0M527.8 496.6L531.7 496.4L529.1 493.5M539.4 496.5L543.3 496.2L540.7 493.3M551.2 496.1L555.1 495.7L552.4 492.9M562.9 495.7L566.8 495.2L564.0 492.4M574.7 495.1L578.6 494.5L575.7 491.9M586.4 494.9L590.2 494.2L587.3 491.6M599.7 494.2L603.5 493.4L600.5 490.9M612.1 490.0L615.6 488.3L612.1 486.6M176.6 515.7L180.3 517.1L179.1 513.4M188.2 515.7L191.8 517.1L190.6 513.4M199.7 515.7L203.4 517.1L202.2 513.4M211.3 515.8L214.9 517.1L213.7 513.4M222.7 515.8L226.3 517.2L225.2 513.5M234.2 515.9L237.8 517.3L236.7 513.6M245.7 515.9L249.3 517.3L248.2 513.6M257.4 515.8L261.0 517.2L259.8 513.5M269.1 515.6L272.8 516.9L271.6 513.2M280.8 515.6L284.5 516.9L283.2 513.2M292.3 515.6L296.0 516.8L294.8 513.2M304.0 515.5L307.7 516.7L306.4 513.0M315.8 515.3L319.5 516.5L318.1 512.8M327.3 515.3L331.0 516.5L329.7 512.8M338.8 515.3L342.5 516.5L341.2 512.9M350.4 515.3L354.1 516.5L352.8 512.8M362.3 515.0L366.0 516.1L364.6 512.5M374.0 514.8L377.8 515.9L376.3 512.3M385.5 514.9L389.2 516.0L387.8 512.4M397.0 514.9L400.8 516.0L399.3 512.4M408.9 514.6L412.7 515.6L411.2 512.0M421.0 514.1L424.8 514.9L423.1 511.4M432.9 513.6L436.8 514.3L435.0 510.9M444.6 513.6L448.4 514.2L446.6 510.8M456.1 513.6L459.9 514.3L458.1 510.8M468.2 512.9L472.1 513.4L470.1 510.1M480.1 512.4L484.0 512.8L481.9 509.5M491.9 512.1L495.8 512.4L493.6 509.1M503.6 511.9L507.5 512.1L505.3 508.9M515.7 511.0L519.6 511.0L517.2 508.0M527.8 510.1L531.7 509.8L529.1 506.9M539.4 510.0L543.3 509.7L540.7 506.8M551.0 509.9L554.9 509.6L552.3 506.7M562.8 509.3L566.7 508.9L564.0 506.1M574.7 508.6L578.6 508.0L575.7 505.3M586.4 508.3L590.2 507.6L587.3 505.0M597.8 508.5L601.7 507.9L598.8 505.3M611.7 506.1L615.4 504.9L612.2 502.7M176.8 529.0L180.5 530.3L179.2 526.6M188.3 529.1L192.0 530.4L190.8 526.7M199.8 529.1L203.5 530.4L202.3 526.7M211.3 529.2L214.9 530.5L213.7 526.8M222.7 529.3L226.3 530.7L225.2 527.0M234.1 529.4L237.8 530.8L236.6 527.0M245.7 529.4L249.3 530.8L248.2 527.0M257.3 529.3L261.0 530.7L259.8 527.0M269.1 529.1L272.8 530.4L271.6 526.7M280.9 528.9L284.6 530.2L283.3 526.5M292.6 528.8L296.3 530.0L295.0 526.4M304.2 528.7L308.0 529.9L306.6 526.3M315.9 528.6L319.6 529.8L318.2 526.2M327.4 528.7L331.1 529.8L329.8 526.2M338.9 528.7L342.6 529.9L341.3 526.2M350.5 528.6L354.3 529.8L352.9 526.2M362.4 528.4L366.1 529.5L364.6 525.9M374.1 528.2L377.9 529.2L376.4 525.6M385.6 528.2L389.4 529.3L387.9 525.7M397.2 528.2L401.0 529.2L399.5 525.6M409.1 527.9L412.9 528.8L411.3 525.3M421.1 527.4L424.9 528.2L423.2 524.7M433.0 527.0L436.9 527.6L435.0 524.2M444.7 526.9L448.6 527.5L446.7 524.1M456.3 526.8L460.2 527.4L458.3 523.9M468.3 526.2L472.2 526.7L470.2 523.4M480.3 525.7L484.2 526.0L482.0 522.7M491.9 525.6L495.8 525.8L493.6 522.6M503.7 525.2L507.6 525.4L505.3 522.3M515.5 524.8L519.4 524.9L517.1 521.8M527.3 524.4L531.2 524.4L528.8 521.3M539.3 523.7L543.1 523.5L540.6 520.6M550.9 523.5L554.8 523.3L552.2 520.4M562.7 523.0L566.6 522.6L563.9 519.8M574.6 522.3L578.5 521.8L575.7 519.1M586.3 521.9L590.2 521.3L587.3 518.6M597.9 521.9L601.7 521.2L598.9 518.6M609.1 522.6L613.0 522.1L610.2 519.4" stroke="#000" stroke-width="0.95" fill="none" opacity="0.88"/>
<path d="M183.0 97.0L179.1 96.4L181.1 93.6ZM194.5 97.0L190.6 96.4L192.6 93.6ZM206.1 97.0L202.2 96.4L204.2 93.5ZM217.9 96.6L214.0 96.0L215.9 93.2ZM229.8 96.0L225.9 95.6L227.7 92.7ZM183.0 110.4L179.1 109.8L181.1 107.0ZM194.5 110.5L190.7 109.9L192.6 107.0ZM206.1 110.4L202.3 109.8L204.2 107.0ZM218.0 109.9L214.1 109.4L216.0 106.5ZM229.9 109.3L226.0 109.0L227.8 106.0ZM231.2 77.5L231.5 81.4L228.4 80.2ZM183.0 123.8L179.2 123.2L181.1 120.4ZM194.6 123.8L190.7 123.2L192.7 120.4ZM206.2 123.6L202.4 123.1L204.3 120.3ZM218.0 123.3L214.2 122.8L216.0 119.9ZM229.9 122.8L226.0 122.4L227.8 119.5ZM241.5 122.6L237.7 122.3L239.4 119.4ZM253.2 122.5L249.3 122.2L251.0 119.2ZM183.1 137.2L179.2 136.6L181.1 133.8ZM194.6 137.2L190.7 136.6L192.7 133.8ZM206.2 137.2L202.3 136.6L204.2 133.8ZM217.8 137.1L213.9 136.5L215.8 133.7ZM229.6 136.6L225.8 136.2L227.6 133.3ZM241.6 135.9L237.8 135.6L239.5 132.6ZM253.7 135.0L249.8 134.9L251.4 131.8ZM266.1 133.1L262.2 133.4L263.5 130.2ZM183.0 150.7L179.2 150.1L181.1 147.3ZM194.5 150.8L190.6 150.2L192.6 147.4ZM205.9 151.0L202.1 150.3L204.1 147.6ZM217.4 151.0L213.6 150.4L215.6 147.6ZM229.2 150.8L225.3 150.2L227.3 147.4ZM241.4 149.7L237.5 149.3L239.3 146.4ZM253.7 148.5L249.8 148.4L251.4 145.3ZM265.5 148.0L261.6 148.0L263.1 144.9ZM280.6 140.7L276.9 142.1L277.3 138.7ZM183.0 164.2L179.1 163.6L181.1 160.8ZM194.4 164.4L190.6 163.7L192.6 161.0ZM205.9 164.5L202.0 163.9L204.0 161.1ZM217.4 164.6L213.5 163.9L215.6 161.1ZM229.0 164.4L225.2 163.8L227.2 161.0ZM241.1 163.6L237.3 163.1L239.1 160.3ZM253.3 162.6L249.4 162.4L251.1 159.4ZM265.3 161.7L261.4 161.7L263.0 158.6ZM277.3 160.9L273.4 161.0L274.8 157.9ZM291.7 157.2L287.9 158.1L288.6 154.7ZM182.9 177.7L179.1 177.1L181.1 174.3ZM194.5 177.8L190.6 177.2L192.6 174.4ZM206.0 177.9L202.1 177.2L204.1 174.4ZM217.5 177.9L213.7 177.2L215.6 174.4ZM229.3 177.5L225.4 177.0L227.4 174.1ZM241.1 177.1L237.3 176.6L239.1 173.7ZM252.8 176.8L249.0 176.4L250.8 173.5ZM265.0 175.7L261.1 175.5L262.8 172.5ZM277.5 173.8L273.6 174.0L274.9 170.9ZM288.9 174.2L285.0 174.3L286.4 171.2ZM182.9 191.3L179.0 190.7L181.0 187.9ZM194.5 191.2L190.6 190.6L192.6 187.8ZM206.1 191.1L202.2 190.5L204.2 187.7ZM217.8 190.9L213.9 190.4L215.8 187.6ZM229.5 190.7L225.6 190.2L227.5 187.3ZM241.1 190.5L237.2 190.1L239.1 187.2ZM252.7 190.5L248.8 190.1L250.7 187.2ZM264.6 190.0L260.7 189.6L262.5 186.7ZM277.1 188.1L273.2 188.1L274.7 185.1ZM289.6 185.9L285.7 186.4L286.8 183.1ZM182.6 205.1L178.8 204.4L180.8 201.6ZM194.2 205.0L190.4 204.3L192.4 201.5ZM206.0 204.7L202.1 204.1L204.1 201.3ZM217.7 204.5L213.9 203.9L215.8 201.1ZM229.4 204.2L225.6 203.7L227.5 200.8ZM241.1 204.0L237.2 203.5L239.1 200.7ZM252.7 204.0L248.8 203.5L250.7 200.6ZM264.4 203.7L260.5 203.3L262.4 200.4ZM276.5 202.8L272.6 202.6L274.3 199.6ZM292.1 195.2L288.4 196.4L288.8 193.1ZM182.3 219.0L178.5 218.1L180.6 215.5ZM193.9 218.9L190.0 218.1L192.1 215.4ZM205.6 218.7L201.8 217.9L203.8 215.2ZM217.4 218.3L213.6 217.7L215.6 214.9ZM229.1 218.1L225.3 217.5L227.2 214.7ZM240.7 218.0L236.9 217.4L238.8 214.6ZM252.4 217.9L248.5 217.3L250.4 214.5ZM264.1 217.6L260.2 217.1L262.1 214.3ZM276.0 217.1L272.1 216.7L273.9 213.8ZM287.9 216.5L284.0 216.2L285.7 213.3ZM299.7 216.1L295.8 215.9L297.4 212.9ZM300.2 183.7L300.6 187.6L297.4 186.5ZM314.0 184.6L314.1 188.5L311.0 187.1ZM325.2 184.5L325.3 188.4L322.2 187.0ZM339.3 185.8L338.9 189.7L336.0 187.9ZM353.9 188.1L353.0 191.8L350.4 189.6ZM356.5 184.5L357.2 188.4L353.9 187.4ZM182.1 232.7L178.3 231.8L180.4 229.1ZM193.6 232.7L189.8 231.8L192.0 229.1ZM205.3 232.5L201.5 231.7L203.6 229.0ZM217.1 232.1L213.3 231.4L215.4 228.7ZM228.8 231.9L225.0 231.2L227.0 228.5ZM240.3 232.0L236.5 231.3L238.5 228.6ZM251.9 232.0L248.0 231.3L250.1 228.6ZM263.7 231.7L259.8 231.1L261.8 228.3ZM275.6 231.1L271.7 230.6L273.6 227.8ZM287.7 230.4L283.8 230.0L285.5 227.1ZM299.6 229.6L295.8 229.4L297.4 226.4ZM311.5 229.0L307.6 228.9L309.2 225.9ZM322.9 229.3L319.0 229.2L320.6 226.1ZM335.9 225.9L332.0 226.4L333.1 223.2ZM347.7 225.2L343.8 225.8L344.8 222.6ZM361.1 224.0L357.3 225.0L358.0 221.6ZM373.0 221.5L369.3 222.9L369.7 219.5ZM365.9 197.5L366.9 201.2L363.6 200.6ZM378.8 197.8L379.6 201.6L376.3 200.7ZM182.1 246.1L178.3 245.3L180.4 242.6ZM193.6 246.2L189.8 245.3L192.0 242.6ZM205.2 246.1L201.4 245.2L203.5 242.6ZM217.0 245.7L213.2 244.9L215.3 242.2ZM228.8 245.5L224.9 244.8L227.0 242.0ZM240.3 245.6L236.4 244.8L238.5 242.1ZM251.8 245.6L248.0 244.8L250.0 242.1ZM263.5 245.3L259.7 244.6L261.7 241.9ZM275.3 245.0L271.5 244.4L273.4 241.6ZM287.4 244.2L283.5 243.8L285.4 240.9ZM299.6 243.2L295.7 242.9L297.4 240.0ZM311.4 242.8L307.5 242.6L309.1 239.6ZM322.9 242.7L319.0 242.6L320.6 239.6ZM334.5 242.7L330.6 242.6L332.2 239.6ZM367.1 211.2L367.9 215.0L364.6 214.2ZM378.0 211.0L379.0 214.8L375.6 214.1ZM390.7 211.3L391.4 215.1L388.1 214.2ZM182.1 259.5L178.3 258.7L180.4 256.0ZM193.7 259.5L189.9 258.7L192.0 256.0ZM205.3 259.4L201.5 258.6L203.6 255.9ZM217.0 259.2L213.2 258.4L215.3 255.7ZM228.8 259.0L224.9 258.2L227.0 255.5ZM240.3 258.9L236.5 258.2L238.5 255.4ZM252.0 258.8L248.1 258.1L250.2 255.4ZM263.6 258.7L259.7 258.0L261.8 255.3ZM275.2 258.7L271.3 258.0L273.3 255.2ZM287.2 258.0L283.3 257.5L285.2 254.7ZM299.6 256.6L295.7 256.4L297.4 253.4ZM311.5 255.9L307.6 255.8L309.2 252.8ZM331.4 224.4L332.4 228.2L329.1 227.5ZM343.4 224.5L344.3 228.3L341.0 227.6ZM354.9 224.5L355.9 228.3L352.5 227.6ZM366.9 224.6L367.8 228.4L364.5 227.6ZM379.2 224.8L380.0 228.6L376.7 227.7ZM391.1 224.9L391.8 228.7L388.5 227.8ZM402.8 224.9L403.4 228.8L400.2 227.8ZM414.9 225.1L415.5 228.9L412.2 227.9ZM427.2 225.3L427.6 229.2L424.4 228.0ZM443.4 227.7L442.9 231.5L440.0 229.7ZM182.2 272.9L178.4 272.1L180.5 269.4ZM193.7 272.9L189.9 272.1L192.0 269.4ZM205.3 272.9L201.5 272.0L203.6 269.3ZM217.0 272.7L213.1 271.9L215.2 269.2ZM228.7 272.5L224.8 271.8L226.9 269.0ZM240.4 272.3L236.5 271.6L238.6 268.9ZM252.0 272.2L248.2 271.5L250.2 268.7ZM263.6 272.2L259.8 271.5L261.8 268.7ZM275.2 272.1L271.3 271.4L273.3 268.7ZM287.2 271.5L283.3 271.0L285.2 268.1ZM299.5 270.2L295.6 270.0L297.3 267.0ZM311.4 269.5L307.5 269.4L309.1 266.3ZM323.0 269.4L319.1 269.3L320.7 266.3ZM320.2 237.9L321.1 241.7L317.8 241.0ZM331.1 237.8L332.2 241.5L328.8 240.9ZM343.0 237.9L344.0 241.6L340.6 241.0ZM355.0 238.0L356.0 241.7L352.6 241.0ZM367.1 238.1L367.9 241.9L364.6 241.1ZM379.4 238.3L380.1 242.1L376.8 241.2ZM391.3 238.4L391.9 242.2L388.6 241.2ZM403.0 238.4L403.6 242.3L400.3 241.3ZM414.9 238.5L415.4 242.4L412.2 241.3ZM426.8 238.7L427.3 242.5L424.1 241.4ZM440.5 239.5L440.6 243.4L437.5 242.0ZM182.1 286.5L178.3 285.6L180.4 282.9ZM193.6 286.6L189.8 285.7L191.9 283.0ZM205.1 286.6L201.3 285.7L203.4 283.1ZM216.6 286.6L212.8 285.7L215.0 283.1ZM228.3 286.4L224.5 285.5L226.7 282.9ZM240.2 286.1L236.3 285.3L238.4 282.6ZM251.9 285.8L248.1 285.0L250.1 282.3ZM263.6 285.6L259.8 284.9L261.8 282.1ZM275.3 285.4L271.5 284.8L273.4 282.0ZM287.2 284.9L283.3 284.4L285.2 281.5ZM299.2 284.2L295.3 283.8L297.1 280.9ZM311.1 283.6L307.2 283.3L308.9 280.4ZM322.8 283.4L318.9 283.2L320.5 280.2ZM334.3 283.3L330.4 283.2L332.1 280.2ZM346.0 283.1L342.1 282.9L343.7 279.9ZM361.6 273.1L358.0 274.8L358.0 271.4ZM355.6 251.6L356.5 255.4L353.1 254.5ZM367.8 251.7L368.5 255.6L365.3 254.6ZM379.8 251.9L380.5 255.7L377.2 254.7ZM391.4 251.9L392.0 255.7L388.8 254.7ZM403.0 251.9L403.6 255.7L400.4 254.7ZM414.8 251.9L415.4 255.8L412.1 254.8ZM426.5 252.0L427.0 255.9L423.8 254.8ZM438.1 252.0L438.6 255.9L435.4 254.8ZM455.4 254.9L454.8 258.8L452.0 256.8ZM460.7 251.9L461.4 255.7L458.1 254.7ZM468.1 251.0L469.5 254.7L466.1 254.3ZM181.9 300.1L178.1 299.2L180.3 296.6ZM193.3 300.3L189.5 299.3L191.8 296.7ZM204.8 300.4L201.0 299.4L203.2 296.8ZM216.3 300.5L212.5 299.5L214.7 296.9ZM227.9 300.3L224.2 299.4L226.4 296.8ZM239.8 300.0L236.0 299.1L238.1 296.4ZM251.7 299.6L247.8 298.8L249.9 296.1ZM263.4 299.3L259.6 298.6L261.6 295.8ZM275.2 299.0L271.3 298.3L273.3 295.6ZM287.0 298.7L283.1 298.1L285.1 295.3ZM298.8 298.2L295.0 297.7L296.8 294.9ZM310.6 297.8L306.8 297.4L308.6 294.5ZM322.4 297.4L318.5 297.1L320.3 294.2ZM334.1 297.1L330.3 296.9L331.9 293.9ZM345.8 296.9L341.9 296.7L343.6 293.7ZM358.0 295.6L354.1 295.7L355.6 292.6ZM369.9 294.9L366.0 295.1L367.3 291.9ZM381.4 295.1L377.5 295.3L378.8 292.1ZM379.9 265.3L380.5 269.2L377.2 268.2ZM391.4 265.3L392.1 269.2L388.8 268.2ZM403.1 265.3L403.7 269.2L400.4 268.2ZM414.8 265.4L415.4 269.3L412.1 268.2ZM426.4 265.4L427.0 269.3L423.7 268.2ZM445.2 269.4L444.3 273.2L441.7 271.0ZM449.6 265.4L450.1 269.3L446.9 268.2ZM461.2 265.5L461.7 269.3L458.4 268.3ZM467.7 264.4L469.1 268.1L465.7 267.8ZM481.2 264.7L482.3 268.4L478.9 267.8ZM494.0 265.0L494.9 268.8L491.6 268.0ZM181.7 313.8L178.0 312.8L180.2 310.2ZM193.2 313.9L189.4 312.9L191.7 310.3ZM204.7 314.0L200.9 312.9L203.2 310.4ZM216.2 314.0L212.5 313.0L214.7 310.4ZM227.8 313.9L224.0 312.9L226.3 310.3ZM239.6 313.7L235.8 312.7L238.0 310.1ZM251.4 313.4L247.6 312.5L249.7 309.8ZM263.1 313.2L259.3 312.4L261.4 309.7ZM274.8 313.0L271.0 312.2L273.1 309.5ZM286.6 312.7L282.7 311.9L284.8 309.2ZM298.4 312.3L294.5 311.7L296.5 308.9ZM310.2 312.0L306.3 311.4L308.2 308.6ZM322.1 311.4L318.2 311.0L320.0 308.1ZM334.0 310.8L330.1 310.5L331.9 307.5ZM345.6 310.6L341.8 310.4L343.5 307.4ZM357.4 310.3L353.5 310.1L355.2 307.1ZM369.8 308.7L365.9 308.8L367.3 305.7ZM381.2 308.8L377.3 308.9L378.8 305.8ZM392.5 309.4L388.6 309.4L390.1 306.3ZM391.5 278.8L392.1 282.6L388.8 281.6ZM403.2 278.8L403.8 282.7L400.5 281.7ZM414.9 278.9L415.4 282.7L412.2 281.7ZM426.5 278.9L427.0 282.7L423.8 281.7ZM438.0 278.9L438.6 282.8L435.3 281.7ZM461.2 278.9L461.7 282.8L458.5 281.7ZM472.7 278.9L473.2 282.8L470.0 281.7ZM484.0 278.8L484.6 282.7L481.3 281.7ZM494.6 278.6L495.4 282.4L492.1 281.5ZM507.3 278.9L507.9 282.7L504.6 281.7ZM181.6 327.4L177.8 326.4L180.0 323.8ZM193.1 327.4L189.4 326.4L191.6 323.8ZM204.7 327.4L200.9 326.4L203.2 323.8ZM216.2 327.4L212.5 326.4L214.7 323.8ZM227.9 327.3L224.1 326.3L226.3 323.7ZM239.6 327.1L235.8 326.2L238.0 323.6ZM251.2 327.0L247.4 326.1L249.6 323.5ZM262.8 327.0L259.0 326.1L261.2 323.5ZM274.4 326.9L270.6 326.0L272.8 323.4ZM286.2 326.6L282.4 325.8L284.5 323.1ZM298.0 326.3L294.2 325.5L296.2 322.8ZM309.6 326.2L305.8 325.5L307.8 322.8ZM321.3 326.0L317.5 325.3L319.5 322.6ZM333.6 325.0L329.7 324.5L331.5 321.6ZM345.6 324.2L341.7 323.9L343.4 321.0ZM357.3 323.9L353.4 323.7L355.1 320.7ZM369.2 323.3L365.3 323.2L366.9 320.2ZM380.8 323.1L376.9 323.1L378.5 320.0ZM392.3 323.2L388.4 323.1L390.0 320.1ZM391.6 292.3L392.2 296.1L388.9 295.1ZM403.3 292.3L403.8 296.2L400.6 295.1ZM414.9 292.3L415.5 296.2L412.2 295.1ZM426.5 292.3L427.0 296.2L423.8 295.1ZM438.2 292.4L438.7 296.3L435.4 295.2ZM449.8 292.4L450.3 296.3L447.1 295.2ZM461.3 292.4L461.8 296.3L458.6 295.2ZM472.7 292.4L473.3 296.2L470.0 295.2ZM484.2 292.3L484.7 296.2L481.5 295.1ZM495.5 292.3L496.1 296.1L492.9 295.1ZM507.3 292.3L507.9 296.2L504.6 295.1ZM520.0 292.7L520.3 296.6L517.1 295.4ZM181.3 341.2L177.5 340.1L179.8 337.6ZM192.9 341.2L189.1 340.1L191.4 337.6ZM204.5 341.0L200.8 340.0L203.0 337.4ZM216.2 340.9L212.5 339.9L214.7 337.3ZM227.9 340.7L224.1 339.7L226.3 337.1ZM239.6 340.6L235.8 339.6L238.0 337.0ZM251.1 340.6L247.4 339.6L249.6 337.0ZM262.7 340.6L258.9 339.6L261.1 337.0ZM274.2 340.6L270.4 339.6L272.6 337.0ZM286.0 340.3L282.2 339.4L284.3 336.8ZM297.8 340.0L294.0 339.2L296.1 336.5ZM309.4 340.0L305.5 339.2L307.6 336.5ZM320.9 340.0L317.1 339.2L319.2 336.5ZM332.8 339.6L328.9 338.9L331.0 336.1ZM345.1 338.5L341.2 338.0L343.0 335.2ZM357.0 337.8L353.1 337.5L354.9 334.6ZM368.8 337.4L365.0 337.1L366.6 334.2ZM380.6 336.9L376.7 336.8L378.4 333.8ZM396.0 329.7L392.3 330.9L392.8 327.6ZM391.7 305.7L392.3 309.6L389.0 308.6ZM403.3 305.8L403.9 309.6L400.6 308.6ZM415.0 305.8L415.5 309.7L412.3 308.6ZM426.7 305.9L427.2 309.7L423.9 308.6ZM438.4 305.9L438.8 309.8L435.6 308.7ZM449.9 305.9L450.4 309.8L447.2 308.7ZM461.4 305.9L461.9 309.7L458.6 308.6ZM472.7 305.8L473.2 309.7L470.0 308.6ZM484.2 305.8L484.8 309.7L481.5 308.6ZM495.8 305.8L496.4 309.7L493.1 308.6ZM507.4 305.8L507.9 309.7L504.7 308.6ZM519.3 305.9L519.8 309.8L516.6 308.7ZM534.2 307.4L534.0 311.3L531.0 309.7ZM181.1 354.8L177.4 353.7L179.7 351.2ZM192.6 354.9L188.9 353.7L191.2 351.2ZM204.3 354.8L200.5 353.7L202.8 351.1ZM216.0 354.5L212.3 353.5L214.6 350.9ZM227.8 354.3L224.0 353.3L226.3 350.7ZM239.5 354.1L235.7 353.1L237.9 350.5ZM251.1 354.0L247.3 353.1L249.5 350.5ZM262.7 354.0L258.9 353.1L261.1 350.5ZM274.2 354.0L270.5 353.1L272.7 350.4ZM286.0 353.8L282.2 352.9L284.3 350.3ZM297.8 353.5L293.9 352.7L296.1 350.0ZM309.4 353.4L305.5 352.6L307.6 349.9ZM320.9 353.4L317.1 352.6L319.2 349.9ZM332.7 353.1L328.9 352.4L330.9 349.7ZM344.7 352.5L340.8 351.9L342.8 349.1ZM356.7 351.9L352.8 351.4L354.6 348.5ZM368.6 351.2L364.8 350.9L366.5 347.9ZM380.6 350.5L376.7 350.3L378.3 347.3ZM392.4 349.9L388.5 349.8L390.1 346.8ZM404.3 349.4L400.4 349.4L401.8 346.3ZM403.4 319.3L403.9 323.1L400.7 322.1ZM415.1 319.3L415.6 323.2L412.3 322.1ZM426.7 319.3L427.2 323.2L424.0 322.1ZM438.3 319.3L438.8 323.2L435.6 322.1ZM449.9 319.4L450.4 323.2L447.1 322.1ZM461.3 319.3L461.8 323.2L458.5 322.1ZM472.7 319.2L473.2 323.1L470.0 322.0ZM484.2 319.2L484.8 323.1L481.5 322.0ZM496.0 319.3L496.5 323.2L493.2 322.1ZM507.8 319.4L508.3 323.3L505.1 322.2ZM519.5 319.4L519.9 323.3L516.7 322.2ZM534.6 321.1L534.4 325.0L531.4 323.3ZM181.1 368.3L177.4 367.2L179.7 364.7ZM192.6 368.3L188.9 367.2L191.2 364.7ZM204.2 368.3L200.5 367.2L202.8 364.7ZM215.9 368.1L212.2 367.0L214.5 364.5ZM227.7 367.9L223.9 366.9L226.2 364.3ZM239.4 367.7L235.6 366.7L237.8 364.1ZM251.0 367.6L247.2 366.6L249.5 364.0ZM262.6 367.6L258.8 366.6L261.0 364.0ZM274.1 367.6L270.4 366.6L272.6 364.0ZM285.8 367.5L282.0 366.5L284.2 363.9ZM297.6 367.2L293.8 366.3L295.9 363.7ZM309.3 367.0L305.5 366.1L307.6 363.5ZM320.9 366.9L317.1 366.1L319.2 363.4ZM332.5 366.8L328.7 366.0L330.8 363.3ZM344.3 366.5L340.5 365.8L342.5 363.1ZM356.3 365.9L352.4 365.3L354.4 362.5ZM368.3 365.1L364.5 364.7L366.3 361.8ZM380.3 364.4L376.4 364.1L378.1 361.2ZM392.1 364.0L388.2 363.8L389.8 360.8ZM403.6 364.1L399.7 363.9L401.4 360.9ZM415.4 363.6L411.5 363.5L413.1 360.5ZM427.2 363.1L423.3 363.1L424.8 360.1ZM426.7 332.8L427.2 336.6L424.0 335.5ZM438.3 332.8L438.8 336.6L435.5 335.5ZM449.8 332.8L450.3 336.6L447.1 335.5ZM461.3 332.7L461.8 336.6L458.5 335.5ZM472.7 332.7L473.3 336.6L470.0 335.5ZM484.4 332.7L484.9 336.6L481.6 335.5ZM496.3 332.9L496.7 336.7L493.5 335.6ZM508.0 332.9L508.4 336.8L505.2 335.6ZM519.6 332.9L520.0 336.8L516.8 335.6ZM535.0 334.8L534.6 338.7L531.7 336.9ZM181.1 381.7L177.4 380.6L179.7 378.1ZM192.6 381.8L188.9 380.6L191.2 378.1ZM204.2 381.8L200.5 380.6L202.8 378.1ZM215.8 381.7L212.0 380.6L214.4 378.1ZM227.4 381.6L223.7 380.5L226.0 378.0ZM239.2 381.4L235.4 380.4L237.7 377.8ZM250.8 381.3L247.0 380.3L249.3 377.7ZM262.3 381.4L258.5 380.3L260.8 377.8ZM273.8 381.4L270.0 380.4L272.3 377.8ZM285.4 381.3L281.7 380.3L283.9 377.7ZM297.2 381.0L293.5 380.1L295.7 377.5ZM309.0 380.7L305.3 379.8L307.4 377.2ZM320.6 380.7L316.8 379.8L319.0 377.2ZM332.1 380.8L328.3 379.9L330.5 377.3ZM343.7 380.7L339.9 379.8L342.1 377.2ZM355.7 380.1L351.9 379.3L354.0 376.6ZM367.9 379.2L364.0 378.7L366.0 375.8ZM379.9 378.6L376.0 378.2L377.8 375.3ZM391.5 378.4L387.7 378.0L389.4 375.1ZM403.2 378.2L399.3 377.8L401.1 374.9ZM415.2 377.5L411.3 377.3L412.9 374.3ZM426.8 377.4L422.9 377.3L424.5 374.3ZM438.3 377.4L434.4 377.2L436.1 374.2ZM453.9 368.4L450.3 370.0L450.5 366.6ZM465.5 366.5L462.0 368.3L461.9 364.9ZM461.4 346.2L461.9 350.1L458.6 349.0ZM473.0 346.2L473.4 350.1L470.2 349.0ZM484.7 346.3L485.1 350.2L481.9 349.0ZM496.5 346.4L496.9 350.3L493.7 349.1ZM508.1 346.4L508.5 350.3L505.2 349.1ZM519.6 346.4L520.0 350.3L516.8 349.1ZM532.6 347.0L532.7 350.9L529.6 349.5ZM550.0 350.8L548.9 354.5L546.3 352.2ZM181.1 395.2L177.3 394.1L179.7 391.6ZM192.5 395.4L188.8 394.2L191.1 391.7ZM203.9 395.5L200.2 394.3L202.6 391.8ZM215.4 395.6L211.7 394.3L214.1 391.9ZM227.1 395.5L223.3 394.3L225.7 391.8ZM238.9 395.2L235.1 394.0L237.5 391.5ZM250.6 394.9L246.9 393.9L249.2 391.3ZM262.2 394.9L258.5 393.9L260.7 391.3ZM273.7 395.0L270.0 393.9L272.3 391.3ZM285.3 394.9L281.6 393.9L283.8 391.3ZM297.1 394.7L293.3 393.7L295.5 391.1ZM308.9 394.4L305.1 393.5L307.3 390.8ZM320.5 394.3L316.7 393.4L318.9 390.8ZM332.0 394.4L328.2 393.4L330.4 390.8ZM343.5 394.4L339.8 393.4L341.9 390.8ZM355.5 393.9L351.7 393.1L353.8 390.4ZM367.5 393.3L363.6 392.6L365.7 389.8ZM379.4 392.8L375.5 392.2L377.5 389.4ZM391.3 392.3L387.4 391.8L389.3 389.0ZM402.8 392.3L399.0 391.8L400.8 388.9ZM414.9 391.5L411.0 391.2L412.7 388.2ZM426.7 391.0L422.8 390.8L424.4 387.8ZM438.2 391.0L434.4 390.8L436.0 387.8ZM449.9 390.8L446.0 390.6L447.6 387.6ZM465.4 382.7L461.8 384.1L462.1 380.7ZM477.0 381.9L473.4 383.4L473.6 380.0ZM488.6 379.5L485.2 381.4L485.0 378.0ZM485.0 359.8L485.4 363.7L482.2 362.6ZM496.7 359.9L497.1 363.8L493.9 362.6ZM508.4 360.0L508.8 363.9L505.6 362.6ZM520.3 360.1L520.6 364.0L517.4 362.7ZM532.2 360.3L532.4 364.1L529.3 362.8ZM548.5 363.0L547.7 366.8L545.0 364.7ZM180.9 408.8L177.2 407.7L179.6 405.2ZM192.3 409.0L188.6 407.8L191.0 405.3ZM203.7 409.2L200.0 407.9L202.4 405.5ZM215.2 409.2L211.5 407.9L213.9 405.5ZM226.8 409.2L223.1 407.9L225.5 405.5ZM238.6 408.9L234.9 407.7L237.3 405.2ZM250.5 408.5L246.8 407.4L249.1 404.9ZM262.2 408.4L258.4 407.3L260.7 404.8ZM273.8 408.4L270.0 407.3L272.3 404.8ZM285.3 408.3L281.6 407.3L283.9 404.7ZM297.0 408.2L293.2 407.2L295.5 404.6ZM308.6 408.1L304.9 407.1L307.1 404.5ZM320.3 408.0L316.5 407.0L318.8 404.4ZM332.0 407.8L328.2 406.9L330.4 404.3ZM343.6 407.7L339.8 406.8L342.0 404.1ZM355.5 407.3L351.7 406.5L353.8 403.8ZM367.1 407.2L363.3 406.4L365.4 403.7ZM378.7 407.2L374.9 406.4L377.0 403.7ZM390.8 406.5L386.9 405.8L388.9 403.0ZM402.8 405.8L398.9 405.3L400.8 402.4ZM414.7 405.3L410.8 404.9L412.6 402.0ZM426.5 404.8L422.6 404.5L424.3 401.6ZM438.2 404.5L434.3 404.3L436.0 401.3ZM449.9 404.2L446.0 404.0L447.7 401.0ZM461.5 404.1L457.6 404.0L459.2 401.0ZM473.2 403.9L469.3 403.8L470.9 400.7ZM488.5 396.5L484.8 397.9L485.2 394.5ZM500.1 394.5L496.6 396.2L496.7 392.8ZM511.6 392.6L508.3 394.5L508.0 391.1ZM523.2 392.6L519.8 394.5L519.6 391.1ZM521.0 373.8L521.1 377.7L518.0 376.4ZM532.6 373.9L532.7 377.8L529.6 376.4ZM544.6 374.1L544.6 378.0L541.5 376.5ZM180.8 422.4L177.1 421.2L179.5 418.7ZM192.2 422.5L188.5 421.3L190.9 418.8ZM203.7 422.6L200.0 421.4L202.4 418.9ZM215.2 422.7L211.5 421.4L213.9 419.0ZM226.8 422.6L223.1 421.4L225.5 418.9ZM238.5 422.5L234.8 421.3L237.2 418.8ZM250.3 422.2L246.6 421.1L248.9 418.6ZM262.1 422.0L258.3 420.9L260.6 418.4ZM273.7 421.9L270.0 420.8L272.3 418.2ZM285.3 421.8L281.6 420.7L283.9 418.2ZM296.8 421.9L293.1 420.8L295.4 418.2ZM308.3 422.0L304.5 420.9L306.8 418.4ZM319.8 422.0L316.1 420.9L318.4 418.3ZM331.7 421.6L327.9 420.6L330.2 418.0ZM343.5 421.3L339.8 420.3L342.0 417.7ZM355.3 421.0L351.5 420.1L353.7 417.5ZM367.1 420.7L363.3 419.9L365.4 417.2ZM378.7 420.7L374.8 419.9L376.9 417.2ZM390.5 420.3L386.6 419.6L388.7 416.9ZM402.6 419.6L398.7 419.0L400.6 416.2ZM414.4 419.1L410.6 418.6L412.4 415.7ZM426.1 418.9L422.3 418.5L424.1 415.6ZM437.8 418.6L434.0 418.3L435.7 415.3ZM449.8 417.9L445.9 417.7L447.6 414.7ZM461.6 417.4L457.7 417.3L459.3 414.3ZM473.2 417.3L469.3 417.2L470.9 414.2ZM484.9 416.9L481.0 416.9L482.5 413.9ZM497.1 415.6L493.2 415.9L494.5 412.7ZM509.2 414.1L505.3 414.6L506.4 411.4ZM523.2 406.4L519.8 408.3L519.6 404.9ZM534.8 406.4L531.4 408.3L531.2 404.9ZM546.3 406.4L542.9 408.3L542.7 404.9ZM544.1 387.3L544.2 391.2L541.1 389.8ZM554.6 386.9L554.9 390.8L551.8 389.5ZM180.7 435.9L177.0 434.7L179.4 432.3ZM192.2 436.0L188.5 434.8L190.9 432.3ZM203.7 436.1L200.0 434.8L202.4 432.4ZM215.2 436.1L211.5 434.8L214.0 432.4ZM226.7 436.2L223.0 434.9L225.5 432.5ZM238.2 436.2L234.6 434.9L237.0 432.5ZM250.0 436.0L246.3 434.8L248.7 432.3ZM261.8 435.7L258.1 434.5L260.4 432.1ZM273.6 435.5L269.8 434.4L272.1 431.9ZM285.2 435.4L281.4 434.3L283.7 431.8ZM296.7 435.5L292.9 434.4L295.3 431.8ZM308.1 435.6L304.4 434.4L306.7 431.9ZM319.7 435.6L316.0 434.4L318.3 431.9ZM331.5 435.3L327.7 434.2L330.0 431.7ZM343.3 435.0L339.6 434.0L341.8 431.4ZM354.9 435.0L351.1 434.0L353.3 431.4ZM366.6 434.8L362.8 433.8L365.0 431.2ZM378.6 434.2L374.8 433.4L376.9 430.7ZM390.5 433.8L386.6 433.1L388.7 430.3ZM402.4 433.2L398.6 432.6L400.5 429.8ZM414.3 432.7L410.4 432.2L412.3 429.4ZM425.9 432.6L422.1 432.2L423.9 429.3ZM437.5 432.6L433.6 432.2L435.5 429.3ZM449.4 432.1L445.5 431.7L447.2 428.8ZM461.4 431.2L457.5 431.0L459.2 428.0ZM473.3 430.5L469.4 430.5L470.9 427.4ZM485.3 429.6L481.4 429.7L482.8 426.6ZM497.4 428.1L493.6 428.6L494.7 425.3ZM509.5 426.6L505.6 427.3L506.5 424.0ZM521.1 426.2L517.3 427.0L518.1 423.7ZM532.7 426.3L528.8 427.1L529.7 423.8ZM546.2 423.4L542.6 424.8L542.9 421.4ZM557.9 421.8L554.3 423.4L554.4 420.0ZM569.4 420.3L566.0 422.1L565.9 418.7ZM580.7 417.1L577.5 419.4L576.9 416.0ZM180.5 449.6L176.8 448.3L179.3 445.9ZM192.1 449.6L188.4 448.3L190.8 445.9ZM203.6 449.6L199.9 448.3L202.4 445.9ZM215.1 449.7L211.4 448.4L213.8 446.0ZM226.5 449.8L222.9 448.5L225.3 446.1ZM238.1 449.8L234.4 448.5L236.8 446.1ZM249.7 449.7L246.0 448.4L248.5 446.0ZM261.6 449.4L257.9 448.2L260.3 445.7ZM273.4 449.2L269.6 448.0L272.0 445.5ZM285.0 449.1L281.3 447.9L283.6 445.4ZM296.5 449.1L292.8 447.9L295.1 445.4ZM308.1 449.0L304.4 447.9L306.7 445.4ZM319.7 449.0L316.0 447.8L318.3 445.3ZM331.5 448.7L327.8 447.6L330.1 445.1ZM343.3 448.5L339.5 447.5L341.8 444.9ZM354.8 448.5L351.1 447.5L353.3 444.9ZM366.5 448.4L362.7 447.4L364.9 444.8ZM378.3 448.0L374.5 447.1L376.7 444.5ZM390.2 447.6L386.4 446.8L388.5 444.1ZM402.2 447.0L398.4 446.3L400.4 443.6ZM414.2 446.4L410.3 445.9L412.2 443.0ZM425.9 446.1L422.0 445.7L423.9 442.8ZM437.5 446.1L433.6 445.6L435.5 442.7ZM449.2 445.7L445.4 445.3L447.2 442.4ZM461.4 444.8L457.5 444.6L459.1 441.6ZM473.6 443.5L469.7 443.6L471.1 440.5ZM485.7 442.0L481.8 442.4L483.1 439.2ZM497.6 441.1L493.7 441.7L494.8 438.4ZM509.3 440.5L505.5 441.2L506.5 437.9ZM521.1 439.9L517.2 440.6L518.1 437.3ZM532.7 439.6L528.9 440.4L529.7 437.1ZM546.0 438.6L542.2 439.7L542.8 436.3ZM557.5 438.6L553.8 439.6L554.4 436.3ZM569.4 435.7L565.8 437.2L566.0 433.8ZM581.0 434.5L577.5 436.2L577.5 432.8ZM592.5 433.5L589.1 435.4L589.0 432.0ZM180.2 463.3L176.6 462.0L179.0 459.6ZM191.8 463.4L188.1 462.0L190.6 459.6ZM203.4 463.3L199.7 461.9L202.2 459.6ZM215.0 463.2L211.4 461.9L213.8 459.5ZM226.5 463.2L222.9 461.9L225.3 459.5ZM238.1 463.3L234.4 461.9L236.9 459.6ZM249.7 463.2L246.0 461.9L248.5 459.5ZM261.5 462.9L257.8 461.7L260.2 459.2ZM273.2 462.8L269.5 461.6L271.9 459.1ZM284.7 462.8L281.0 461.6L283.4 459.1ZM296.2 462.9L292.5 461.7L294.9 459.2ZM307.7 462.9L304.0 461.7L306.4 459.2ZM319.5 462.7L315.8 461.5L318.1 459.0ZM331.4 462.3L327.7 461.2L330.0 458.6ZM343.3 461.9L339.5 460.9L341.7 458.3ZM354.9 461.8L351.1 460.9L353.4 458.3ZM366.5 461.8L362.7 460.8L364.9 458.2ZM378.0 461.8L374.2 460.8L376.5 458.2ZM389.8 461.5L386.0 460.6L388.2 458.0ZM401.8 461.0L398.0 460.2L400.1 457.5ZM413.7 460.5L409.9 459.8L411.9 457.0ZM425.5 460.2L421.6 459.6L423.6 456.8ZM437.2 460.0L433.3 459.4L435.2 456.6ZM449.0 459.6L445.1 459.1L447.0 456.2ZM461.2 458.5L457.3 458.2L459.0 455.2ZM473.6 456.8L469.7 456.9L471.1 453.8ZM485.9 455.1L482.0 455.6L483.1 452.3ZM497.7 454.2L493.9 454.8L494.9 451.5ZM509.2 454.5L505.3 455.0L506.4 451.8ZM520.7 454.5L516.9 455.0L517.9 451.8ZM532.5 453.7L528.7 454.4L529.6 451.1ZM544.3 452.9L540.5 453.8L541.3 450.4ZM555.7 453.4L551.9 454.2L552.7 450.9ZM567.2 453.4L563.4 454.2L564.3 450.9ZM578.8 453.2L575.0 454.0L575.9 450.7ZM592.5 448.9L589.0 450.5L589.1 447.0ZM180.1 476.9L176.4 475.6L178.9 473.2ZM191.6 477.0L187.9 475.6L190.4 473.2ZM203.2 476.9L199.6 475.5L202.1 473.2ZM215.0 476.7L211.3 475.4L213.7 473.0ZM226.6 476.6L222.9 475.3L225.4 472.9ZM238.2 476.6L234.5 475.3L236.9 472.9ZM249.8 476.5L246.1 475.2L248.6 472.8ZM261.5 476.4L257.8 475.1L260.2 472.7ZM273.0 476.4L269.4 475.1L271.8 472.7ZM284.5 476.5L280.8 475.2L283.2 472.8ZM296.1 476.5L292.4 475.2L294.8 472.8ZM307.6 476.5L303.9 475.2L306.3 472.8ZM319.3 476.3L315.6 475.1L318.0 472.7ZM331.2 475.9L327.5 474.8L329.8 472.3ZM343.1 475.5L339.4 474.5L341.7 471.9ZM354.9 475.3L351.1 474.3L353.3 471.8ZM366.4 475.3L362.6 474.3L364.9 471.8ZM377.9 475.4L374.2 474.4L376.4 471.8ZM389.6 475.2L385.8 474.2L388.1 471.6ZM401.5 474.8L397.7 473.9L399.9 471.3ZM413.2 474.6L409.4 473.8L411.5 471.1ZM425.0 474.3L421.2 473.5L423.3 470.8ZM436.6 474.2L432.8 473.4L434.9 470.7ZM448.4 473.8L444.6 473.2L446.6 470.4ZM460.8 472.6L456.9 472.2L458.7 469.3ZM473.3 471.0L469.4 470.9L470.9 467.9ZM485.5 469.5L481.6 469.7L482.9 466.6ZM497.1 469.4L493.2 469.6L494.5 466.5ZM508.7 469.2L504.8 469.5L506.1 466.3ZM520.4 468.8L516.6 469.2L517.7 465.9ZM532.2 468.2L528.3 468.7L529.4 465.4ZM543.9 467.8L540.0 468.4L541.0 465.1ZM555.3 468.1L551.5 468.6L552.5 465.4ZM567.0 467.6L563.2 468.2L564.2 465.0ZM579.0 466.2L575.2 467.1L575.9 463.7ZM592.3 464.8L588.6 466.0L589.1 462.6ZM180.0 490.4L176.4 489.0L178.9 486.7ZM191.6 490.4L187.9 489.0L190.4 486.7ZM203.2 490.4L199.5 489.0L202.0 486.7ZM214.9 490.2L211.2 488.9L213.7 486.5ZM226.6 490.1L222.9 488.8L225.4 486.4ZM238.2 490.0L234.5 488.7L237.0 486.3ZM249.8 490.0L246.1 488.7L248.5 486.3ZM261.4 489.9L257.7 488.6L260.1 486.2ZM272.9 490.0L269.2 488.7L271.7 486.3ZM284.3 490.1L280.6 488.8L283.1 486.4ZM295.8 490.2L292.1 488.8L294.6 486.5ZM307.5 490.0L303.8 488.7L306.3 486.3ZM319.3 489.8L315.6 488.5L318.0 486.1ZM331.2 489.4L327.4 488.3L329.8 485.8ZM342.9 489.2L339.2 488.1L341.5 485.6ZM354.7 489.0L350.9 487.9L353.2 485.4ZM366.4 488.8L362.6 487.8L364.9 485.2ZM378.0 488.7L374.2 487.8L376.5 485.2ZM389.7 488.6L385.9 487.7L388.1 485.0ZM401.3 488.5L397.5 487.5L399.7 484.9ZM412.8 488.5L409.1 487.6L411.2 485.0ZM424.6 488.2L420.8 487.4L423.0 484.7ZM436.6 487.7L432.8 486.9L434.8 484.2ZM448.3 487.4L444.5 486.8L446.5 484.0ZM460.5 486.5L456.7 486.0L458.5 483.1ZM472.6 485.7L468.7 485.4L470.4 482.4ZM484.6 484.8L480.7 484.7L482.3 481.6ZM496.9 483.4L493.0 483.5L494.3 480.4ZM508.5 483.1L504.6 483.3L506.0 480.2ZM520.2 482.9L516.3 483.1L517.6 480.0ZM531.9 482.4L528.0 482.8L529.2 479.6ZM543.6 482.0L539.7 482.5L540.9 479.2ZM555.1 482.1L551.3 482.5L552.4 479.3ZM566.7 481.9L562.9 482.4L564.0 479.1ZM578.8 480.4L574.9 481.1L575.8 477.8ZM592.0 479.8L588.2 480.7L589.0 477.4ZM604.0 472.9L600.7 474.9L600.4 471.5ZM180.1 503.8L176.5 502.4L179.0 500.1ZM191.7 503.8L188.0 502.4L190.5 500.1ZM203.3 503.7L199.6 502.4L202.1 500.0ZM214.9 503.6L211.3 502.3L213.7 499.9ZM226.5 503.6L222.8 502.3L225.3 499.9ZM238.0 503.7L234.3 502.3L236.8 500.0ZM249.5 503.7L245.9 502.3L248.4 500.0ZM261.2 503.5L257.6 502.2L260.0 499.8ZM272.9 503.5L269.2 502.2L271.6 499.8ZM284.3 503.6L280.6 502.2L283.1 499.9ZM295.8 503.6L292.2 502.3L294.6 499.9ZM307.5 503.5L303.8 502.2L306.3 499.8ZM319.4 503.2L315.7 501.9L318.0 499.5ZM331.1 503.0L327.4 501.8L329.7 499.3ZM342.6 503.0L338.9 501.8L341.2 499.4ZM354.2 502.9L350.5 501.8L352.9 499.3ZM366.2 502.5L362.4 501.4L364.7 498.9ZM377.9 502.3L374.1 501.3L376.4 498.7ZM389.4 502.4L385.6 501.3L387.9 498.8ZM401.0 502.3L397.3 501.3L399.5 498.7ZM412.8 502.0L409.1 501.0L411.2 498.4ZM424.5 501.8L420.7 500.9L422.9 498.2ZM436.6 501.1L432.8 500.4L434.8 497.6ZM448.5 500.7L444.6 500.0L446.6 497.3ZM460.2 500.4L456.4 499.8L458.3 497.0ZM472.3 499.6L468.4 499.2L470.2 496.3ZM483.9 499.5L480.0 499.1L481.8 496.2ZM496.0 498.6L492.1 498.4L493.7 495.4ZM508.0 497.8L504.1 497.8L505.6 494.7ZM519.9 497.0L516.0 497.1L517.4 494.0ZM531.7 496.4L527.8 496.6L529.1 493.5ZM543.3 496.2L539.4 496.5L540.7 493.3ZM555.1 495.7L551.2 496.1L552.4 492.9ZM566.8 495.2L562.9 495.7L564.0 492.4ZM578.6 494.5L574.7 495.1L575.7 491.9ZM590.2 494.2L586.4 494.9L587.3 491.6ZM603.5 493.4L599.7 494.2L600.5 490.9ZM615.6 488.3L612.1 490.0L612.1 486.6ZM180.3 517.1L176.6 515.7L179.1 513.4ZM191.8 517.1L188.2 515.7L190.6 513.4ZM203.4 517.1L199.7 515.7L202.2 513.4ZM214.9 517.1L211.3 515.8L213.7 513.4ZM226.3 517.2L222.7 515.8L225.2 513.5ZM237.8 517.3L234.2 515.9L236.7 513.6ZM249.3 517.3L245.7 515.9L248.2 513.6ZM261.0 517.2L257.4 515.8L259.8 513.5ZM272.8 516.9L269.1 515.6L271.6 513.2ZM284.5 516.9L280.8 515.6L283.2 513.2ZM296.0 516.8L292.3 515.6L294.8 513.2ZM307.7 516.7L304.0 515.5L306.4 513.0ZM319.5 516.5L315.8 515.3L318.1 512.8ZM331.0 516.5L327.3 515.3L329.7 512.8ZM342.5 516.5L338.8 515.3L341.2 512.9ZM354.1 516.5L350.4 515.3L352.8 512.8ZM366.0 516.1L362.3 515.0L364.6 512.5ZM377.8 515.9L374.0 514.8L376.3 512.3ZM389.2 516.0L385.5 514.9L387.8 512.4ZM400.8 516.0L397.0 514.9L399.3 512.4ZM412.7 515.6L408.9 514.6L411.2 512.0ZM424.8 514.9L421.0 514.1L423.1 511.4ZM436.8 514.3L432.9 513.6L435.0 510.9ZM448.4 514.2L444.6 513.6L446.6 510.8ZM459.9 514.3L456.1 513.6L458.1 510.8ZM472.1 513.4L468.2 512.9L470.1 510.1ZM484.0 512.8L480.1 512.4L481.9 509.5ZM495.8 512.4L491.9 512.1L493.6 509.1ZM507.5 512.1L503.6 511.9L505.3 508.9ZM519.6 511.0L515.7 511.0L517.2 508.0ZM531.7 509.8L527.8 510.1L529.1 506.9ZM543.3 509.7L539.4 510.0L540.7 506.8ZM554.9 509.6L551.0 509.9L552.3 506.7ZM566.7 508.9L562.8 509.3L564.0 506.1ZM578.6 508.0L574.7 508.6L575.7 505.3ZM590.2 507.6L586.4 508.3L587.3 505.0ZM601.7 507.9L597.8 508.5L598.8 505.3ZM615.4 504.9L611.7 506.1L612.2 502.7ZM180.5 530.3L176.8 529.0L179.2 526.6ZM192.0 530.4L188.3 529.1L190.8 526.7ZM203.5 530.4L199.8 529.1L202.3 526.7ZM214.9 530.5L211.3 529.2L213.7 526.8ZM226.3 530.7L222.7 529.3L225.2 527.0ZM237.8 530.8L234.1 529.4L236.6 527.0ZM249.3 530.8L245.7 529.4L248.2 527.0ZM261.0 530.7L257.3 529.3L259.8 527.0ZM272.8 530.4L269.1 529.1L271.6 526.7ZM284.6 530.2L280.9 528.9L283.3 526.5ZM296.3 530.0L292.6 528.8L295.0 526.4ZM308.0 529.9L304.2 528.7L306.6 526.3ZM319.6 529.8L315.9 528.6L318.2 526.2ZM331.1 529.8L327.4 528.7L329.8 526.2ZM342.6 529.9L338.9 528.7L341.3 526.2ZM354.3 529.8L350.5 528.6L352.9 526.2ZM366.1 529.5L362.4 528.4L364.6 525.9ZM377.9 529.2L374.1 528.2L376.4 525.6ZM389.4 529.3L385.6 528.2L387.9 525.7ZM401.0 529.2L397.2 528.2L399.5 525.6ZM412.9 528.8L409.1 527.9L411.3 525.3ZM424.9 528.2L421.1 527.4L423.2 524.7ZM436.9 527.6L433.0 527.0L435.0 524.2ZM448.6 527.5L444.7 526.9L446.7 524.1ZM460.2 527.4L456.3 526.8L458.3 523.9ZM472.2 526.7L468.3 526.2L470.2 523.4ZM484.2 526.0L480.3 525.7L482.0 522.7ZM495.8 525.8L491.9 525.6L493.6 522.6ZM507.6 525.4L503.7 525.2L505.3 522.3ZM519.4 524.9L515.5 524.8L517.1 521.8ZM531.2 524.4L527.3 524.4L528.8 521.3ZM543.1 523.5L539.3 523.7L540.6 520.6ZM554.8 523.3L550.9 523.5L552.2 520.4ZM566.6 522.6L562.7 523.0L563.9 519.8ZM578.5 521.8L574.6 522.3L575.7 519.1ZM590.2 521.3L586.3 521.9L587.3 518.6ZM601.7 521.2L597.9 521.9L598.9 518.6ZM613.0 522.1L609.1 522.6L610.2 519.4Z" fill="#000" opacity="0.3"/>
<path d="M203.8 82.0 L203.8 84.4 L212.6 93.9 L225.3 106.5 L237.9 119.0 L244.2 128.0 L250.5 136.8 L256.8 147.0 L260.6 155.0 L262.6 162.6 L266.4 175.3 L267.0 187.9 L272.7 200.5 L282.8 210.6 L291.6 221.7 L292.7 225.0 L297.0 229.4 L292.7 232.6 L282.6 234.5 L282.0 238.9 L287.7 242.7 L296.5 252.8 L307.9 262.9 L318.0 273.0 L326.8 281.8 L338.2 292.0 L345.8 300.0 L351.4 309.4 L362.7 321.5 L377.9 333.6 L393.0 344.0 L406.7 354.8 L421.0 366.0 L429.0 370.0 L441.7 376.3 L456.8 383.9 L470.7 392.7 L485.9 401.6 L500.0 409.0 L510.4 411.7 L533.8 423.4 L540.0 429.0 L551.4 434.0 L562.7 442.0 L568.4 448.9 L571.2 456.8 L572.8 464.8 L574.6 473.4 L585.6 483.0 L596.7 494.0 L597.9 504.0 L597.9 513.8 L607.7 526.7 L609.0 530.0" stroke="#000" stroke-width="1.3" fill="none" stroke-linejoin="round"/>
<path d="M165.0 376.4 L168.0 383.4 L174.0 388.5 L182.0 389.5 L190.3 393.0 L197.4 394.0 L201.4 397.6 L208.5 398.6 L214.5 402.2 L240.8 402.2 L247.9 406.7 L252.0 402.6 L271.0 401.6 L277.0 398.6 L285.3 394.5 L291.3 390.5 L297.4 386.5 L305.5 377.4 L318.0 362.0 L327.3 357.0 L332.3 359.0 L342.4 365.0 L350.5 370.0 L360.6 376.0 L370.7 383.4 L378.8 390.5 L389.0 400.6 L405.0 414.7 L421.0 427.0 L437.4 437.0 L449.5 447.0 L460.0 460.0 L470.0 468.0 L480.6 481.0 L493.4 493.6 L512.5 508.5 L527.4 519.0 L533.8 527.6 L535.0 530.0" stroke="#000" stroke-width="1.3" fill="none" stroke-linejoin="round"/>
<path d="M164.0 510.5 L167.8 505.4 L169.3 516.5 L171.8 528.5" stroke="#000" stroke-width="1.2" fill="none" stroke-linejoin="round"/>
<path d="M291.5 244.6 L301.6 249.6 L311.7 255.3 L320.5 258.5 L329.3 261.6 L340.7 265.4 L350.8 269.2 L358.4 274.5 L366.0 278.5 L372.0 282.0 L385.5 285.5 L400.6 289.7 L412.5 295.0 L422.6 301.0 L430.0 309.0 L432.7 317.7 L429.0 325.0" stroke="#000" stroke-width="1.5" fill="none" stroke-linejoin="round"/>
<path d="M437.0 348.7 L448.0 352.5 L460.5 357.0 L473.0 360.7 L485.8 362.5 L492.0 360.7 L492.0 357.0 L485.8 348.0 L475.7 340.5 L465.6 334.0 L458.0 329.7 L454.0 326.0 L456.7 324.0 L468.0 324.0 L480.7 327.8 L492.0 333.0 L501.0 338.0 L510.0 341.0 L519.0 349.0 L525.0 361.6 L530.0 375.5 L534.0 384.0 L541.7 374.0" stroke="#000" stroke-width="1.5" fill="none" stroke-linejoin="round"/>
<path d="M284.5 202.0 L292.0 207.5 L303.0 213.5 L314.0 220.0 L322.0 226.0 L325.5 231.0 L322.0 237.0" stroke="#000" stroke-width="0.9" fill="none" stroke-linejoin="round"/>
<path d="M294.5 201.8 L312.7 207.0 L327.9 213.0 L340.0 217.7 L350.6 219.0 L359.7 217.0 L365.0 214.0 L367.0 211.0" stroke="#000" stroke-width="1.4" fill="none" stroke-linejoin="round"/>
<path d="M466.7 266.4 L465.4 269.6 L456.6 272.7 L451.0 277.0 L452.0 286.6 L456.6 294.0 L456.0 303.0" stroke="#000" stroke-width="1.4" fill="none" stroke-linejoin="round"/>
<path d="M357.7 229.0 L371.6 230.0 L381.7 234.0 L390.5 236.5 L403.0 240.0 L415.8 245.3 L422.0 251.6 L425.9 265.5 L428.4 278.0 L431.0 287.0" stroke="rgb(30,150,40)" stroke-width="0.9" fill="none" stroke-linejoin="round"/>
<path d="M322.0 246.0 L329.0 245.0 L331.0 250.0 L336.0 254.0 L346.0 256.6 L358.4 260.4 L370.0 264.5 L384.0 265.5 L395.6 263.0 L399.3 258.0 L395.6 254.0 L383.0 246.6 L371.6 240.0 L357.7 231.4" stroke="rgb(30,150,40)" stroke-width="0.9" fill="none" stroke-linejoin="round"/>
<path d="M447.7 308.0 L463.0 309.3 L478.0 308.0 L488.0 303.0 L485.6 294.0 L490.7 290.4 L495.7 293.0 L503.3 299.0 L513.4 309.0 L521.0 319.4 L526.7 333.0 L528.0 338.0" stroke="rgb(30,150,40)" stroke-width="0.9" fill="none" stroke-linejoin="round"/>
<path d="M287.0 201.5 L296.0 206.0 L308.0 211.0 L320.0 217.5 L330.0 224.0 L334.0 231.0" stroke="rgb(30,150,40)" stroke-width="0.9" fill="none" stroke-linejoin="round"/>
<path d="M433.0 326.0 L444.0 325.0 L451.0 331.0 L453.5 340.0 L451.0 347.0 L444.0 349.0 L439.0 343.0 L434.0 334.0 L433.0 326.0" stroke="rgb(30,150,40)" stroke-width="0.9" fill="none" stroke-linejoin="round"/>
<circle cx="364.2" cy="310.2" r="3.6" fill="rgb(180,250,170)" stroke="#000" stroke-width="1"/>
<path d="M217.0 82.0 L217.0 84.4 L219.0 89.5 L223.4 92.6 L229.0 92.6 L232.8 97.7 L236.6 104.0 L241.7 109.0 L249.2 110.3 L252.4 114.0 L254.3 119.8 L250.5 123.0 L249.9 128.0 L254.3 133.0 L261.9 135.6 L268.2 136.8 L270.7 143.0 L269.4 150.7 L269.0 156.3 L267.0 158.8 L270.8 163.9 L270.2 169.0 L272.7 175.3 L270.2 181.6 L268.3 187.9 L270.8 191.0 L279.0 193.6 L283.5 200.5 L291.7 199.2 L306.8 198.6 L320.7 199.9 L325.8 201.8 L338.4 203.0 L342.2 205.6 L347.6 202.7 L355.0 204.6 L362.7 209.0 L369.0 212.8 L375.4 219.0 L380.4 226.7 L388.0 231.8 L395.6 234.3 L403.0 237.4 L415.8 238.0 L427.6 236.4 L435.0 239.0 L440.2 246.5 L442.0 254.0 L440.8 261.7 L447.8 265.5 L452.8 263.0 L459.0 261.0 L465.5 264.0 L473.0 270.5 L480.6 275.6 L487.6 280.0 L495.0 287.7 L505.3 295.0 L514.0 302.8 L520.4 311.7 L525.5 320.5 L529.0 330.6 L530.5 338.0 L530.3 347.7 L531.0 355.0 L534.0 354.0 L538.0 357.0 L541.0 362.0 L542.0 368.0 L540.4 373.0 L541.7 379.0 L543.6 385.6 L546.7 393.0 L550.5 397.0 L555.0 397.6 L555.9 400.0 L558.8 409.0 L559.3 419.3 L561.6 422.0 L567.3 422.7 L569.0 428.4 L574.0 431.8 L579.8 434.0 L579.8 445.5 L577.5 448.9 L575.8 456.8 L575.8 460.0 L579.5 464.0 L581.3 468.5 L587.5 472.0 L590.5 478.0 L596.7 484.4 L601.6 490.5 L603.4 498.0 L601.6 505.0 L600.3 512.6 L606.5 513.8 L612.6 520.0 L621.0 526.7 L623.0 530.0" stroke="rgb(240,140,40)" stroke-width="1.4" fill="none" stroke-linejoin="round"/>
<path d="M282.6 237.0 L289.0 233.8 L295.3 237.0 L297.0 240.0 L291.5 239.5 L285.0 239.0Z" stroke="rgb(240,140,40)" stroke-width="1.4" fill="none" stroke-linejoin="round"/>
<path d="M299.0 240.8 L306.6 237.6 L314.2 238.9 L320.5 244.0 L316.7 247.0 L311.7 250.0 L305.4 247.7 L301.0 244.0Z" stroke="rgb(240,140,40)" stroke-width="1.4" fill="none" stroke-linejoin="round"/>
<path d="M324.3 235.0 L329.3 233.2 L338.2 236.4 L345.8 237.6 L352.0 235.7 L357.0 238.9 L353.3 242.0 L345.8 240.8 L338.2 243.3 L333.0 244.6 L326.8 241.4Z" stroke="rgb(240,140,40)" stroke-width="1.4" fill="none" stroke-linejoin="round"/>
<path d="M352.0 306.0 L356.0 305.0 L361.0 307.5 L362.0 310.5 L357.0 311.0 L353.0 309.0Z" stroke="rgb(240,140,40)" stroke-width="1.4" fill="none" stroke-linejoin="round"/>
<path d="M426.0 288.5 L431.0 287.3 L435.5 289.5 L434.8 292.3 L441.0 292.7 L446.5 297.0 L450.3 302.5 L446.5 305.0 L440.0 301.8 L434.6 299.0 L433.0 294.5 L428.5 292.0Z" stroke="rgb(240,140,40)" stroke-width="1.4" fill="none" stroke-linejoin="round"/>
<path d="M425.5 327.3 L429.0 328.0 L433.0 333.0 L437.5 338.5 L442.0 341.0 L444.5 346.0 L440.0 347.5 L435.5 344.0 L431.0 338.0 L427.5 332.0Z" stroke="rgb(240,140,40)" stroke-width="1.4" fill="none" stroke-linejoin="round"/>
<path d="M543.0 372.3 L600.0 366.6 L628.0 363.9" stroke="rgb(240,140,40)" stroke-width="1.3" fill="none" stroke-linejoin="round"/>
<path d="M570.0 443.0 L574.0 446.2 L577.5 446.6" stroke="rgb(240,140,40)" stroke-width="1.3" fill="none" stroke-linejoin="round"/>
</g>
<rect x="164.8" y="83.9" width="462.5" height="444.1" fill="none" stroke="#000" stroke-width="1.7"/>
<text x="159.2" y="88.2" font-size="12" text-anchor="end" textLength="32.4" lengthAdjust="spacingAndGlyphs" stroke="#000" stroke-width="0.45">35.75N</text>
<text x="159.2" y="110.6" font-size="12" text-anchor="end" textLength="26.8" lengthAdjust="spacingAndGlyphs" stroke="#000" stroke-width="0.45">35.5N</text>
<text x="159.2" y="133.0" font-size="12" text-anchor="end" textLength="32.4" lengthAdjust="spacingAndGlyphs" stroke="#000" stroke-width="0.45">35.25N</text>
<text x="159.2" y="155.5" font-size="12" text-anchor="end" textLength="18.5" lengthAdjust="spacingAndGlyphs" stroke="#000" stroke-width="0.45">35N</text>
<text x="159.2" y="177.9" font-size="12" text-anchor="end" textLength="32.4" lengthAdjust="spacingAndGlyphs" stroke="#000" stroke-width="0.45">34.75N</text>
<text x="159.2" y="200.3" font-size="12" text-anchor="end" textLength="26.8" lengthAdjust="spacingAndGlyphs" stroke="#000" stroke-width="0.45">34.5N</text>
<text x="159.2" y="222.7" font-size="12" text-anchor="end" textLength="32.4" lengthAdjust="spacingAndGlyphs" stroke="#000" stroke-width="0.45">34.25N</text>
<text x="159.2" y="245.1" font-size="12" text-anchor="end" textLength="18.5" lengthAdjust="spacingAndGlyphs" stroke="#000" stroke-width="0.45">34N</text>
<text x="159.2" y="267.6" font-size="12" text-anchor="end" textLength="32.4" lengthAdjust="spacingAndGlyphs" stroke="#000" stroke-width="0.45">33.75N</text>
<text x="159.2" y="290.0" font-size="12" text-anchor="end" textLength="26.8" lengthAdjust="spacingAndGlyphs" stroke="#000" stroke-width="0.45">33.5N</text>
<text x="159.2" y="312.4" font-size="12" text-anchor="end" textLength="32.4" lengthAdjust="spacingAndGlyphs" stroke="#000" stroke-width="0.45">33.25N</text>
<text x="159.2" y="334.8" font-size="12" text-anchor="end" textLength="18.5" lengthAdjust="spacingAndGlyphs" stroke="#000" stroke-width="0.45">33N</text>
<text x="159.2" y="357.2" font-size="12" text-anchor="end" textLength="32.4" lengthAdjust="spacingAndGlyphs" stroke="#000" stroke-width="0.45">32.75N</text>
<text x="159.2" y="379.7" font-size="12" text-anchor="end" textLength="26.8" lengthAdjust="spacingAndGlyphs" stroke="#000" stroke-width="0.45">32.5N</text>
<text x="159.2" y="402.1" font-size="12" text-anchor="end" textLength="32.4" lengthAdjust="spacingAndGlyphs" stroke="#000" stroke-width="0.45">32.25N</text>
<text x="159.2" y="424.5" font-size="12" text-anchor="end" textLength="18.5" lengthAdjust="spacingAndGlyphs" stroke="#000" stroke-width="0.45">32N</text>
<text x="159.2" y="446.9" font-size="12" text-anchor="end" textLength="32.4" lengthAdjust="spacingAndGlyphs" stroke="#000" stroke-width="0.45">31.75N</text>
<text x="159.2" y="469.3" font-size="12" text-anchor="end" textLength="26.8" lengthAdjust="spacingAndGlyphs" stroke="#000" stroke-width="0.45">31.5N</text>
<text x="159.2" y="491.8" font-size="12" text-anchor="end" textLength="32.4" lengthAdjust="spacingAndGlyphs" stroke="#000" stroke-width="0.45">31.25N</text>
<text x="159.2" y="514.2" font-size="12" text-anchor="end" textLength="18.5" lengthAdjust="spacingAndGlyphs" stroke="#000" stroke-width="0.45">31N</text>
<text x="164.9" y="540.7" font-size="10.4" text-anchor="middle" textLength="24.2" lengthAdjust="spacingAndGlyphs" stroke="#000" stroke-width="0.4">122W</text>
<text x="203.4" y="540.7" font-size="10.4" text-anchor="middle" textLength="31.9" lengthAdjust="spacingAndGlyphs" stroke="#000" stroke-width="0.4">121.5W</text>
<text x="242.0" y="540.7" font-size="10.4" text-anchor="middle" textLength="24.2" lengthAdjust="spacingAndGlyphs" stroke="#000" stroke-width="0.4">121W</text>
<text x="280.5" y="540.7" font-size="10.4" text-anchor="middle" textLength="31.9" lengthAdjust="spacingAndGlyphs" stroke="#000" stroke-width="0.4">120.5W</text>
<text x="319.0" y="540.7" font-size="10.4" text-anchor="middle" textLength="24.2" lengthAdjust="spacingAndGlyphs" stroke="#000" stroke-width="0.4">120W</text>
<text x="357.6" y="540.7" font-size="10.4" text-anchor="middle" textLength="31.9" lengthAdjust="spacingAndGlyphs" stroke="#000" stroke-width="0.4">119.5W</text>
<text x="396.1" y="540.7" font-size="10.4" text-anchor="middle" textLength="24.2" lengthAdjust="spacingAndGlyphs" stroke="#000" stroke-width="0.4">119W</text>
<text x="434.6" y="540.7" font-size="10.4" text-anchor="middle" textLength="31.9" lengthAdjust="spacingAndGlyphs" stroke="#000" stroke-width="0.4">118.5W</text>
<text x="473.1" y="540.7" font-size="10.4" text-anchor="middle" textLength="24.2" lengthAdjust="spacingAndGlyphs" stroke="#000" stroke-width="0.4">118W</text>
<text x="511.7" y="540.7" font-size="10.4" text-anchor="middle" textLength="31.9" lengthAdjust="spacingAndGlyphs" stroke="#000" stroke-width="0.4">117.5W</text>
<text x="550.2" y="540.7" font-size="10.4" text-anchor="middle" textLength="24.2" lengthAdjust="spacingAndGlyphs" stroke="#000" stroke-width="0.4">117W</text>
<text x="588.7" y="540.7" font-size="10.4" text-anchor="middle" textLength="31.9" lengthAdjust="spacingAndGlyphs" stroke="#000" stroke-width="0.4">116.5W</text>
<text x="627.3" y="540.7" font-size="10.4" text-anchor="middle" textLength="24.2" lengthAdjust="spacingAndGlyphs" stroke="#000" stroke-width="0.4">116W</text>
<path d="M161.1 84.0H164.8M161.1 106.4H164.8M161.1 128.8H164.8M161.1 151.3H164.8M161.1 173.7H164.8M161.1 196.1H164.8M161.1 218.5H164.8M161.1 240.9H164.8M161.1 263.4H164.8M161.1 285.8H164.8M161.1 308.2H164.8M161.1 330.6H164.8M161.1 353.0H164.8M161.1 375.5H164.8M161.1 397.9H164.8M161.1 420.3H164.8M161.1 442.7H164.8M161.1 465.1H164.8M161.1 487.6H164.8M161.1 510.0H164.8M164.9 528.0V531.6M203.4 528.0V531.6M242.0 528.0V531.6M280.5 528.0V531.6M319.0 528.0V531.6M357.6 528.0V531.6M396.1 528.0V531.6M434.6 528.0V531.6M473.1 528.0V531.6M511.7 528.0V531.6M550.2 528.0V531.6M588.7 528.0V531.6M627.3 528.0V531.6" stroke="#000" stroke-width="1.5" fill="none"/>
<text x="219.3" y="54.7" font-size="14.2" style="font-weight:normal" textLength="86.3" lengthAdjust="spacingAndGlyphs" stroke="#000" stroke-width="0.35">CEN/SOCAL</text>
<text x="316.8" y="54.7" font-size="14.2" style="font-weight:normal" textLength="70.6" lengthAdjust="spacingAndGlyphs" stroke="#000" stroke-width="0.35">REGIONAL</text>
<text x="394.2" y="54.7" font-size="14.2" style="font-weight:normal" textLength="38.2" lengthAdjust="spacingAndGlyphs" stroke="#000" stroke-width="0.35">WW3:</text>
<text x="446" y="54.7" font-size="14.2" style="font-weight:normal" stroke="#000" stroke-width="0.35">H</text>
<text x="456.6" y="57.4" font-size="8" stroke="#000" stroke-width="0.2">s</text>
<text x="470" y="54.7" font-size="14.2" style="font-weight:normal" stroke="#000" stroke-width="0.35" textLength="29" lengthAdjust="spacingAndGlyphs">(m)</text>
<text x="507.4" y="54.7" font-size="14.2" style="font-weight:normal" stroke="#000" stroke-width="0.35" textLength="17.4" lengthAdjust="spacingAndGlyphs">AZ</text>
<text x="525" y="57.4" font-size="7.6" textLength="14.2" lengthAdjust="spacingAndGlyphs" stroke="#000" stroke-width="0.3">dom</text>
<text x="151.1" y="76" font-size="12.8" textLength="24.9" lengthAdjust="spacingAndGlyphs" stroke="#000" stroke-width="0.3">Mon</text>
<text x="182.8" y="76" font-size="12.8" textLength="76.8" lengthAdjust="spacingAndGlyphs" stroke="#000" stroke-width="0.3">11/08/2021</text>
<text x="269.1" y="76" font-size="12.8" textLength="12.6" lengthAdjust="spacingAndGlyphs" stroke="#000" stroke-width="0.3">00</text>
<text x="288.5" y="76" font-size="12.8" textLength="22.2" lengthAdjust="spacingAndGlyphs" stroke="#000" stroke-width="0.3">UTC</text>
<text x="322.6" y="76" font-size="12.8" textLength="20.5" lengthAdjust="spacingAndGlyphs" stroke="#000" stroke-width="0.3">030</text>
<text x="353.3" y="76" font-size="12.8" textLength="13.7" lengthAdjust="spacingAndGlyphs" stroke="#000" stroke-width="0.3">HR</text>
<text x="375.5" y="76" font-size="12.8" textLength="30.5" lengthAdjust="spacingAndGlyphs" stroke="#000" stroke-width="0.3">FCST</text>
<text x="437.5" y="76" font-size="12.8" textLength="36.8" lengthAdjust="spacingAndGlyphs" stroke="#000" stroke-width="0.3">VALID:</text>
<text x="481.8" y="76" font-size="12.8" textLength="20.5" lengthAdjust="spacingAndGlyphs" stroke="#000" stroke-width="0.3">Tue</text>
<text x="510.8" y="76" font-size="12.8" textLength="76.0" lengthAdjust="spacingAndGlyphs" stroke="#000" stroke-width="0.3">11/09/2021</text>
<text x="596.0" y="76" font-size="12.8" textLength="12.7" lengthAdjust="spacingAndGlyphs" stroke="#000" stroke-width="0.3">06</text>
<text x="620.0" y="76" font-size="12.8" textLength="22.0" lengthAdjust="spacingAndGlyphs" stroke="#000" stroke-width="0.3">UTC</text>
<path d="M684.6 123.0L691.5 99.0L698.3 123.0Z" fill="rgb(165,0,0)" stroke="#222" stroke-width="0.9"/>
<rect x="684.6" y="123.0" width="13.7" height="21.61" fill="rgb(225,20,0)" stroke="#222" stroke-width="0.9"/>
<rect x="684.6" y="144.6" width="13.7" height="21.61" fill="rgb(255,96,0)" stroke="#222" stroke-width="0.9"/>
<rect x="684.6" y="166.2" width="13.7" height="21.61" fill="rgb(255,192,60)" stroke="#222" stroke-width="0.9"/>
<rect x="684.6" y="187.8" width="13.7" height="21.61" fill="rgb(255,250,170)" stroke="#222" stroke-width="0.9"/>
<rect x="684.6" y="209.4" width="13.7" height="21.61" fill="rgb(220,220,255)" stroke="#222" stroke-width="0.9"/>
<rect x="684.6" y="231.1" width="13.7" height="21.61" fill="rgb(192,180,255)" stroke="#222" stroke-width="0.9"/>
<rect x="684.6" y="252.7" width="13.7" height="21.61" fill="rgb(160,140,255)" stroke="#222" stroke-width="0.9"/>
<rect x="684.6" y="274.3" width="13.7" height="21.61" fill="rgb(112,96,220)" stroke="#222" stroke-width="0.9"/>
<rect x="684.6" y="295.9" width="13.7" height="21.61" fill="rgb(225,255,255)" stroke="#222" stroke-width="0.9"/>
<rect x="684.6" y="317.5" width="13.7" height="21.61" fill="rgb(180,240,250)" stroke="#222" stroke-width="0.9"/>
<rect x="684.6" y="339.1" width="13.7" height="21.61" fill="rgb(150,210,250)" stroke="#222" stroke-width="0.9"/>
<rect x="684.6" y="360.7" width="13.7" height="21.61" fill="rgb(80,165,245)" stroke="#222" stroke-width="0.9"/>
<rect x="684.6" y="382.3" width="13.7" height="21.61" fill="rgb(30,110,235)" stroke="#222" stroke-width="0.9"/>
<rect x="684.6" y="404.0" width="13.7" height="21.61" fill="rgb(230,255,225)" stroke="#222" stroke-width="0.9"/>
<rect x="684.6" y="425.6" width="13.7" height="21.61" fill="rgb(180,250,170)" stroke="#222" stroke-width="0.9"/>
<rect x="684.6" y="447.2" width="13.7" height="21.61" fill="rgb(120,245,115)" stroke="#222" stroke-width="0.9"/>
<rect x="684.6" y="468.8" width="13.7" height="21.61" fill="rgb(55,210,60)" stroke="#222" stroke-width="0.9"/>
<path d="M684.6 490.4L691.5 512.6L698.3 490.4Z" fill="rgb(15,160,15)" stroke="#222" stroke-width="0.9"/>
<text x="701.6" y="127.3" font-size="12" stroke="#000" stroke-width="0.35">12</text>
<text x="701.6" y="148.9" font-size="12" stroke="#000" stroke-width="0.35">11</text>
<text x="701.6" y="170.5" font-size="12" stroke="#000" stroke-width="0.35">10</text>
<text x="701.6" y="192.1" font-size="12" stroke="#000" stroke-width="0.35">8</text>
<text x="701.6" y="213.7" font-size="12" stroke="#000" stroke-width="0.35">7</text>
<text x="701.6" y="235.4" font-size="12" stroke="#000" stroke-width="0.35">6</text>
<text x="701.6" y="257.0" font-size="12" stroke="#000" stroke-width="0.35">5</text>
<text x="701.6" y="278.6" font-size="12" stroke="#000" stroke-width="0.35">4.5</text>
<text x="701.6" y="300.2" font-size="12" stroke="#000" stroke-width="0.35">4</text>
<text x="701.6" y="321.8" font-size="12" stroke="#000" stroke-width="0.35">3.5</text>
<text x="701.6" y="343.4" font-size="12" stroke="#000" stroke-width="0.35">3</text>
<text x="701.6" y="365.0" font-size="12" stroke="#000" stroke-width="0.35">2.5</text>
<text x="701.6" y="386.6" font-size="12" stroke="#000" stroke-width="0.35">2</text>
<text x="701.6" y="408.3" font-size="12" stroke="#000" stroke-width="0.35">1.5</text>
<text x="701.6" y="429.9" font-size="12" stroke="#000" stroke-width="0.35">1</text>
<text x="701.6" y="451.5" font-size="12" stroke="#000" stroke-width="0.35">0.75</text>
<text x="701.6" y="473.1" font-size="12" stroke="#000" stroke-width="0.35">0.5</text>
<text x="701.6" y="494.7" font-size="12" stroke="#000" stroke-width="0.35">0.25</text>
<text x="669" y="537" font-size="14" style="font-weight:normal" stroke="#000" stroke-width="0.3">H<tspan font-size="8" dy="2.5" style="font-weight:bold">s</tspan><tspan dy="-2.5" dx="11" textLength="26" lengthAdjust="spacingAndGlyphs">(m)</tspan></text>
<text x="183" y="554.6" font-size="6.8" stroke="#000" stroke-width="0.35" textLength="136" lengthAdjust="spacingAndGlyphs">CREATED: 11/08/2021 08:11:20 UTC</text>
<text x="326" y="554.6" font-size="6.8" stroke="#000" stroke-width="0.35" textLength="93.7" lengthAdjust="spacingAndGlyphs" style="fill:#e8202a;stroke:#e8202a">STATUS: HOT LINK NAM12</text>
<text x="183" y="562.6" font-size="6.8" stroke="#000" stroke-width="0.35" textLength="211" lengthAdjust="spacingAndGlyphs">BOUNDARY CONDITIONS: US NOAA/NCEP/MMAB WW3 NPH</text>
<text x="183" y="570.8" font-size="6.8" stroke="#000" stroke-width="0.35" textLength="227" lengthAdjust="spacingAndGlyphs">IMPLEMENTATION: HYDROLOGIC RESEARCH CENTER, SAN DIEGO</text>
</svg></body></html>
